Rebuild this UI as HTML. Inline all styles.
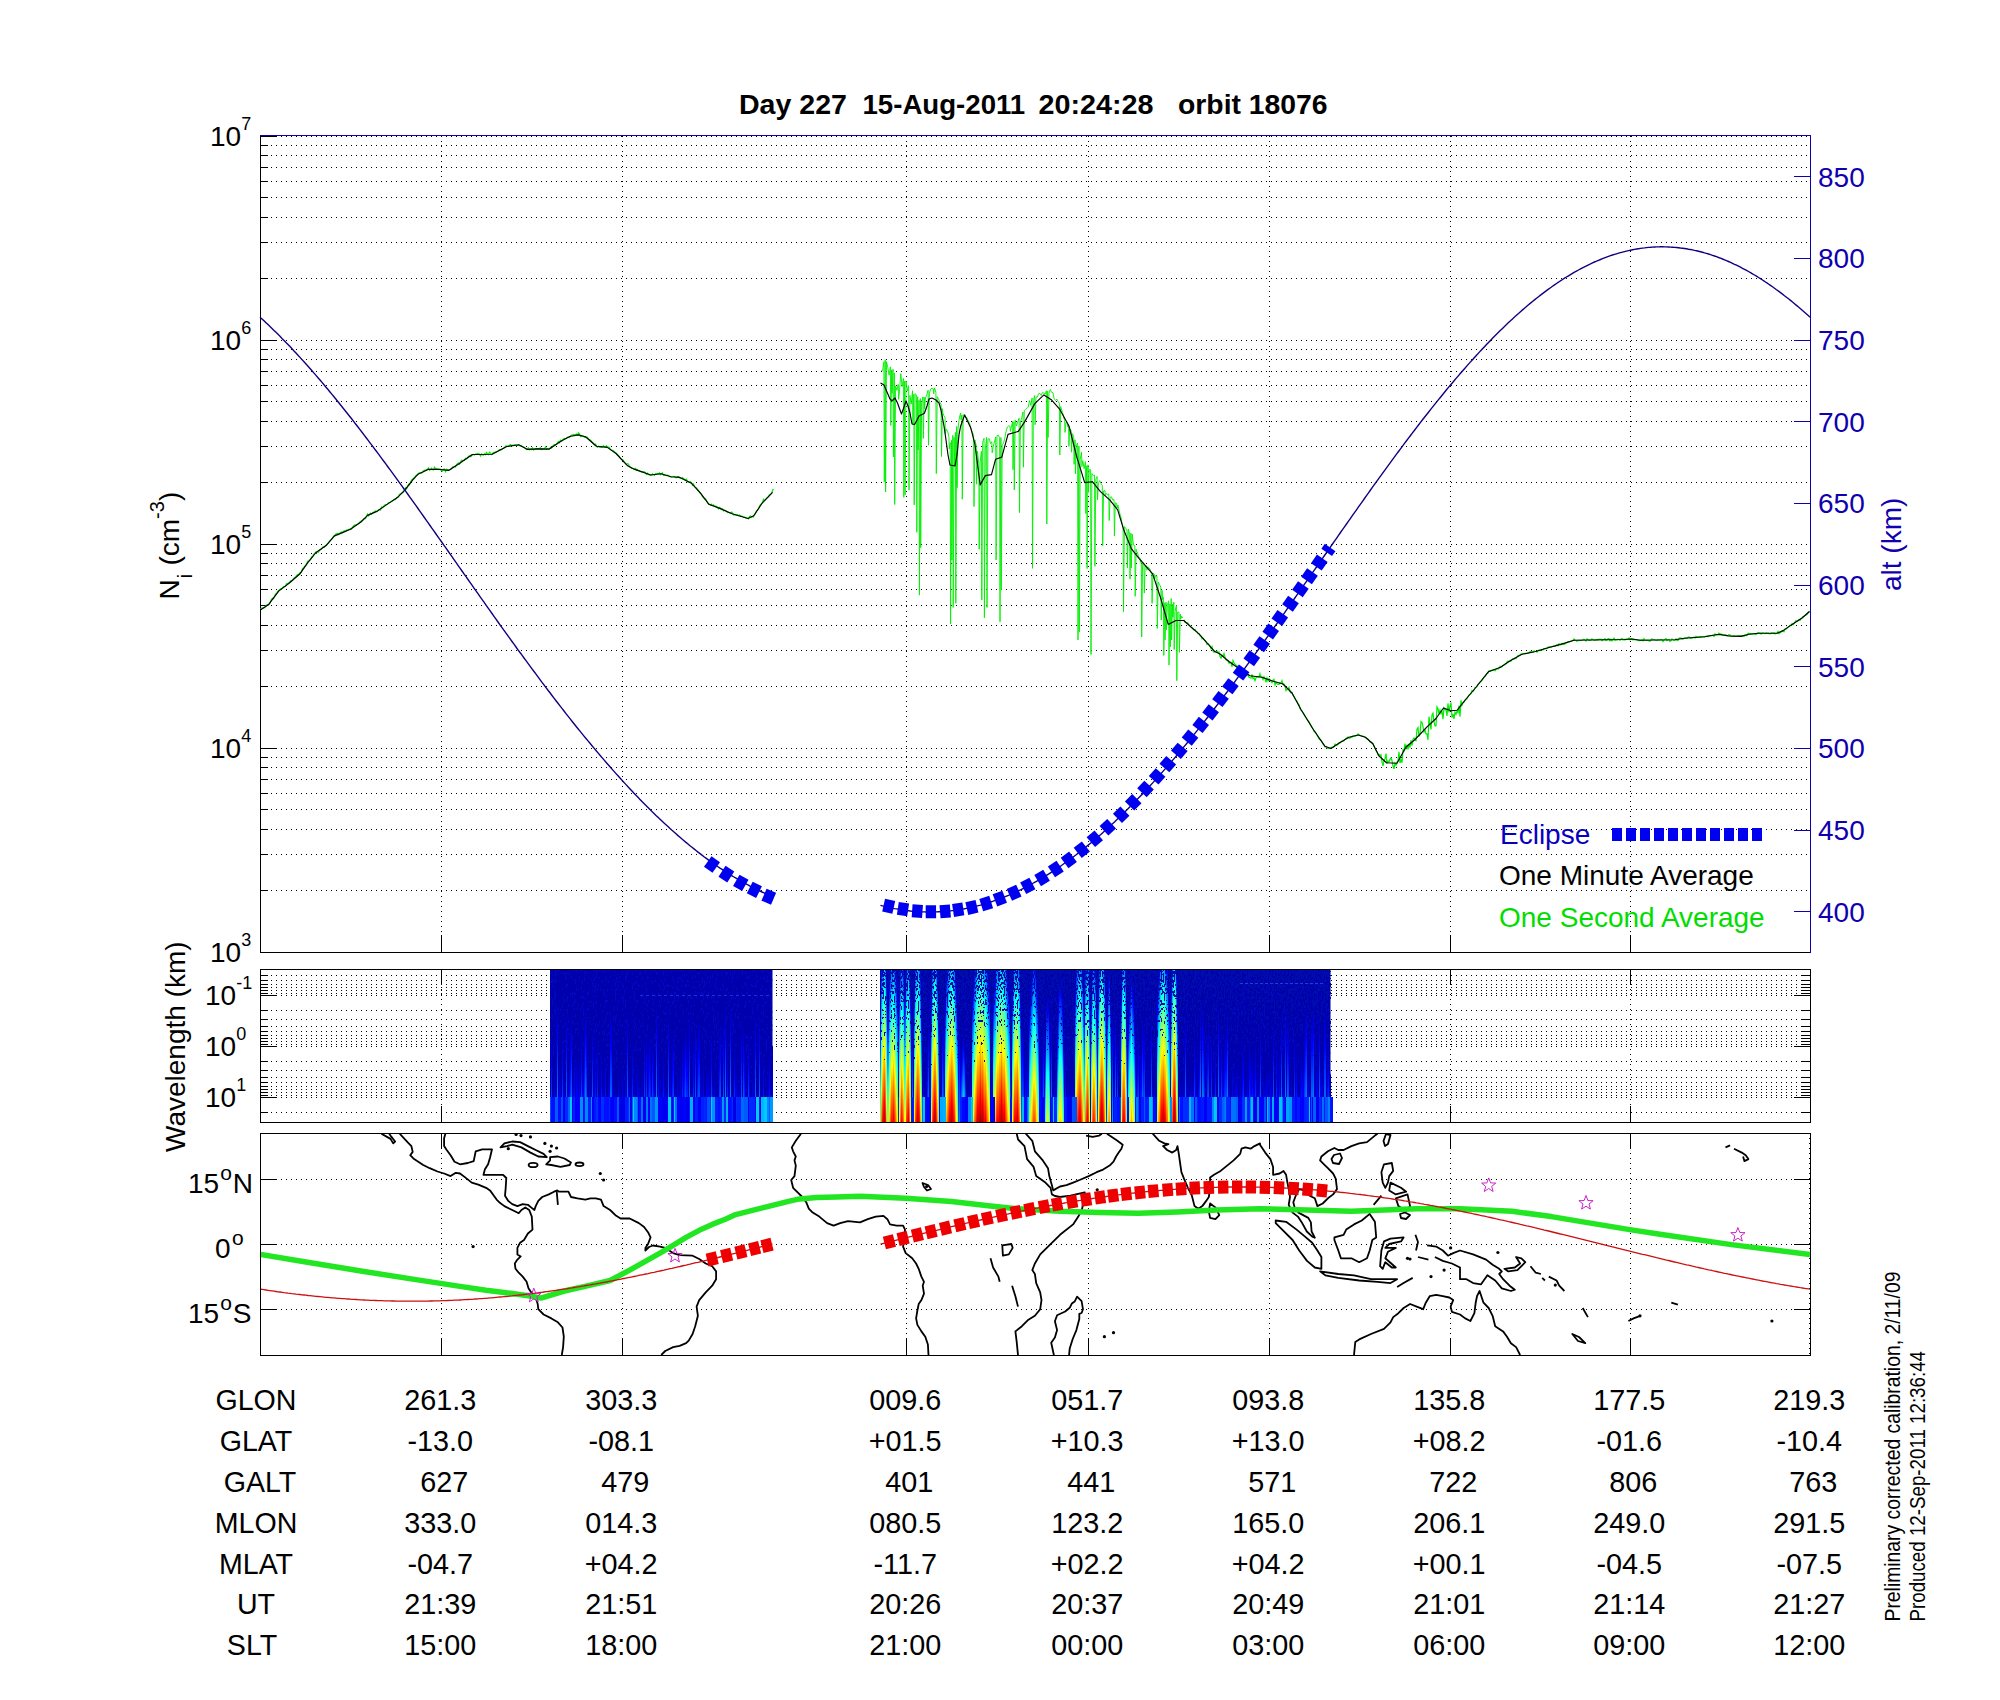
<!DOCTYPE html>
<html><head><meta charset="utf-8"><title>PLP plot</title>
<style>
html,body{margin:0;padding:0;background:#fff;}
body{width:2000px;height:1700px;overflow:hidden;}
svg{display:block;}
text{font-family:"Liberation Sans",sans-serif;white-space:pre;}
.dt{stroke:#000;stroke-width:1;stroke-dasharray:1 4;shape-rendering:crispEdges;}
.k{stroke:#000;stroke-width:1;shape-rendering:crispEdges;}
.b{stroke:#1000b0;stroke-width:1;shape-rendering:crispEdges;}
.c{fill:none;stroke:#000;stroke-width:1.8;stroke-linejoin:round;}
.gq{fill:none;stroke:#22e622;stroke-width:5.5;stroke-linejoin:round;}
.rt{fill:none;stroke:#cc1111;stroke-width:1.3;}
.rq{fill:none;stroke:#ee0000;stroke-width:13;stroke-dasharray:10 4;}
.st{fill:none;stroke:#cc22cc;stroke-width:1;}
</style></head>
<body>
<svg width="2000" height="1700" viewBox="0 0 2000 1700">
<rect width="2000" height="1700" fill="#fff"/>
<text x="739" y="114" font-size="28" fill="#000" text-anchor="start" font-weight="bold" textLength="107.9" lengthAdjust="spacingAndGlyphs">Day 227</text>
<text x="862.5" y="114" font-size="28" fill="#000" text-anchor="start" font-weight="bold" textLength="162.7" lengthAdjust="spacingAndGlyphs">15-Aug-2011</text>
<text x="1038.5" y="114" font-size="28" fill="#000" text-anchor="start" font-weight="bold" textLength="115" lengthAdjust="spacingAndGlyphs">20:24:28</text>
<text x="1178" y="114" font-size="28" fill="#000" text-anchor="start" font-weight="bold" textLength="149.6" lengthAdjust="spacingAndGlyphs">orbit 18076</text>
<g><line x1="261" y1="890.5" x2="1810" y2="890.5" class="dt"/><line x1="261" y1="854.5" x2="1810" y2="854.5" class="dt"/><line x1="261" y1="829.5" x2="1810" y2="829.5" class="dt"/><line x1="261" y1="809.5" x2="1810" y2="809.5" class="dt"/><line x1="261" y1="793.5" x2="1810" y2="793.5" class="dt"/><line x1="261" y1="779.5" x2="1810" y2="779.5" class="dt"/><line x1="261" y1="767.5" x2="1810" y2="767.5" class="dt"/><line x1="261" y1="757.5" x2="1810" y2="757.5" class="dt"/><line x1="261" y1="748.5" x2="1810" y2="748.5" class="dt"/><line x1="261" y1="686.5" x2="1810" y2="686.5" class="dt"/><line x1="261" y1="650.5" x2="1810" y2="650.5" class="dt"/><line x1="261" y1="625.5" x2="1810" y2="625.5" class="dt"/><line x1="261" y1="605.5" x2="1810" y2="605.5" class="dt"/><line x1="261" y1="589.5" x2="1810" y2="589.5" class="dt"/><line x1="261" y1="575.5" x2="1810" y2="575.5" class="dt"/><line x1="261" y1="563.5" x2="1810" y2="563.5" class="dt"/><line x1="261" y1="553.5" x2="1810" y2="553.5" class="dt"/><line x1="261" y1="544.5" x2="1810" y2="544.5" class="dt"/><line x1="261" y1="482.5" x2="1810" y2="482.5" class="dt"/><line x1="261" y1="446.5" x2="1810" y2="446.5" class="dt"/><line x1="261" y1="421.5" x2="1810" y2="421.5" class="dt"/><line x1="261" y1="401.5" x2="1810" y2="401.5" class="dt"/><line x1="261" y1="385.5" x2="1810" y2="385.5" class="dt"/><line x1="261" y1="371.5" x2="1810" y2="371.5" class="dt"/><line x1="261" y1="359.5" x2="1810" y2="359.5" class="dt"/><line x1="261" y1="349.5" x2="1810" y2="349.5" class="dt"/><line x1="261" y1="340.5" x2="1810" y2="340.5" class="dt"/><line x1="261" y1="278.5" x2="1810" y2="278.5" class="dt"/><line x1="261" y1="242.5" x2="1810" y2="242.5" class="dt"/><line x1="261" y1="217.5" x2="1810" y2="217.5" class="dt"/><line x1="261" y1="197.5" x2="1810" y2="197.5" class="dt"/><line x1="261" y1="181.5" x2="1810" y2="181.5" class="dt"/><line x1="261" y1="167.5" x2="1810" y2="167.5" class="dt"/><line x1="261" y1="155.5" x2="1810" y2="155.5" class="dt"/><line x1="261" y1="145.5" x2="1810" y2="145.5" class="dt"/><line x1="261" y1="136.5" x2="1810" y2="136.5" class="dt"/><line x1="441.5" y1="136" x2="441.5" y2="952" class="dt"/><line x1="622.5" y1="136" x2="622.5" y2="952" class="dt"/><line x1="906.5" y1="136" x2="906.5" y2="952" class="dt"/><line x1="1088.5" y1="136" x2="1088.5" y2="952" class="dt"/><line x1="1269.5" y1="136" x2="1269.5" y2="952" class="dt"/><line x1="1450.5" y1="136" x2="1450.5" y2="952" class="dt"/><line x1="1630.5" y1="136" x2="1630.5" y2="952" class="dt"/></g>
<g><line x1="260" y1="952.5" x2="276" y2="952.5" class="k"/><line x1="260" y1="890.5" x2="268" y2="890.5" class="k"/><line x1="260" y1="854.5" x2="268" y2="854.5" class="k"/><line x1="260" y1="829.5" x2="268" y2="829.5" class="k"/><line x1="260" y1="809.5" x2="268" y2="809.5" class="k"/><line x1="260" y1="793.5" x2="268" y2="793.5" class="k"/><line x1="260" y1="779.5" x2="268" y2="779.5" class="k"/><line x1="260" y1="767.5" x2="268" y2="767.5" class="k"/><line x1="260" y1="757.5" x2="268" y2="757.5" class="k"/><line x1="260" y1="748.5" x2="276" y2="748.5" class="k"/><line x1="260" y1="686.5" x2="268" y2="686.5" class="k"/><line x1="260" y1="650.5" x2="268" y2="650.5" class="k"/><line x1="260" y1="625.5" x2="268" y2="625.5" class="k"/><line x1="260" y1="605.5" x2="268" y2="605.5" class="k"/><line x1="260" y1="589.5" x2="268" y2="589.5" class="k"/><line x1="260" y1="575.5" x2="268" y2="575.5" class="k"/><line x1="260" y1="563.5" x2="268" y2="563.5" class="k"/><line x1="260" y1="553.5" x2="268" y2="553.5" class="k"/><line x1="260" y1="544.5" x2="276" y2="544.5" class="k"/><line x1="260" y1="482.5" x2="268" y2="482.5" class="k"/><line x1="260" y1="446.5" x2="268" y2="446.5" class="k"/><line x1="260" y1="421.5" x2="268" y2="421.5" class="k"/><line x1="260" y1="401.5" x2="268" y2="401.5" class="k"/><line x1="260" y1="385.5" x2="268" y2="385.5" class="k"/><line x1="260" y1="371.5" x2="268" y2="371.5" class="k"/><line x1="260" y1="359.5" x2="268" y2="359.5" class="k"/><line x1="260" y1="349.5" x2="268" y2="349.5" class="k"/><line x1="260" y1="340.5" x2="276" y2="340.5" class="k"/><line x1="260" y1="278.5" x2="268" y2="278.5" class="k"/><line x1="260" y1="242.5" x2="268" y2="242.5" class="k"/><line x1="260" y1="217.5" x2="268" y2="217.5" class="k"/><line x1="260" y1="197.5" x2="268" y2="197.5" class="k"/><line x1="260" y1="181.5" x2="268" y2="181.5" class="k"/><line x1="260" y1="167.5" x2="268" y2="167.5" class="k"/><line x1="260" y1="155.5" x2="268" y2="155.5" class="k"/><line x1="260" y1="145.5" x2="268" y2="145.5" class="k"/><line x1="260" y1="136.5" x2="276" y2="136.5" class="k"/><line x1="441.5" y1="935" x2="441.5" y2="952" class="k"/><line x1="622.5" y1="935" x2="622.5" y2="952" class="k"/><line x1="906.5" y1="935" x2="906.5" y2="952" class="k"/><line x1="1088.5" y1="935" x2="1088.5" y2="952" class="k"/><line x1="1269.5" y1="935" x2="1269.5" y2="952" class="k"/><line x1="1450.5" y1="935" x2="1450.5" y2="952" class="k"/><line x1="1630.5" y1="935" x2="1630.5" y2="952" class="k"/></g>
<line x1="260.5" y1="135" x2="260.5" y2="953" class="k"/><line x1="260" y1="952.5" x2="1811" y2="952.5" class="k"/>
<line x1="260" y1="135.5" x2="1811" y2="135.5" class="b"/><line x1="1810.5" y1="135" x2="1810.5" y2="953" class="b"/>
<text x="1818" y="922" font-size="28" fill="#1000b0" text-anchor="start" font-weight="normal" >400</text>
<text x="1818" y="840" font-size="28" fill="#1000b0" text-anchor="start" font-weight="normal" >450</text>
<text x="1818" y="758" font-size="28" fill="#1000b0" text-anchor="start" font-weight="normal" >500</text>
<text x="1818" y="677" font-size="28" fill="#1000b0" text-anchor="start" font-weight="normal" >550</text>
<text x="1818" y="595" font-size="28" fill="#1000b0" text-anchor="start" font-weight="normal" >600</text>
<text x="1818" y="513" font-size="28" fill="#1000b0" text-anchor="start" font-weight="normal" >650</text>
<text x="1818" y="432" font-size="28" fill="#1000b0" text-anchor="start" font-weight="normal" >700</text>
<text x="1818" y="350" font-size="28" fill="#1000b0" text-anchor="start" font-weight="normal" >750</text>
<text x="1818" y="268" font-size="28" fill="#1000b0" text-anchor="start" font-weight="normal" >800</text>
<text x="1818" y="187" font-size="28" fill="#1000b0" text-anchor="start" font-weight="normal" >850</text>
<g><line x1="1794" y1="911.5" x2="1810" y2="911.5" class="b"/><line x1="1794" y1="830.5" x2="1810" y2="830.5" class="b"/><line x1="1794" y1="748.5" x2="1810" y2="748.5" class="b"/><line x1="1794" y1="666.5" x2="1810" y2="666.5" class="b"/><line x1="1794" y1="585.5" x2="1810" y2="585.5" class="b"/><line x1="1794" y1="503.5" x2="1810" y2="503.5" class="b"/><line x1="1794" y1="421.5" x2="1810" y2="421.5" class="b"/><line x1="1794" y1="340.5" x2="1810" y2="340.5" class="b"/><line x1="1794" y1="258.5" x2="1810" y2="258.5" class="b"/><line x1="1794" y1="176.5" x2="1810" y2="176.5" class="b"/></g>
<text x="210" y="962.0" font-size="28">10<tspan dy="-16" font-size="18">3</tspan></text>
<text x="210" y="758.0" font-size="28">10<tspan dy="-16" font-size="18">4</tspan></text>
<text x="210" y="554.0" font-size="28">10<tspan dy="-16" font-size="18">5</tspan></text>
<text x="210" y="350.0" font-size="28">10<tspan dy="-16" font-size="18">6</tspan></text>
<text x="210" y="146.0" font-size="28">10<tspan dy="-16" font-size="18">7</tspan></text>
<text transform="translate(178.7,599.5) rotate(-90)" font-size="28">N<tspan font-size="20" dy="13" dx="1">i</tspan><tspan dy="-13" dx="0.5"> (cm</tspan><tspan font-size="20" dy="-15">-3</tspan><tspan dy="15">)</tspan></text>
<text transform="translate(1901,591) rotate(-90)" font-size="28" fill="#1000b0">alt (km)</text>
<g id="p2grid"><line x1="261" y1="975.5" x2="1810" y2="975.5" class="dt"/><line x1="260" y1="975.5" x2="268" y2="975.5" class="k"/><line x1="1802" y1="975.5" x2="1810" y2="975.5" class="k"/><line x1="261" y1="980.5" x2="1810" y2="980.5" class="dt"/><line x1="260" y1="980.5" x2="268" y2="980.5" class="k"/><line x1="1802" y1="980.5" x2="1810" y2="980.5" class="k"/><line x1="261" y1="984.5" x2="1810" y2="984.5" class="dt"/><line x1="260" y1="984.5" x2="268" y2="984.5" class="k"/><line x1="1802" y1="984.5" x2="1810" y2="984.5" class="k"/><line x1="261" y1="987.5" x2="1810" y2="987.5" class="dt"/><line x1="260" y1="987.5" x2="268" y2="987.5" class="k"/><line x1="1802" y1="987.5" x2="1810" y2="987.5" class="k"/><line x1="261" y1="990.5" x2="1810" y2="990.5" class="dt"/><line x1="260" y1="990.5" x2="268" y2="990.5" class="k"/><line x1="1802" y1="990.5" x2="1810" y2="990.5" class="k"/><line x1="261" y1="993.5" x2="1810" y2="993.5" class="dt"/><line x1="260" y1="993.5" x2="268" y2="993.5" class="k"/><line x1="1802" y1="993.5" x2="1810" y2="993.5" class="k"/><line x1="261" y1="995.5" x2="1810" y2="995.5" class="dt"/><line x1="260" y1="995.5" x2="276" y2="995.5" class="k"/><line x1="1794" y1="995.5" x2="1810" y2="995.5" class="k"/><line x1="261" y1="1010.5" x2="1810" y2="1010.5" class="dt"/><line x1="260" y1="1010.5" x2="268" y2="1010.5" class="k"/><line x1="1802" y1="1010.5" x2="1810" y2="1010.5" class="k"/><line x1="261" y1="1019.5" x2="1810" y2="1019.5" class="dt"/><line x1="260" y1="1019.5" x2="268" y2="1019.5" class="k"/><line x1="1802" y1="1019.5" x2="1810" y2="1019.5" class="k"/><line x1="261" y1="1026.5" x2="1810" y2="1026.5" class="dt"/><line x1="260" y1="1026.5" x2="268" y2="1026.5" class="k"/><line x1="1802" y1="1026.5" x2="1810" y2="1026.5" class="k"/><line x1="261" y1="1031.5" x2="1810" y2="1031.5" class="dt"/><line x1="260" y1="1031.5" x2="268" y2="1031.5" class="k"/><line x1="1802" y1="1031.5" x2="1810" y2="1031.5" class="k"/><line x1="261" y1="1035.5" x2="1810" y2="1035.5" class="dt"/><line x1="260" y1="1035.5" x2="268" y2="1035.5" class="k"/><line x1="1802" y1="1035.5" x2="1810" y2="1035.5" class="k"/><line x1="261" y1="1038.5" x2="1810" y2="1038.5" class="dt"/><line x1="260" y1="1038.5" x2="268" y2="1038.5" class="k"/><line x1="1802" y1="1038.5" x2="1810" y2="1038.5" class="k"/><line x1="261" y1="1041.5" x2="1810" y2="1041.5" class="dt"/><line x1="260" y1="1041.5" x2="268" y2="1041.5" class="k"/><line x1="1802" y1="1041.5" x2="1810" y2="1041.5" class="k"/><line x1="261" y1="1044.5" x2="1810" y2="1044.5" class="dt"/><line x1="260" y1="1044.5" x2="268" y2="1044.5" class="k"/><line x1="1802" y1="1044.5" x2="1810" y2="1044.5" class="k"/><line x1="261" y1="1046.5" x2="1810" y2="1046.5" class="dt"/><line x1="260" y1="1046.5" x2="276" y2="1046.5" class="k"/><line x1="1794" y1="1046.5" x2="1810" y2="1046.5" class="k"/><line x1="261" y1="1061.5" x2="1810" y2="1061.5" class="dt"/><line x1="260" y1="1061.5" x2="268" y2="1061.5" class="k"/><line x1="1802" y1="1061.5" x2="1810" y2="1061.5" class="k"/><line x1="261" y1="1070.5" x2="1810" y2="1070.5" class="dt"/><line x1="260" y1="1070.5" x2="268" y2="1070.5" class="k"/><line x1="1802" y1="1070.5" x2="1810" y2="1070.5" class="k"/><line x1="261" y1="1077.5" x2="1810" y2="1077.5" class="dt"/><line x1="260" y1="1077.5" x2="268" y2="1077.5" class="k"/><line x1="1802" y1="1077.5" x2="1810" y2="1077.5" class="k"/><line x1="261" y1="1082.5" x2="1810" y2="1082.5" class="dt"/><line x1="260" y1="1082.5" x2="268" y2="1082.5" class="k"/><line x1="1802" y1="1082.5" x2="1810" y2="1082.5" class="k"/><line x1="261" y1="1086.5" x2="1810" y2="1086.5" class="dt"/><line x1="260" y1="1086.5" x2="268" y2="1086.5" class="k"/><line x1="1802" y1="1086.5" x2="1810" y2="1086.5" class="k"/><line x1="261" y1="1089.5" x2="1810" y2="1089.5" class="dt"/><line x1="260" y1="1089.5" x2="268" y2="1089.5" class="k"/><line x1="1802" y1="1089.5" x2="1810" y2="1089.5" class="k"/><line x1="261" y1="1092.5" x2="1810" y2="1092.5" class="dt"/><line x1="260" y1="1092.5" x2="268" y2="1092.5" class="k"/><line x1="1802" y1="1092.5" x2="1810" y2="1092.5" class="k"/><line x1="261" y1="1095.5" x2="1810" y2="1095.5" class="dt"/><line x1="260" y1="1095.5" x2="268" y2="1095.5" class="k"/><line x1="1802" y1="1095.5" x2="1810" y2="1095.5" class="k"/><line x1="261" y1="1097.5" x2="1810" y2="1097.5" class="dt"/><line x1="260" y1="1097.5" x2="276" y2="1097.5" class="k"/><line x1="1794" y1="1097.5" x2="1810" y2="1097.5" class="k"/><line x1="261" y1="1112.5" x2="1810" y2="1112.5" class="dt"/><line x1="260" y1="1112.5" x2="268" y2="1112.5" class="k"/><line x1="1802" y1="1112.5" x2="1810" y2="1112.5" class="k"/><line x1="441.5" y1="969" x2="441.5" y2="1122" class="dt"/><line x1="441.5" y1="969" x2="441.5" y2="985" class="k"/><line x1="441.5" y1="1106" x2="441.5" y2="1122" class="k"/><line x1="622.5" y1="969" x2="622.5" y2="1122" class="dt"/><line x1="622.5" y1="969" x2="622.5" y2="985" class="k"/><line x1="622.5" y1="1106" x2="622.5" y2="1122" class="k"/><line x1="906.5" y1="969" x2="906.5" y2="1122" class="dt"/><line x1="906.5" y1="969" x2="906.5" y2="985" class="k"/><line x1="906.5" y1="1106" x2="906.5" y2="1122" class="k"/><line x1="1088.5" y1="969" x2="1088.5" y2="1122" class="dt"/><line x1="1088.5" y1="969" x2="1088.5" y2="985" class="k"/><line x1="1088.5" y1="1106" x2="1088.5" y2="1122" class="k"/><line x1="1269.5" y1="969" x2="1269.5" y2="1122" class="dt"/><line x1="1269.5" y1="969" x2="1269.5" y2="985" class="k"/><line x1="1269.5" y1="1106" x2="1269.5" y2="1122" class="k"/><line x1="1450.5" y1="969" x2="1450.5" y2="1122" class="dt"/><line x1="1450.5" y1="969" x2="1450.5" y2="985" class="k"/><line x1="1450.5" y1="1106" x2="1450.5" y2="1122" class="k"/><line x1="1630.5" y1="969" x2="1630.5" y2="1122" class="dt"/><line x1="1630.5" y1="969" x2="1630.5" y2="985" class="k"/><line x1="1630.5" y1="1106" x2="1630.5" y2="1122" class="k"/></g>
<defs><linearGradient id="jet" x1="0" y1="0" x2="0" y2="1"><stop offset="0" stop-color="#0000ad"/><stop offset="0.045" stop-color="#0000ad"/><stop offset="0.125" stop-color="#0000ff"/><stop offset="0.25" stop-color="#007fff"/><stop offset="0.375" stop-color="#00ffff"/><stop offset="0.5" stop-color="#7fff7f"/><stop offset="0.625" stop-color="#ffff00"/><stop offset="0.75" stop-color="#ff7f00"/><stop offset="0.875" stop-color="#ff0000"/><stop offset="1.0" stop-color="#7f0000"/></linearGradient><clipPath id="spc"><rect x="261" y="970" width="1549" height="152"/></clipPath><clipPath id="blk"><rect x="550" y="970" width="222.5" height="152"/><rect x="880" y="970" width="450.5" height="152"/></clipPath><linearGradient id="spkg" x1="0" y1="0" x2="0" y2="1"><stop offset="0" stop-color="#a0a0a0"/><stop offset="0.5" stop-color="#6a6a6a"/><stop offset="1" stop-color="#202020"/></linearGradient><filter id="spk" x="880" y="970" width="451" height="152" filterUnits="userSpaceOnUse" color-interpolation-filters="sRGB"><feTurbulence type="fractalNoise" baseFrequency="0.7 0.35" numOctaves="1" seed="4" result="n0"/><feColorMatrix in="n0" type="matrix" values="1 0 0 0 0  1 0 0 0 0  1 0 0 0 0  0 0 0 0 1" result="n"/><feComposite in="n" in2="SourceGraphic" operator="arithmetic" k1="0" k2="1" k3="1" k4="-0.6" result="s"/><feColorMatrix in="s" type="matrix" values="0 0 0 0 0  0 0 0 0 0.05  0 0 0 0 0.66  1 0 0 0 0"/><feComponentTransfer><feFuncA type="discrete" tableValues="0 1"/></feComponentTransfer></filter><filter id="tex" x="550" y="970" width="781" height="152" filterUnits="userSpaceOnUse" color-interpolation-filters="sRGB"><feTurbulence type="fractalNoise" baseFrequency="0.9 0.25" numOctaves="1" seed="9" result="n0"/><feColorMatrix in="n0" type="matrix" values="0 0 0 0 0.02  0 0 0 0 0.06  0 0 0 0 0.85  2.2 0 0 0 -0.85"/><feComponentTransfer><feFuncA type="discrete" tableValues="0 0.55"/></feComponentTransfer></filter></defs>
<g clip-path="url(#spc)">
<rect x="880" y="970" width="450.5" height="152" fill="#0000ad"/>
<rect x="550" y="970" width="222.5" height="152" fill="#0000ad"/>
<g clip-path="url(#blk)"><rect x="550" y="970" width="781" height="152" fill="#000" filter="url(#tex)"/></g>
<rect x="550" y="1083.9" width="1" height="476" fill="url(#jet)"/>
<rect x="551" y="1007.7" width="1" height="476" fill="url(#jet)"/>
<rect x="552" y="1074.4" width="1" height="476" fill="url(#jet)"/>
<rect x="553" y="1083.9" width="1" height="476" fill="url(#jet)"/>
<rect x="554" y="1045.8" width="1" height="476" fill="url(#jet)"/>
<rect x="555" y="1064.9" width="2" height="476" fill="url(#jet)"/>
<rect x="557" y="979.1" width="1" height="476" fill="url(#jet)"/>
<rect x="558" y="1064.9" width="1" height="476" fill="url(#jet)"/>
<rect x="559" y="1036.3" width="1" height="476" fill="url(#jet)"/>
<rect x="560" y="1045.8" width="1" height="476" fill="url(#jet)"/>
<rect x="561" y="1074.4" width="1" height="476" fill="url(#jet)"/>
<rect x="562" y="1007.7" width="1" height="476" fill="url(#jet)"/>
<rect x="563" y="1055.3" width="2" height="476" fill="url(#jet)"/>
<rect x="565" y="1093.4" width="1" height="476" fill="url(#jet)"/>
<rect x="566" y="988.7" width="1" height="476" fill="url(#jet)"/>
<rect x="567" y="1064.9" width="1" height="476" fill="url(#jet)"/>
<rect x="568" y="1055.3" width="1" height="476" fill="url(#jet)"/>
<rect x="569" y="1036.3" width="1" height="476" fill="url(#jet)"/>
<rect x="570" y="1007.7" width="1" height="476" fill="url(#jet)"/>
<rect x="571" y="988.7" width="1" height="476" fill="url(#jet)"/>
<rect x="572" y="1055.3" width="1" height="476" fill="url(#jet)"/>
<rect x="573" y="1045.8" width="1" height="476" fill="url(#jet)"/>
<rect x="574" y="1026.8" width="1" height="476" fill="url(#jet)"/>
<rect x="575" y="1083.9" width="1" height="476" fill="url(#jet)"/>
<rect x="576" y="1036.3" width="2" height="476" fill="url(#jet)"/>
<rect x="578" y="1074.4" width="1" height="476" fill="url(#jet)"/>
<rect x="579" y="1036.3" width="1" height="476" fill="url(#jet)"/>
<rect x="580" y="1055.3" width="1" height="476" fill="url(#jet)"/>
<rect x="581" y="1007.7" width="1" height="476" fill="url(#jet)"/>
<rect x="582" y="1036.3" width="1" height="476" fill="url(#jet)"/>
<rect x="583" y="1045.8" width="1" height="476" fill="url(#jet)"/>
<rect x="584" y="1007.7" width="1" height="476" fill="url(#jet)"/>
<rect x="585" y="979.1" width="1" height="476" fill="url(#jet)"/>
<rect x="586" y="998.2" width="1" height="476" fill="url(#jet)"/>
<rect x="587" y="1074.4" width="1" height="476" fill="url(#jet)"/>
<rect x="588" y="1083.9" width="1" height="476" fill="url(#jet)"/>
<rect x="589" y="1055.3" width="1" height="476" fill="url(#jet)"/>
<rect x="590" y="1083.9" width="1" height="476" fill="url(#jet)"/>
<rect x="591" y="1055.3" width="1" height="476" fill="url(#jet)"/>
<rect x="592" y="998.2" width="1" height="476" fill="url(#jet)"/>
<rect x="593" y="1064.9" width="1" height="476" fill="url(#jet)"/>
<rect x="594" y="1055.3" width="1" height="476" fill="url(#jet)"/>
<rect x="595" y="1026.8" width="1" height="476" fill="url(#jet)"/>
<rect x="596" y="1064.9" width="1" height="476" fill="url(#jet)"/>
<rect x="597" y="1017.2" width="1" height="476" fill="url(#jet)"/>
<rect x="598" y="1083.9" width="2" height="476" fill="url(#jet)"/>
<rect x="600" y="1064.9" width="1" height="476" fill="url(#jet)"/>
<rect x="601" y="1026.8" width="1" height="476" fill="url(#jet)"/>
<rect x="602" y="1064.9" width="1" height="476" fill="url(#jet)"/>
<rect x="603" y="1055.3" width="1" height="476" fill="url(#jet)"/>
<rect x="604" y="1074.4" width="1" height="476" fill="url(#jet)"/>
<rect x="605" y="1026.8" width="1" height="476" fill="url(#jet)"/>
<rect x="606" y="1074.4" width="1" height="476" fill="url(#jet)"/>
<rect x="607" y="1093.4" width="1" height="476" fill="url(#jet)"/>
<rect x="608" y="1045.8" width="1" height="476" fill="url(#jet)"/>
<rect x="609" y="1055.3" width="1" height="476" fill="url(#jet)"/>
<rect x="610" y="988.7" width="2" height="476" fill="url(#jet)"/>
<rect x="612" y="1036.3" width="1" height="476" fill="url(#jet)"/>
<rect x="613" y="1074.4" width="1" height="476" fill="url(#jet)"/>
<rect x="614" y="1064.9" width="2" height="476" fill="url(#jet)"/>
<rect x="616" y="1083.9" width="1" height="476" fill="url(#jet)"/>
<rect x="617" y="1074.4" width="1" height="476" fill="url(#jet)"/>
<rect x="618" y="1045.8" width="1" height="476" fill="url(#jet)"/>
<rect x="619" y="1064.9" width="2" height="476" fill="url(#jet)"/>
<rect x="621" y="1083.9" width="1" height="476" fill="url(#jet)"/>
<rect x="622" y="1036.3" width="1" height="476" fill="url(#jet)"/>
<rect x="623" y="1083.9" width="2" height="476" fill="url(#jet)"/>
<rect x="625" y="1045.8" width="1" height="476" fill="url(#jet)"/>
<rect x="626" y="1074.4" width="1" height="476" fill="url(#jet)"/>
<rect x="627" y="988.7" width="1" height="476" fill="url(#jet)"/>
<rect x="628" y="1045.8" width="1" height="476" fill="url(#jet)"/>
<rect x="629" y="1055.3" width="1" height="476" fill="url(#jet)"/>
<rect x="630" y="1064.9" width="1" height="476" fill="url(#jet)"/>
<rect x="631" y="1055.3" width="1" height="476" fill="url(#jet)"/>
<rect x="632" y="1017.2" width="1" height="476" fill="url(#jet)"/>
<rect x="633" y="1093.4" width="1" height="476" fill="url(#jet)"/>
<rect x="634" y="1055.3" width="1" height="476" fill="url(#jet)"/>
<rect x="635" y="1064.9" width="1" height="476" fill="url(#jet)"/>
<rect x="636" y="1083.9" width="1" height="476" fill="url(#jet)"/>
<rect x="637" y="1036.3" width="1" height="476" fill="url(#jet)"/>
<rect x="638" y="1055.3" width="2" height="476" fill="url(#jet)"/>
<rect x="640" y="1083.9" width="1" height="476" fill="url(#jet)"/>
<rect x="641" y="1055.3" width="1" height="476" fill="url(#jet)"/>
<rect x="642" y="1045.8" width="1" height="476" fill="url(#jet)"/>
<rect x="643" y="1074.4" width="1" height="476" fill="url(#jet)"/>
<rect x="644" y="1007.7" width="1" height="476" fill="url(#jet)"/>
<rect x="645" y="1064.9" width="1" height="476" fill="url(#jet)"/>
<rect x="646" y="1007.7" width="1" height="476" fill="url(#jet)"/>
<rect x="647" y="1064.9" width="1" height="476" fill="url(#jet)"/>
<rect x="648" y="1026.8" width="1" height="476" fill="url(#jet)"/>
<rect x="649" y="1007.7" width="1" height="476" fill="url(#jet)"/>
<rect x="650" y="1017.2" width="1" height="476" fill="url(#jet)"/>
<rect x="651" y="1064.9" width="1" height="476" fill="url(#jet)"/>
<rect x="652" y="1007.7" width="1" height="476" fill="url(#jet)"/>
<rect x="653" y="1026.8" width="1" height="476" fill="url(#jet)"/>
<rect x="654" y="1055.3" width="2" height="476" fill="url(#jet)"/>
<rect x="656" y="979.1" width="1" height="476" fill="url(#jet)"/>
<rect x="657" y="1083.9" width="1" height="476" fill="url(#jet)"/>
<rect x="658" y="1026.8" width="1" height="476" fill="url(#jet)"/>
<rect x="659" y="1074.4" width="1" height="476" fill="url(#jet)"/>
<rect x="660" y="1045.8" width="1" height="476" fill="url(#jet)"/>
<rect x="661" y="1064.9" width="1" height="476" fill="url(#jet)"/>
<rect x="662" y="1055.3" width="1" height="476" fill="url(#jet)"/>
<rect x="663" y="1026.8" width="1" height="476" fill="url(#jet)"/>
<rect x="664" y="1064.9" width="1" height="476" fill="url(#jet)"/>
<rect x="665" y="1055.3" width="1" height="476" fill="url(#jet)"/>
<rect x="666" y="1064.9" width="2" height="476" fill="url(#jet)"/>
<rect x="668" y="988.7" width="1" height="476" fill="url(#jet)"/>
<rect x="669" y="1064.9" width="1" height="476" fill="url(#jet)"/>
<rect x="670" y="1036.3" width="1" height="476" fill="url(#jet)"/>
<rect x="671" y="1055.3" width="1" height="476" fill="url(#jet)"/>
<rect x="672" y="1017.2" width="1" height="476" fill="url(#jet)"/>
<rect x="673" y="1007.7" width="1" height="476" fill="url(#jet)"/>
<rect x="674" y="1064.9" width="2" height="476" fill="url(#jet)"/>
<rect x="676" y="1074.4" width="1" height="476" fill="url(#jet)"/>
<rect x="677" y="1045.8" width="1" height="476" fill="url(#jet)"/>
<rect x="678" y="1083.9" width="1" height="476" fill="url(#jet)"/>
<rect x="679" y="1055.3" width="1" height="476" fill="url(#jet)"/>
<rect x="680" y="1036.3" width="1" height="476" fill="url(#jet)"/>
<rect x="681" y="1083.9" width="1" height="476" fill="url(#jet)"/>
<rect x="682" y="1017.2" width="1" height="476" fill="url(#jet)"/>
<rect x="683" y="1036.3" width="1" height="476" fill="url(#jet)"/>
<rect x="684" y="1017.2" width="1" height="476" fill="url(#jet)"/>
<rect x="685" y="998.2" width="1" height="476" fill="url(#jet)"/>
<rect x="686" y="1017.2" width="2" height="476" fill="url(#jet)"/>
<rect x="688" y="1064.9" width="1" height="476" fill="url(#jet)"/>
<rect x="689" y="988.7" width="1" height="476" fill="url(#jet)"/>
<rect x="690" y="1064.9" width="1" height="476" fill="url(#jet)"/>
<rect x="691" y="1083.9" width="1" height="476" fill="url(#jet)"/>
<rect x="692" y="1055.3" width="1" height="476" fill="url(#jet)"/>
<rect x="693" y="1017.2" width="1" height="476" fill="url(#jet)"/>
<rect x="694" y="1064.9" width="1" height="476" fill="url(#jet)"/>
<rect x="695" y="998.2" width="1" height="476" fill="url(#jet)"/>
<rect x="696" y="1083.9" width="1" height="476" fill="url(#jet)"/>
<rect x="697" y="1017.2" width="1" height="476" fill="url(#jet)"/>
<rect x="698" y="998.2" width="2" height="476" fill="url(#jet)"/>
<rect x="700" y="1083.9" width="1" height="476" fill="url(#jet)"/>
<rect x="701" y="1045.8" width="1" height="476" fill="url(#jet)"/>
<rect x="702" y="1064.9" width="1" height="476" fill="url(#jet)"/>
<rect x="703" y="1036.3" width="1" height="476" fill="url(#jet)"/>
<rect x="704" y="1074.4" width="2" height="476" fill="url(#jet)"/>
<rect x="706" y="1045.8" width="3" height="476" fill="url(#jet)"/>
<rect x="709" y="1055.3" width="1" height="476" fill="url(#jet)"/>
<rect x="710" y="1074.4" width="1" height="476" fill="url(#jet)"/>
<rect x="711" y="1007.7" width="1" height="476" fill="url(#jet)"/>
<rect x="712" y="1045.8" width="1" height="476" fill="url(#jet)"/>
<rect x="713" y="1064.9" width="1" height="476" fill="url(#jet)"/>
<rect x="714" y="1055.3" width="1" height="476" fill="url(#jet)"/>
<rect x="715" y="1083.9" width="1" height="476" fill="url(#jet)"/>
<rect x="716" y="1064.9" width="1" height="476" fill="url(#jet)"/>
<rect x="717" y="1083.9" width="2" height="476" fill="url(#jet)"/>
<rect x="719" y="1007.7" width="1" height="476" fill="url(#jet)"/>
<rect x="720" y="998.2" width="1" height="476" fill="url(#jet)"/>
<rect x="721" y="1074.4" width="1" height="476" fill="url(#jet)"/>
<rect x="722" y="1083.9" width="1" height="476" fill="url(#jet)"/>
<rect x="723" y="998.2" width="1" height="476" fill="url(#jet)"/>
<rect x="724" y="1074.4" width="1" height="476" fill="url(#jet)"/>
<rect x="725" y="979.1" width="1" height="476" fill="url(#jet)"/>
<rect x="726" y="1093.4" width="1" height="476" fill="url(#jet)"/>
<rect x="727" y="1017.2" width="1" height="476" fill="url(#jet)"/>
<rect x="728" y="1064.9" width="1" height="476" fill="url(#jet)"/>
<rect x="729" y="1045.8" width="1" height="476" fill="url(#jet)"/>
<rect x="730" y="979.1" width="1" height="476" fill="url(#jet)"/>
<rect x="731" y="1074.4" width="1" height="476" fill="url(#jet)"/>
<rect x="732" y="1064.9" width="2" height="476" fill="url(#jet)"/>
<rect x="734" y="1017.2" width="1" height="476" fill="url(#jet)"/>
<rect x="735" y="1045.8" width="2" height="476" fill="url(#jet)"/>
<rect x="737" y="1055.3" width="1" height="476" fill="url(#jet)"/>
<rect x="738" y="1083.9" width="1" height="476" fill="url(#jet)"/>
<rect x="739" y="1055.3" width="1" height="476" fill="url(#jet)"/>
<rect x="740" y="1093.4" width="1" height="476" fill="url(#jet)"/>
<rect x="741" y="998.2" width="1" height="476" fill="url(#jet)"/>
<rect x="742" y="1083.9" width="1" height="476" fill="url(#jet)"/>
<rect x="743" y="998.2" width="1" height="476" fill="url(#jet)"/>
<rect x="744" y="1017.2" width="1" height="476" fill="url(#jet)"/>
<rect x="745" y="1045.8" width="1" height="476" fill="url(#jet)"/>
<rect x="746" y="1093.4" width="1" height="476" fill="url(#jet)"/>
<rect x="747" y="1064.9" width="1" height="476" fill="url(#jet)"/>
<rect x="748" y="1007.7" width="1" height="476" fill="url(#jet)"/>
<rect x="749" y="1036.3" width="1" height="476" fill="url(#jet)"/>
<rect x="750" y="1083.9" width="2" height="476" fill="url(#jet)"/>
<rect x="752" y="1045.8" width="1" height="476" fill="url(#jet)"/>
<rect x="753" y="1055.3" width="1" height="476" fill="url(#jet)"/>
<rect x="754" y="1074.4" width="1" height="476" fill="url(#jet)"/>
<rect x="755" y="988.7" width="1" height="476" fill="url(#jet)"/>
<rect x="756" y="1083.9" width="1" height="476" fill="url(#jet)"/>
<rect x="757" y="1064.9" width="2" height="476" fill="url(#jet)"/>
<rect x="759" y="988.7" width="1" height="476" fill="url(#jet)"/>
<rect x="760" y="1064.9" width="1" height="476" fill="url(#jet)"/>
<rect x="761" y="1093.4" width="1" height="476" fill="url(#jet)"/>
<rect x="762" y="1083.9" width="1" height="476" fill="url(#jet)"/>
<rect x="763" y="1026.8" width="1" height="476" fill="url(#jet)"/>
<rect x="764" y="1074.4" width="1" height="476" fill="url(#jet)"/>
<rect x="765" y="1093.4" width="1" height="476" fill="url(#jet)"/>
<rect x="766" y="1055.3" width="1" height="476" fill="url(#jet)"/>
<rect x="767" y="1074.4" width="1" height="476" fill="url(#jet)"/>
<rect x="768" y="1055.3" width="1" height="476" fill="url(#jet)"/>
<rect x="769" y="1026.8" width="1" height="476" fill="url(#jet)"/>
<rect x="770" y="1074.4" width="1" height="476" fill="url(#jet)"/>
<rect x="771" y="1064.9" width="1" height="476" fill="url(#jet)"/>
<rect x="772" y="1045.8" width="1" height="476" fill="url(#jet)"/>
<rect x="880" y="1055.3" width="1" height="476" fill="url(#jet)"/>
<rect x="881" y="1093.4" width="1" height="476" fill="url(#jet)"/>
<rect x="882" y="1055.3" width="1" height="476" fill="url(#jet)"/>
<rect x="883" y="1007.7" width="1" height="476" fill="url(#jet)"/>
<rect x="884" y="1055.3" width="1" height="476" fill="url(#jet)"/>
<rect x="885" y="1036.3" width="1" height="476" fill="url(#jet)"/>
<rect x="886" y="1055.3" width="2" height="476" fill="url(#jet)"/>
<rect x="888" y="1083.9" width="1" height="476" fill="url(#jet)"/>
<rect x="889" y="1055.3" width="1" height="476" fill="url(#jet)"/>
<rect x="890" y="1093.4" width="1" height="476" fill="url(#jet)"/>
<rect x="891" y="1055.3" width="1" height="476" fill="url(#jet)"/>
<rect x="892" y="1083.9" width="2" height="476" fill="url(#jet)"/>
<rect x="894" y="1055.3" width="1" height="476" fill="url(#jet)"/>
<rect x="895" y="1045.8" width="1" height="476" fill="url(#jet)"/>
<rect x="896" y="1036.3" width="1" height="476" fill="url(#jet)"/>
<rect x="897" y="1045.8" width="1" height="476" fill="url(#jet)"/>
<rect x="898" y="1083.9" width="1" height="476" fill="url(#jet)"/>
<rect x="899" y="988.7" width="1" height="476" fill="url(#jet)"/>
<rect x="900" y="1026.8" width="1" height="476" fill="url(#jet)"/>
<rect x="901" y="979.1" width="1" height="476" fill="url(#jet)"/>
<rect x="902" y="1064.9" width="1" height="476" fill="url(#jet)"/>
<rect x="903" y="1083.9" width="1" height="476" fill="url(#jet)"/>
<rect x="904" y="1055.3" width="1" height="476" fill="url(#jet)"/>
<rect x="905" y="1045.8" width="1" height="476" fill="url(#jet)"/>
<rect x="906" y="998.2" width="1" height="476" fill="url(#jet)"/>
<rect x="907" y="1026.8" width="1" height="476" fill="url(#jet)"/>
<rect x="908" y="1074.4" width="1" height="476" fill="url(#jet)"/>
<rect x="909" y="998.2" width="1" height="476" fill="url(#jet)"/>
<rect x="910" y="1074.4" width="1" height="476" fill="url(#jet)"/>
<rect x="911" y="1083.9" width="1" height="476" fill="url(#jet)"/>
<rect x="912" y="988.7" width="1" height="476" fill="url(#jet)"/>
<rect x="913" y="1045.8" width="1" height="476" fill="url(#jet)"/>
<rect x="914" y="1055.3" width="1" height="476" fill="url(#jet)"/>
<rect x="915" y="1074.4" width="1" height="476" fill="url(#jet)"/>
<rect x="916" y="988.7" width="1" height="476" fill="url(#jet)"/>
<rect x="917" y="1064.9" width="1" height="476" fill="url(#jet)"/>
<rect x="918" y="1083.9" width="2" height="476" fill="url(#jet)"/>
<rect x="920" y="1026.8" width="1" height="476" fill="url(#jet)"/>
<rect x="921" y="1064.9" width="1" height="476" fill="url(#jet)"/>
<rect x="922" y="1093.4" width="1" height="476" fill="url(#jet)"/>
<rect x="923" y="1045.8" width="1" height="476" fill="url(#jet)"/>
<rect x="924" y="1074.4" width="1" height="476" fill="url(#jet)"/>
<rect x="925" y="1055.3" width="1" height="476" fill="url(#jet)"/>
<rect x="926" y="1093.4" width="1" height="476" fill="url(#jet)"/>
<rect x="927" y="1017.2" width="1" height="476" fill="url(#jet)"/>
<rect x="928" y="988.7" width="1" height="476" fill="url(#jet)"/>
<rect x="929" y="1055.3" width="1" height="476" fill="url(#jet)"/>
<rect x="930" y="1045.8" width="1" height="476" fill="url(#jet)"/>
<rect x="931" y="1055.3" width="3" height="476" fill="url(#jet)"/>
<rect x="934" y="979.1" width="1" height="476" fill="url(#jet)"/>
<rect x="935" y="1055.3" width="1" height="476" fill="url(#jet)"/>
<rect x="936" y="1007.7" width="1" height="476" fill="url(#jet)"/>
<rect x="937" y="1074.4" width="1" height="476" fill="url(#jet)"/>
<rect x="938" y="1036.3" width="1" height="476" fill="url(#jet)"/>
<rect x="939" y="1064.9" width="1" height="476" fill="url(#jet)"/>
<rect x="940" y="1083.9" width="1" height="476" fill="url(#jet)"/>
<rect x="941" y="1055.3" width="1" height="476" fill="url(#jet)"/>
<rect x="942" y="988.7" width="1" height="476" fill="url(#jet)"/>
<rect x="943" y="1007.7" width="1" height="476" fill="url(#jet)"/>
<rect x="944" y="1055.3" width="1" height="476" fill="url(#jet)"/>
<rect x="945" y="1064.9" width="1" height="476" fill="url(#jet)"/>
<rect x="946" y="1055.3" width="1" height="476" fill="url(#jet)"/>
<rect x="947" y="1045.8" width="1" height="476" fill="url(#jet)"/>
<rect x="948" y="1017.2" width="1" height="476" fill="url(#jet)"/>
<rect x="949" y="1036.3" width="1" height="476" fill="url(#jet)"/>
<rect x="950" y="1093.4" width="1" height="476" fill="url(#jet)"/>
<rect x="951" y="1083.9" width="1" height="476" fill="url(#jet)"/>
<rect x="952" y="1074.4" width="1" height="476" fill="url(#jet)"/>
<rect x="953" y="1093.4" width="1" height="476" fill="url(#jet)"/>
<rect x="954" y="1045.8" width="1" height="476" fill="url(#jet)"/>
<rect x="955" y="1026.8" width="1" height="476" fill="url(#jet)"/>
<rect x="956" y="1083.9" width="1" height="476" fill="url(#jet)"/>
<rect x="957" y="1064.9" width="1" height="476" fill="url(#jet)"/>
<rect x="958" y="1017.2" width="1" height="476" fill="url(#jet)"/>
<rect x="959" y="998.2" width="1" height="476" fill="url(#jet)"/>
<rect x="960" y="1026.8" width="1" height="476" fill="url(#jet)"/>
<rect x="961" y="1083.9" width="1" height="476" fill="url(#jet)"/>
<rect x="962" y="1093.4" width="1" height="476" fill="url(#jet)"/>
<rect x="963" y="1083.9" width="2" height="476" fill="url(#jet)"/>
<rect x="965" y="1074.4" width="1" height="476" fill="url(#jet)"/>
<rect x="966" y="1064.9" width="1" height="476" fill="url(#jet)"/>
<rect x="967" y="1074.4" width="1" height="476" fill="url(#jet)"/>
<rect x="968" y="1093.4" width="1" height="476" fill="url(#jet)"/>
<rect x="969" y="1064.9" width="1" height="476" fill="url(#jet)"/>
<rect x="970" y="1055.3" width="2" height="476" fill="url(#jet)"/>
<rect x="972" y="1083.9" width="1" height="476" fill="url(#jet)"/>
<rect x="973" y="1074.4" width="1" height="476" fill="url(#jet)"/>
<rect x="974" y="1093.4" width="1" height="476" fill="url(#jet)"/>
<rect x="975" y="1083.9" width="1" height="476" fill="url(#jet)"/>
<rect x="976" y="1007.7" width="1" height="476" fill="url(#jet)"/>
<rect x="977" y="1055.3" width="1" height="476" fill="url(#jet)"/>
<rect x="978" y="1093.4" width="1" height="476" fill="url(#jet)"/>
<rect x="979" y="1064.9" width="1" height="476" fill="url(#jet)"/>
<rect x="980" y="1017.2" width="1" height="476" fill="url(#jet)"/>
<rect x="981" y="1064.9" width="1" height="476" fill="url(#jet)"/>
<rect x="982" y="1055.3" width="1" height="476" fill="url(#jet)"/>
<rect x="983" y="1083.9" width="1" height="476" fill="url(#jet)"/>
<rect x="984" y="1055.3" width="1" height="476" fill="url(#jet)"/>
<rect x="985" y="1045.8" width="1" height="476" fill="url(#jet)"/>
<rect x="986" y="988.7" width="1" height="476" fill="url(#jet)"/>
<rect x="987" y="1093.4" width="1" height="476" fill="url(#jet)"/>
<rect x="988" y="1074.4" width="1" height="476" fill="url(#jet)"/>
<rect x="989" y="1083.9" width="1" height="476" fill="url(#jet)"/>
<rect x="990" y="1055.3" width="1" height="476" fill="url(#jet)"/>
<rect x="991" y="1045.8" width="1" height="476" fill="url(#jet)"/>
<rect x="992" y="1055.3" width="1" height="476" fill="url(#jet)"/>
<rect x="993" y="1045.8" width="1" height="476" fill="url(#jet)"/>
<rect x="994" y="1083.9" width="1" height="476" fill="url(#jet)"/>
<rect x="995" y="1064.9" width="1" height="476" fill="url(#jet)"/>
<rect x="996" y="1074.4" width="1" height="476" fill="url(#jet)"/>
<rect x="997" y="1064.9" width="1" height="476" fill="url(#jet)"/>
<rect x="998" y="988.7" width="1" height="476" fill="url(#jet)"/>
<rect x="999" y="1045.8" width="1" height="476" fill="url(#jet)"/>
<rect x="1000" y="1026.8" width="1" height="476" fill="url(#jet)"/>
<rect x="1001" y="1055.3" width="1" height="476" fill="url(#jet)"/>
<rect x="1002" y="1007.7" width="1" height="476" fill="url(#jet)"/>
<rect x="1003" y="1017.2" width="1" height="476" fill="url(#jet)"/>
<rect x="1004" y="1093.4" width="1" height="476" fill="url(#jet)"/>
<rect x="1005" y="1045.8" width="1" height="476" fill="url(#jet)"/>
<rect x="1006" y="1083.9" width="1" height="476" fill="url(#jet)"/>
<rect x="1007" y="1074.4" width="1" height="476" fill="url(#jet)"/>
<rect x="1008" y="1017.2" width="1" height="476" fill="url(#jet)"/>
<rect x="1009" y="1007.7" width="2" height="476" fill="url(#jet)"/>
<rect x="1011" y="1093.4" width="1" height="476" fill="url(#jet)"/>
<rect x="1012" y="1064.9" width="1" height="476" fill="url(#jet)"/>
<rect x="1013" y="1074.4" width="1" height="476" fill="url(#jet)"/>
<rect x="1014" y="1007.7" width="1" height="476" fill="url(#jet)"/>
<rect x="1015" y="1083.9" width="1" height="476" fill="url(#jet)"/>
<rect x="1016" y="1064.9" width="1" height="476" fill="url(#jet)"/>
<rect x="1017" y="1045.8" width="1" height="476" fill="url(#jet)"/>
<rect x="1018" y="1083.9" width="1" height="476" fill="url(#jet)"/>
<rect x="1019" y="1036.3" width="2" height="476" fill="url(#jet)"/>
<rect x="1021" y="1007.7" width="1" height="476" fill="url(#jet)"/>
<rect x="1022" y="998.2" width="1" height="476" fill="url(#jet)"/>
<rect x="1023" y="1007.7" width="1" height="476" fill="url(#jet)"/>
<rect x="1024" y="1074.4" width="1" height="476" fill="url(#jet)"/>
<rect x="1025" y="1026.8" width="1" height="476" fill="url(#jet)"/>
<rect x="1026" y="1045.8" width="1" height="476" fill="url(#jet)"/>
<rect x="1027" y="1026.8" width="1" height="476" fill="url(#jet)"/>
<rect x="1028" y="1045.8" width="1" height="476" fill="url(#jet)"/>
<rect x="1029" y="1055.3" width="1" height="476" fill="url(#jet)"/>
<rect x="1030" y="1074.4" width="1" height="476" fill="url(#jet)"/>
<rect x="1031" y="1093.4" width="1" height="476" fill="url(#jet)"/>
<rect x="1032" y="1055.3" width="1" height="476" fill="url(#jet)"/>
<rect x="1033" y="1036.3" width="1" height="476" fill="url(#jet)"/>
<rect x="1034" y="998.2" width="1" height="476" fill="url(#jet)"/>
<rect x="1035" y="1055.3" width="1" height="476" fill="url(#jet)"/>
<rect x="1036" y="1045.8" width="1" height="476" fill="url(#jet)"/>
<rect x="1037" y="1055.3" width="1" height="476" fill="url(#jet)"/>
<rect x="1038" y="988.7" width="1" height="476" fill="url(#jet)"/>
<rect x="1039" y="1045.8" width="1" height="476" fill="url(#jet)"/>
<rect x="1040" y="1036.3" width="1" height="476" fill="url(#jet)"/>
<rect x="1041" y="1055.3" width="1" height="476" fill="url(#jet)"/>
<rect x="1042" y="1026.8" width="1" height="476" fill="url(#jet)"/>
<rect x="1043" y="998.2" width="1" height="476" fill="url(#jet)"/>
<rect x="1044" y="1055.3" width="1" height="476" fill="url(#jet)"/>
<rect x="1045" y="1083.9" width="2" height="476" fill="url(#jet)"/>
<rect x="1047" y="1036.3" width="1" height="476" fill="url(#jet)"/>
<rect x="1048" y="998.2" width="1" height="476" fill="url(#jet)"/>
<rect x="1049" y="1026.8" width="1" height="476" fill="url(#jet)"/>
<rect x="1050" y="1064.9" width="1" height="476" fill="url(#jet)"/>
<rect x="1051" y="988.7" width="1" height="476" fill="url(#jet)"/>
<rect x="1052" y="1074.4" width="1" height="476" fill="url(#jet)"/>
<rect x="1053" y="1055.3" width="1" height="476" fill="url(#jet)"/>
<rect x="1054" y="1045.8" width="1" height="476" fill="url(#jet)"/>
<rect x="1055" y="1083.9" width="1" height="476" fill="url(#jet)"/>
<rect x="1056" y="1074.4" width="1" height="476" fill="url(#jet)"/>
<rect x="1057" y="1064.9" width="1" height="476" fill="url(#jet)"/>
<rect x="1058" y="1026.8" width="1" height="476" fill="url(#jet)"/>
<rect x="1059" y="1045.8" width="1" height="476" fill="url(#jet)"/>
<rect x="1060" y="1055.3" width="2" height="476" fill="url(#jet)"/>
<rect x="1062" y="1017.2" width="1" height="476" fill="url(#jet)"/>
<rect x="1063" y="1007.7" width="1" height="476" fill="url(#jet)"/>
<rect x="1064" y="1064.9" width="1" height="476" fill="url(#jet)"/>
<rect x="1065" y="1026.8" width="1" height="476" fill="url(#jet)"/>
<rect x="1066" y="1074.4" width="1" height="476" fill="url(#jet)"/>
<rect x="1067" y="1055.3" width="2" height="476" fill="url(#jet)"/>
<rect x="1069" y="1074.4" width="1" height="476" fill="url(#jet)"/>
<rect x="1070" y="1064.9" width="1" height="476" fill="url(#jet)"/>
<rect x="1071" y="1055.3" width="3" height="476" fill="url(#jet)"/>
<rect x="1074" y="1064.9" width="1" height="476" fill="url(#jet)"/>
<rect x="1075" y="979.1" width="1" height="476" fill="url(#jet)"/>
<rect x="1076" y="1083.9" width="2" height="476" fill="url(#jet)"/>
<rect x="1078" y="1045.8" width="1" height="476" fill="url(#jet)"/>
<rect x="1079" y="1074.4" width="1" height="476" fill="url(#jet)"/>
<rect x="1080" y="1017.2" width="1" height="476" fill="url(#jet)"/>
<rect x="1081" y="1083.9" width="1" height="476" fill="url(#jet)"/>
<rect x="1082" y="1074.4" width="2" height="476" fill="url(#jet)"/>
<rect x="1084" y="1055.3" width="1" height="476" fill="url(#jet)"/>
<rect x="1085" y="1007.7" width="1" height="476" fill="url(#jet)"/>
<rect x="1086" y="1045.8" width="1" height="476" fill="url(#jet)"/>
<rect x="1087" y="1074.4" width="1" height="476" fill="url(#jet)"/>
<rect x="1088" y="1045.8" width="1" height="476" fill="url(#jet)"/>
<rect x="1089" y="1036.3" width="1" height="476" fill="url(#jet)"/>
<rect x="1090" y="1074.4" width="1" height="476" fill="url(#jet)"/>
<rect x="1091" y="1064.9" width="1" height="476" fill="url(#jet)"/>
<rect x="1092" y="1055.3" width="1" height="476" fill="url(#jet)"/>
<rect x="1093" y="988.7" width="1" height="476" fill="url(#jet)"/>
<rect x="1094" y="1045.8" width="1" height="476" fill="url(#jet)"/>
<rect x="1095" y="998.2" width="1" height="476" fill="url(#jet)"/>
<rect x="1096" y="1074.4" width="1" height="476" fill="url(#jet)"/>
<rect x="1097" y="1017.2" width="1" height="476" fill="url(#jet)"/>
<rect x="1098" y="1055.3" width="1" height="476" fill="url(#jet)"/>
<rect x="1099" y="1083.9" width="2" height="476" fill="url(#jet)"/>
<rect x="1101" y="1093.4" width="1" height="476" fill="url(#jet)"/>
<rect x="1102" y="1045.8" width="1" height="476" fill="url(#jet)"/>
<rect x="1103" y="1074.4" width="2" height="476" fill="url(#jet)"/>
<rect x="1105" y="1045.8" width="1" height="476" fill="url(#jet)"/>
<rect x="1106" y="1026.8" width="2" height="476" fill="url(#jet)"/>
<rect x="1108" y="1055.3" width="2" height="476" fill="url(#jet)"/>
<rect x="1110" y="1036.3" width="1" height="476" fill="url(#jet)"/>
<rect x="1111" y="1064.9" width="1" height="476" fill="url(#jet)"/>
<rect x="1112" y="988.7" width="1" height="476" fill="url(#jet)"/>
<rect x="1113" y="1064.9" width="1" height="476" fill="url(#jet)"/>
<rect x="1114" y="1045.8" width="1" height="476" fill="url(#jet)"/>
<rect x="1115" y="988.7" width="1" height="476" fill="url(#jet)"/>
<rect x="1116" y="1064.9" width="1" height="476" fill="url(#jet)"/>
<rect x="1117" y="1007.7" width="1" height="476" fill="url(#jet)"/>
<rect x="1118" y="1093.4" width="1" height="476" fill="url(#jet)"/>
<rect x="1119" y="1083.9" width="1" height="476" fill="url(#jet)"/>
<rect x="1120" y="1055.3" width="1" height="476" fill="url(#jet)"/>
<rect x="1121" y="1045.8" width="1" height="476" fill="url(#jet)"/>
<rect x="1122" y="1074.4" width="1" height="476" fill="url(#jet)"/>
<rect x="1123" y="1045.8" width="1" height="476" fill="url(#jet)"/>
<rect x="1124" y="979.1" width="1" height="476" fill="url(#jet)"/>
<rect x="1125" y="1045.8" width="1" height="476" fill="url(#jet)"/>
<rect x="1126" y="1017.2" width="1" height="476" fill="url(#jet)"/>
<rect x="1127" y="1055.3" width="1" height="476" fill="url(#jet)"/>
<rect x="1128" y="1007.7" width="1" height="476" fill="url(#jet)"/>
<rect x="1129" y="1083.9" width="1" height="476" fill="url(#jet)"/>
<rect x="1130" y="1055.3" width="1" height="476" fill="url(#jet)"/>
<rect x="1131" y="1093.4" width="1" height="476" fill="url(#jet)"/>
<rect x="1132" y="1083.9" width="1" height="476" fill="url(#jet)"/>
<rect x="1133" y="1007.7" width="1" height="476" fill="url(#jet)"/>
<rect x="1134" y="1026.8" width="1" height="476" fill="url(#jet)"/>
<rect x="1135" y="1007.7" width="1" height="476" fill="url(#jet)"/>
<rect x="1136" y="1055.3" width="1" height="476" fill="url(#jet)"/>
<rect x="1137" y="1017.2" width="1" height="476" fill="url(#jet)"/>
<rect x="1138" y="1007.7" width="1" height="476" fill="url(#jet)"/>
<rect x="1139" y="1074.4" width="1" height="476" fill="url(#jet)"/>
<rect x="1140" y="1026.8" width="2" height="476" fill="url(#jet)"/>
<rect x="1142" y="988.7" width="1" height="476" fill="url(#jet)"/>
<rect x="1143" y="1007.7" width="1" height="476" fill="url(#jet)"/>
<rect x="1144" y="998.2" width="1" height="476" fill="url(#jet)"/>
<rect x="1145" y="1074.4" width="1" height="476" fill="url(#jet)"/>
<rect x="1146" y="1045.8" width="1" height="476" fill="url(#jet)"/>
<rect x="1147" y="1074.4" width="1" height="476" fill="url(#jet)"/>
<rect x="1148" y="1045.8" width="1" height="476" fill="url(#jet)"/>
<rect x="1149" y="1055.3" width="1" height="476" fill="url(#jet)"/>
<rect x="1150" y="1083.9" width="1" height="476" fill="url(#jet)"/>
<rect x="1151" y="988.7" width="1" height="476" fill="url(#jet)"/>
<rect x="1152" y="1055.3" width="1" height="476" fill="url(#jet)"/>
<rect x="1153" y="1083.9" width="1" height="476" fill="url(#jet)"/>
<rect x="1154" y="1055.3" width="1" height="476" fill="url(#jet)"/>
<rect x="1155" y="1064.9" width="2" height="476" fill="url(#jet)"/>
<rect x="1157" y="1055.3" width="1" height="476" fill="url(#jet)"/>
<rect x="1158" y="1064.9" width="1" height="476" fill="url(#jet)"/>
<rect x="1159" y="1026.8" width="2" height="476" fill="url(#jet)"/>
<rect x="1161" y="1017.2" width="1" height="476" fill="url(#jet)"/>
<rect x="1162" y="1074.4" width="1" height="476" fill="url(#jet)"/>
<rect x="1163" y="1045.8" width="1" height="476" fill="url(#jet)"/>
<rect x="1164" y="1055.3" width="1" height="476" fill="url(#jet)"/>
<rect x="1165" y="1083.9" width="1" height="476" fill="url(#jet)"/>
<rect x="1166" y="1055.3" width="1" height="476" fill="url(#jet)"/>
<rect x="1167" y="1026.8" width="1" height="476" fill="url(#jet)"/>
<rect x="1168" y="1055.3" width="2" height="476" fill="url(#jet)"/>
<rect x="1170" y="1064.9" width="1" height="476" fill="url(#jet)"/>
<rect x="1171" y="1026.8" width="1" height="476" fill="url(#jet)"/>
<rect x="1172" y="1083.9" width="1" height="476" fill="url(#jet)"/>
<rect x="1173" y="1093.4" width="1" height="476" fill="url(#jet)"/>
<rect x="1174" y="1064.9" width="1" height="476" fill="url(#jet)"/>
<rect x="1175" y="1045.8" width="1" height="476" fill="url(#jet)"/>
<rect x="1176" y="998.2" width="1" height="476" fill="url(#jet)"/>
<rect x="1177" y="1026.8" width="1" height="476" fill="url(#jet)"/>
<rect x="1178" y="1055.3" width="1" height="476" fill="url(#jet)"/>
<rect x="1179" y="1093.4" width="1" height="476" fill="url(#jet)"/>
<rect x="1180" y="1055.3" width="1" height="476" fill="url(#jet)"/>
<rect x="1181" y="1074.4" width="1" height="476" fill="url(#jet)"/>
<rect x="1182" y="1055.3" width="1" height="476" fill="url(#jet)"/>
<rect x="1183" y="1083.9" width="1" height="476" fill="url(#jet)"/>
<rect x="1184" y="1064.9" width="1" height="476" fill="url(#jet)"/>
<rect x="1185" y="988.7" width="1" height="476" fill="url(#jet)"/>
<rect x="1186" y="1045.8" width="1" height="476" fill="url(#jet)"/>
<rect x="1187" y="1093.4" width="1" height="476" fill="url(#jet)"/>
<rect x="1188" y="1064.9" width="2" height="476" fill="url(#jet)"/>
<rect x="1190" y="1055.3" width="2" height="476" fill="url(#jet)"/>
<rect x="1192" y="1064.9" width="1" height="476" fill="url(#jet)"/>
<rect x="1193" y="1055.3" width="1" height="476" fill="url(#jet)"/>
<rect x="1194" y="1007.7" width="1" height="476" fill="url(#jet)"/>
<rect x="1195" y="1036.3" width="1" height="476" fill="url(#jet)"/>
<rect x="1196" y="1064.9" width="2" height="476" fill="url(#jet)"/>
<rect x="1198" y="1045.8" width="1" height="476" fill="url(#jet)"/>
<rect x="1199" y="1017.2" width="1" height="476" fill="url(#jet)"/>
<rect x="1200" y="979.1" width="1" height="476" fill="url(#jet)"/>
<rect x="1201" y="1074.4" width="1" height="476" fill="url(#jet)"/>
<rect x="1202" y="979.1" width="1" height="476" fill="url(#jet)"/>
<rect x="1203" y="988.7" width="1" height="476" fill="url(#jet)"/>
<rect x="1204" y="1017.2" width="1" height="476" fill="url(#jet)"/>
<rect x="1205" y="1093.4" width="1" height="476" fill="url(#jet)"/>
<rect x="1206" y="1083.9" width="1" height="476" fill="url(#jet)"/>
<rect x="1207" y="1007.7" width="1" height="476" fill="url(#jet)"/>
<rect x="1208" y="998.2" width="1" height="476" fill="url(#jet)"/>
<rect x="1209" y="1074.4" width="1" height="476" fill="url(#jet)"/>
<rect x="1210" y="1064.9" width="1" height="476" fill="url(#jet)"/>
<rect x="1211" y="1007.7" width="1" height="476" fill="url(#jet)"/>
<rect x="1212" y="1083.9" width="1" height="476" fill="url(#jet)"/>
<rect x="1213" y="1093.4" width="1" height="476" fill="url(#jet)"/>
<rect x="1214" y="1055.3" width="1" height="476" fill="url(#jet)"/>
<rect x="1215" y="1017.2" width="1" height="476" fill="url(#jet)"/>
<rect x="1216" y="1074.4" width="2" height="476" fill="url(#jet)"/>
<rect x="1218" y="979.1" width="1" height="476" fill="url(#jet)"/>
<rect x="1219" y="1045.8" width="1" height="476" fill="url(#jet)"/>
<rect x="1220" y="1064.9" width="1" height="476" fill="url(#jet)"/>
<rect x="1221" y="1007.7" width="1" height="476" fill="url(#jet)"/>
<rect x="1222" y="1036.3" width="1" height="476" fill="url(#jet)"/>
<rect x="1223" y="1045.8" width="1" height="476" fill="url(#jet)"/>
<rect x="1224" y="1017.2" width="1" height="476" fill="url(#jet)"/>
<rect x="1225" y="1007.7" width="2" height="476" fill="url(#jet)"/>
<rect x="1227" y="979.1" width="1" height="476" fill="url(#jet)"/>
<rect x="1228" y="1055.3" width="2" height="476" fill="url(#jet)"/>
<rect x="1230" y="1074.4" width="2" height="476" fill="url(#jet)"/>
<rect x="1232" y="1036.3" width="1" height="476" fill="url(#jet)"/>
<rect x="1233" y="1093.4" width="1" height="476" fill="url(#jet)"/>
<rect x="1234" y="1064.9" width="1" height="476" fill="url(#jet)"/>
<rect x="1235" y="1045.8" width="3" height="476" fill="url(#jet)"/>
<rect x="1238" y="1083.9" width="1" height="476" fill="url(#jet)"/>
<rect x="1239" y="1064.9" width="1" height="476" fill="url(#jet)"/>
<rect x="1240" y="1045.8" width="1" height="476" fill="url(#jet)"/>
<rect x="1241" y="1074.4" width="1" height="476" fill="url(#jet)"/>
<rect x="1242" y="1026.8" width="1" height="476" fill="url(#jet)"/>
<rect x="1243" y="1017.2" width="1" height="476" fill="url(#jet)"/>
<rect x="1244" y="1055.3" width="1" height="476" fill="url(#jet)"/>
<rect x="1245" y="1064.9" width="2" height="476" fill="url(#jet)"/>
<rect x="1247" y="1045.8" width="1" height="476" fill="url(#jet)"/>
<rect x="1248" y="1064.9" width="1" height="476" fill="url(#jet)"/>
<rect x="1249" y="1017.2" width="1" height="476" fill="url(#jet)"/>
<rect x="1250" y="1026.8" width="1" height="476" fill="url(#jet)"/>
<rect x="1251" y="1036.3" width="1" height="476" fill="url(#jet)"/>
<rect x="1252" y="1026.8" width="1" height="476" fill="url(#jet)"/>
<rect x="1253" y="1055.3" width="1" height="476" fill="url(#jet)"/>
<rect x="1254" y="1045.8" width="1" height="476" fill="url(#jet)"/>
<rect x="1255" y="1017.2" width="1" height="476" fill="url(#jet)"/>
<rect x="1256" y="1045.8" width="1" height="476" fill="url(#jet)"/>
<rect x="1257" y="1083.9" width="1" height="476" fill="url(#jet)"/>
<rect x="1258" y="1064.9" width="1" height="476" fill="url(#jet)"/>
<rect x="1259" y="1045.8" width="1" height="476" fill="url(#jet)"/>
<rect x="1260" y="998.2" width="1" height="476" fill="url(#jet)"/>
<rect x="1261" y="1064.9" width="1" height="476" fill="url(#jet)"/>
<rect x="1262" y="1093.4" width="1" height="476" fill="url(#jet)"/>
<rect x="1263" y="1045.8" width="1" height="476" fill="url(#jet)"/>
<rect x="1264" y="1055.3" width="2" height="476" fill="url(#jet)"/>
<rect x="1266" y="1045.8" width="2" height="476" fill="url(#jet)"/>
<rect x="1268" y="1083.9" width="1" height="476" fill="url(#jet)"/>
<rect x="1269" y="1045.8" width="3" height="476" fill="url(#jet)"/>
<rect x="1272" y="1074.4" width="1" height="476" fill="url(#jet)"/>
<rect x="1273" y="998.2" width="1" height="476" fill="url(#jet)"/>
<rect x="1274" y="1074.4" width="2" height="476" fill="url(#jet)"/>
<rect x="1276" y="1017.2" width="1" height="476" fill="url(#jet)"/>
<rect x="1277" y="1055.3" width="1" height="476" fill="url(#jet)"/>
<rect x="1278" y="1064.9" width="1" height="476" fill="url(#jet)"/>
<rect x="1279" y="1026.8" width="1" height="476" fill="url(#jet)"/>
<rect x="1280" y="1093.4" width="1" height="476" fill="url(#jet)"/>
<rect x="1281" y="988.7" width="1" height="476" fill="url(#jet)"/>
<rect x="1282" y="1055.3" width="1" height="476" fill="url(#jet)"/>
<rect x="1283" y="1045.8" width="1" height="476" fill="url(#jet)"/>
<rect x="1284" y="1074.4" width="1" height="476" fill="url(#jet)"/>
<rect x="1285" y="979.1" width="1" height="476" fill="url(#jet)"/>
<rect x="1286" y="1055.3" width="1" height="476" fill="url(#jet)"/>
<rect x="1287" y="988.7" width="1" height="476" fill="url(#jet)"/>
<rect x="1288" y="998.2" width="1" height="476" fill="url(#jet)"/>
<rect x="1289" y="1074.4" width="1" height="476" fill="url(#jet)"/>
<rect x="1290" y="1064.9" width="1" height="476" fill="url(#jet)"/>
<rect x="1291" y="1045.8" width="1" height="476" fill="url(#jet)"/>
<rect x="1292" y="1083.9" width="2" height="476" fill="url(#jet)"/>
<rect x="1294" y="1007.7" width="1" height="476" fill="url(#jet)"/>
<rect x="1295" y="1064.9" width="1" height="476" fill="url(#jet)"/>
<rect x="1296" y="1026.8" width="1" height="476" fill="url(#jet)"/>
<rect x="1297" y="1055.3" width="1" height="476" fill="url(#jet)"/>
<rect x="1298" y="1093.4" width="1" height="476" fill="url(#jet)"/>
<rect x="1299" y="1083.9" width="1" height="476" fill="url(#jet)"/>
<rect x="1300" y="1055.3" width="1" height="476" fill="url(#jet)"/>
<rect x="1301" y="1026.8" width="1" height="476" fill="url(#jet)"/>
<rect x="1302" y="1036.3" width="2" height="476" fill="url(#jet)"/>
<rect x="1304" y="1007.7" width="1" height="476" fill="url(#jet)"/>
<rect x="1305" y="988.7" width="1" height="476" fill="url(#jet)"/>
<rect x="1306" y="979.1" width="1" height="476" fill="url(#jet)"/>
<rect x="1307" y="1045.8" width="2" height="476" fill="url(#jet)"/>
<rect x="1309" y="1083.9" width="1" height="476" fill="url(#jet)"/>
<rect x="1310" y="1064.9" width="1" height="476" fill="url(#jet)"/>
<rect x="1311" y="988.7" width="2" height="476" fill="url(#jet)"/>
<rect x="1313" y="979.1" width="1" height="476" fill="url(#jet)"/>
<rect x="1314" y="1045.8" width="1" height="476" fill="url(#jet)"/>
<rect x="1315" y="1074.4" width="1" height="476" fill="url(#jet)"/>
<rect x="1316" y="1036.3" width="2" height="476" fill="url(#jet)"/>
<rect x="1318" y="1083.9" width="1" height="476" fill="url(#jet)"/>
<rect x="1319" y="988.7" width="1" height="476" fill="url(#jet)"/>
<rect x="1320" y="1036.3" width="1" height="476" fill="url(#jet)"/>
<rect x="1321" y="1045.8" width="2" height="476" fill="url(#jet)"/>
<rect x="1323" y="1093.4" width="1" height="476" fill="url(#jet)"/>
<rect x="1324" y="988.7" width="2" height="476" fill="url(#jet)"/>
<rect x="1326" y="1074.4" width="1" height="476" fill="url(#jet)"/>
<rect x="1327" y="1026.8" width="1" height="476" fill="url(#jet)"/>
<rect x="1328" y="1017.2" width="1" height="476" fill="url(#jet)"/>
<rect x="1329" y="1045.8" width="1" height="476" fill="url(#jet)"/>
<rect x="1330" y="1074.4" width="1" height="476" fill="url(#jet)"/>
<rect x="880" y="1000.6" width="1" height="238" fill="url(#jet)"/>
<rect x="881" y="941.0" width="1" height="238" fill="url(#jet)"/>
<rect x="882" y="917.2" width="1" height="238" fill="url(#jet)"/>
<rect x="883" y="903.0" width="1" height="238" fill="url(#jet)"/>
<rect x="884" y="895.8" width="1" height="238" fill="url(#jet)"/>
<rect x="885" y="912.5" width="1" height="238" fill="url(#jet)"/>
<rect x="886" y="953.0" width="1" height="238" fill="url(#jet)"/>
<rect x="887" y="998.2" width="1" height="238" fill="url(#jet)"/>
<rect x="888" y="993.4" width="1" height="238" fill="url(#jet)"/>
<rect x="889" y="957.7" width="1" height="238" fill="url(#jet)"/>
<rect x="890" y="936.3" width="1" height="238" fill="url(#jet)"/>
<rect x="891" y="917.2" width="2" height="238" fill="url(#jet)"/>
<rect x="893" y="907.7" width="1" height="238" fill="url(#jet)"/>
<rect x="894" y="919.6" width="1" height="238" fill="url(#jet)"/>
<rect x="895" y="933.9" width="1" height="238" fill="url(#jet)"/>
<rect x="896" y="955.3" width="1" height="238" fill="url(#jet)"/>
<rect x="897" y="979.1" width="1" height="238" fill="url(#jet)"/>
<rect x="899" y="972.0" width="1" height="238" fill="url(#jet)"/>
<rect x="900" y="936.3" width="1" height="238" fill="url(#jet)"/>
<rect x="901" y="912.5" width="1" height="238" fill="url(#jet)"/>
<rect x="902" y="922.0" width="1" height="238" fill="url(#jet)"/>
<rect x="903" y="938.7" width="1" height="238" fill="url(#jet)"/>
<rect x="904" y="979.1" width="1" height="238" fill="url(#jet)"/>
<rect x="905" y="969.6" width="1" height="238" fill="url(#jet)"/>
<rect x="906" y="926.8" width="1" height="238" fill="url(#jet)"/>
<rect x="907" y="914.9" width="1" height="238" fill="url(#jet)"/>
<rect x="908" y="905.3" width="1" height="238" fill="url(#jet)"/>
<rect x="909" y="931.5" width="1" height="238" fill="url(#jet)"/>
<rect x="910" y="974.4" width="1" height="238" fill="url(#jet)"/>
<rect x="914" y="969.6" width="1" height="238" fill="url(#jet)"/>
<rect x="915" y="926.8" width="1" height="238" fill="url(#jet)"/>
<rect x="916" y="912.5" width="1" height="238" fill="url(#jet)"/>
<rect x="917" y="898.2" width="1" height="238" fill="url(#jet)"/>
<rect x="918" y="903.0" width="1" height="238" fill="url(#jet)"/>
<rect x="919" y="914.9" width="1" height="238" fill="url(#jet)"/>
<rect x="920" y="948.2" width="1" height="238" fill="url(#jet)"/>
<rect x="921" y="995.8" width="1" height="238" fill="url(#jet)"/>
<rect x="931" y="974.4" width="1" height="238" fill="url(#jet)"/>
<rect x="932" y="926.8" width="1" height="238" fill="url(#jet)"/>
<rect x="933" y="910.1" width="1" height="238" fill="url(#jet)"/>
<rect x="934" y="895.8" width="1" height="238" fill="url(#jet)"/>
<rect x="935" y="898.2" width="1" height="238" fill="url(#jet)"/>
<rect x="936" y="919.6" width="1" height="238" fill="url(#jet)"/>
<rect x="937" y="945.8" width="1" height="238" fill="url(#jet)"/>
<rect x="938" y="995.8" width="1" height="238" fill="url(#jet)"/>
<rect x="945" y="981.5" width="1" height="238" fill="url(#jet)"/>
<rect x="946" y="950.6" width="1" height="238" fill="url(#jet)"/>
<rect x="947" y="936.3" width="1" height="238" fill="url(#jet)"/>
<rect x="948" y="922.0" width="1" height="238" fill="url(#jet)"/>
<rect x="949" y="907.7" width="1" height="238" fill="url(#jet)"/>
<rect x="950" y="903.0" width="1" height="238" fill="url(#jet)"/>
<rect x="951" y="893.4" width="1" height="238" fill="url(#jet)"/>
<rect x="952" y="898.2" width="1" height="238" fill="url(#jet)"/>
<rect x="953" y="910.1" width="1" height="238" fill="url(#jet)"/>
<rect x="954" y="919.6" width="1" height="238" fill="url(#jet)"/>
<rect x="955" y="948.2" width="1" height="238" fill="url(#jet)"/>
<rect x="956" y="969.6" width="1" height="238" fill="url(#jet)"/>
<rect x="957" y="995.8" width="1" height="238" fill="url(#jet)"/>
<rect x="961" y="1043.4" width="1" height="238" fill="url(#jet)"/>
<rect x="962" y="1029.1" width="1" height="238" fill="url(#jet)"/>
<rect x="963" y="1019.6" width="1" height="238" fill="url(#jet)"/>
<rect x="964" y="1026.8" width="1" height="238" fill="url(#jet)"/>
<rect x="965" y="1050.6" width="1" height="238" fill="url(#jet)"/>
<rect x="972" y="981.5" width="1" height="238" fill="url(#jet)"/>
<rect x="973" y="964.9" width="1" height="238" fill="url(#jet)"/>
<rect x="974" y="943.4" width="1" height="238" fill="url(#jet)"/>
<rect x="975" y="929.1" width="1" height="238" fill="url(#jet)"/>
<rect x="976" y="914.9" width="1" height="238" fill="url(#jet)"/>
<rect x="977" y="900.6" width="2" height="238" fill="url(#jet)"/>
<rect x="979" y="895.8" width="1" height="238" fill="url(#jet)"/>
<rect x="980" y="886.3" width="1" height="238" fill="url(#jet)"/>
<rect x="981" y="898.2" width="1" height="238" fill="url(#jet)"/>
<rect x="982" y="893.4" width="1" height="238" fill="url(#jet)"/>
<rect x="983" y="903.0" width="1" height="238" fill="url(#jet)"/>
<rect x="984" y="912.5" width="1" height="238" fill="url(#jet)"/>
<rect x="985" y="910.1" width="1" height="238" fill="url(#jet)"/>
<rect x="986" y="924.4" width="1" height="238" fill="url(#jet)"/>
<rect x="987" y="941.0" width="1" height="238" fill="url(#jet)"/>
<rect x="988" y="953.0" width="1" height="238" fill="url(#jet)"/>
<rect x="989" y="972.0" width="1" height="238" fill="url(#jet)"/>
<rect x="993" y="979.1" width="1" height="238" fill="url(#jet)"/>
<rect x="994" y="960.1" width="1" height="238" fill="url(#jet)"/>
<rect x="995" y="950.6" width="1" height="238" fill="url(#jet)"/>
<rect x="996" y="922.0" width="1" height="238" fill="url(#jet)"/>
<rect x="997" y="912.5" width="2" height="238" fill="url(#jet)"/>
<rect x="999" y="903.0" width="1" height="238" fill="url(#jet)"/>
<rect x="1000" y="900.6" width="1" height="238" fill="url(#jet)"/>
<rect x="1001" y="888.7" width="1" height="238" fill="url(#jet)"/>
<rect x="1002" y="900.6" width="1" height="238" fill="url(#jet)"/>
<rect x="1003" y="905.3" width="1" height="238" fill="url(#jet)"/>
<rect x="1004" y="903.0" width="1" height="238" fill="url(#jet)"/>
<rect x="1005" y="919.6" width="1" height="238" fill="url(#jet)"/>
<rect x="1006" y="933.9" width="1" height="238" fill="url(#jet)"/>
<rect x="1007" y="950.6" width="1" height="238" fill="url(#jet)"/>
<rect x="1008" y="964.9" width="1" height="238" fill="url(#jet)"/>
<rect x="1009" y="981.5" width="1" height="238" fill="url(#jet)"/>
<rect x="1012" y="976.8" width="1" height="238" fill="url(#jet)"/>
<rect x="1013" y="938.7" width="1" height="238" fill="url(#jet)"/>
<rect x="1014" y="912.5" width="1" height="238" fill="url(#jet)"/>
<rect x="1015" y="910.1" width="1" height="238" fill="url(#jet)"/>
<rect x="1016" y="907.7" width="1" height="238" fill="url(#jet)"/>
<rect x="1017" y="900.6" width="1" height="238" fill="url(#jet)"/>
<rect x="1018" y="917.2" width="1" height="238" fill="url(#jet)"/>
<rect x="1019" y="936.3" width="1" height="238" fill="url(#jet)"/>
<rect x="1020" y="979.1" width="1" height="238" fill="url(#jet)"/>
<rect x="1029" y="995.8" width="1" height="238" fill="url(#jet)"/>
<rect x="1030" y="976.8" width="1" height="238" fill="url(#jet)"/>
<rect x="1031" y="960.1" width="1" height="238" fill="url(#jet)"/>
<rect x="1032" y="945.8" width="1" height="238" fill="url(#jet)"/>
<rect x="1033" y="931.5" width="2" height="238" fill="url(#jet)"/>
<rect x="1035" y="938.7" width="1" height="238" fill="url(#jet)"/>
<rect x="1036" y="960.1" width="1" height="238" fill="url(#jet)"/>
<rect x="1037" y="974.4" width="1" height="238" fill="url(#jet)"/>
<rect x="1038" y="1003.0" width="1" height="238" fill="url(#jet)"/>
<rect x="1045" y="1022.0" width="1" height="238" fill="url(#jet)"/>
<rect x="1046" y="983.9" width="3" height="238" fill="url(#jet)"/>
<rect x="1049" y="1010.1" width="1" height="238" fill="url(#jet)"/>
<rect x="1057" y="1014.9" width="1" height="238" fill="url(#jet)"/>
<rect x="1058" y="986.3" width="1" height="238" fill="url(#jet)"/>
<rect x="1059" y="964.9" width="2" height="238" fill="url(#jet)"/>
<rect x="1061" y="967.2" width="1" height="238" fill="url(#jet)"/>
<rect x="1062" y="983.9" width="1" height="238" fill="url(#jet)"/>
<rect x="1063" y="1022.0" width="1" height="238" fill="url(#jet)"/>
<rect x="1075" y="969.6" width="1" height="238" fill="url(#jet)"/>
<rect x="1076" y="938.7" width="1" height="238" fill="url(#jet)"/>
<rect x="1077" y="922.0" width="1" height="238" fill="url(#jet)"/>
<rect x="1078" y="912.5" width="1" height="238" fill="url(#jet)"/>
<rect x="1079" y="903.0" width="1" height="238" fill="url(#jet)"/>
<rect x="1080" y="905.3" width="1" height="238" fill="url(#jet)"/>
<rect x="1081" y="922.0" width="1" height="238" fill="url(#jet)"/>
<rect x="1082" y="941.0" width="1" height="238" fill="url(#jet)"/>
<rect x="1083" y="974.4" width="1" height="238" fill="url(#jet)"/>
<rect x="1084" y="995.8" width="1" height="238" fill="url(#jet)"/>
<rect x="1085" y="938.7" width="1" height="238" fill="url(#jet)"/>
<rect x="1086" y="922.0" width="1" height="238" fill="url(#jet)"/>
<rect x="1087" y="907.7" width="1" height="238" fill="url(#jet)"/>
<rect x="1088" y="922.0" width="1" height="238" fill="url(#jet)"/>
<rect x="1089" y="974.4" width="1" height="238" fill="url(#jet)"/>
<rect x="1091" y="979.1" width="1" height="238" fill="url(#jet)"/>
<rect x="1092" y="936.3" width="1" height="238" fill="url(#jet)"/>
<rect x="1093" y="919.6" width="1" height="238" fill="url(#jet)"/>
<rect x="1094" y="924.4" width="1" height="238" fill="url(#jet)"/>
<rect x="1095" y="943.4" width="1" height="238" fill="url(#jet)"/>
<rect x="1096" y="986.3" width="1" height="238" fill="url(#jet)"/>
<rect x="1098" y="969.6" width="1" height="238" fill="url(#jet)"/>
<rect x="1099" y="929.1" width="1" height="238" fill="url(#jet)"/>
<rect x="1100" y="905.3" width="1" height="238" fill="url(#jet)"/>
<rect x="1101" y="893.4" width="1" height="238" fill="url(#jet)"/>
<rect x="1102" y="898.2" width="1" height="238" fill="url(#jet)"/>
<rect x="1103" y="912.5" width="1" height="238" fill="url(#jet)"/>
<rect x="1104" y="936.3" width="1" height="238" fill="url(#jet)"/>
<rect x="1105" y="974.4" width="1" height="238" fill="url(#jet)"/>
<rect x="1107" y="988.7" width="1" height="238" fill="url(#jet)"/>
<rect x="1108" y="955.3" width="1" height="238" fill="url(#jet)"/>
<rect x="1109" y="948.2" width="1" height="238" fill="url(#jet)"/>
<rect x="1110" y="981.5" width="1" height="238" fill="url(#jet)"/>
<rect x="1121" y="969.6" width="1" height="238" fill="url(#jet)"/>
<rect x="1122" y="922.0" width="1" height="238" fill="url(#jet)"/>
<rect x="1123" y="907.7" width="1" height="238" fill="url(#jet)"/>
<rect x="1124" y="910.1" width="1" height="238" fill="url(#jet)"/>
<rect x="1125" y="936.3" width="1" height="238" fill="url(#jet)"/>
<rect x="1126" y="1003.0" width="1" height="238" fill="url(#jet)"/>
<rect x="1128" y="1007.7" width="1" height="238" fill="url(#jet)"/>
<rect x="1129" y="983.9" width="1" height="238" fill="url(#jet)"/>
<rect x="1130" y="967.2" width="1" height="238" fill="url(#jet)"/>
<rect x="1131" y="953.0" width="1" height="238" fill="url(#jet)"/>
<rect x="1132" y="967.2" width="1" height="238" fill="url(#jet)"/>
<rect x="1133" y="976.8" width="1" height="238" fill="url(#jet)"/>
<rect x="1134" y="1000.6" width="1" height="238" fill="url(#jet)"/>
<rect x="1157" y="981.5" width="1" height="238" fill="url(#jet)"/>
<rect x="1158" y="953.0" width="1" height="238" fill="url(#jet)"/>
<rect x="1159" y="941.0" width="1" height="238" fill="url(#jet)"/>
<rect x="1160" y="917.2" width="1" height="238" fill="url(#jet)"/>
<rect x="1161" y="905.3" width="1" height="238" fill="url(#jet)"/>
<rect x="1162" y="903.0" width="1" height="238" fill="url(#jet)"/>
<rect x="1163" y="898.2" width="1" height="238" fill="url(#jet)"/>
<rect x="1164" y="905.3" width="1" height="238" fill="url(#jet)"/>
<rect x="1165" y="912.5" width="1" height="238" fill="url(#jet)"/>
<rect x="1166" y="933.9" width="1" height="238" fill="url(#jet)"/>
<rect x="1167" y="941.0" width="1" height="238" fill="url(#jet)"/>
<rect x="1168" y="969.6" width="1" height="238" fill="url(#jet)"/>
<rect x="1169" y="991.0" width="1" height="238" fill="url(#jet)"/>
<rect x="1171" y="962.5" width="1" height="238" fill="url(#jet)"/>
<rect x="1172" y="926.8" width="1" height="238" fill="url(#jet)"/>
<rect x="1173" y="898.2" width="1" height="238" fill="url(#jet)"/>
<rect x="1174" y="888.7" width="1" height="238" fill="url(#jet)"/>
<rect x="1175" y="905.3" width="1" height="238" fill="url(#jet)"/>
<rect x="1176" y="945.8" width="1" height="238" fill="url(#jet)"/>
<rect x="1177" y="988.7" width="1" height="238" fill="url(#jet)"/>
<rect x="550" y="1097" width="1" height="25" fill="#004cff"/>
<rect x="551" y="1097" width="3" height="25" fill="#0010ff"/>
<rect x="554" y="1097" width="1" height="25" fill="#000eff"/>
<rect x="555" y="1097" width="3" height="25" fill="#005cff"/>
<rect x="558" y="1097" width="3" height="25" fill="#000dff"/>
<rect x="561" y="1097" width="2" height="25" fill="#004cff"/>
<rect x="563" y="1097" width="2" height="25" fill="#0000f3"/>
<rect x="565" y="1097" width="3" height="25" fill="#0028ff"/>
<rect x="568" y="1097" width="2" height="25" fill="#0064ff"/>
<rect x="570" y="1097" width="2" height="25" fill="#00caff"/>
<rect x="572" y="1097" width="1" height="25" fill="#0000e9"/>
<rect x="573" y="1097" width="2" height="25" fill="#0020ff"/>
<rect x="575" y="1097" width="2" height="25" fill="#0000f9"/>
<rect x="577" y="1097" width="3" height="25" fill="#0000fc"/>
<rect x="580" y="1097" width="3" height="25" fill="#008dff"/>
<rect x="583" y="1097" width="1" height="25" fill="#000bff"/>
<rect x="584" y="1097" width="1" height="25" fill="#0017ff"/>
<rect x="585" y="1097" width="3" height="25" fill="#0089ff"/>
<rect x="588" y="1097" width="3" height="25" fill="#001cff"/>
<rect x="591" y="1097" width="1" height="25" fill="#008fff"/>
<rect x="592" y="1097" width="2" height="25" fill="#0000f5"/>
<rect x="594" y="1097" width="2" height="25" fill="#0019ff"/>
<rect x="596" y="1097" width="2" height="25" fill="#002cff"/>
<rect x="598" y="1097" width="1" height="25" fill="#000cff"/>
<rect x="599" y="1097" width="1" height="25" fill="#0001ff"/>
<rect x="600" y="1097" width="1" height="25" fill="#0000f4"/>
<rect x="601" y="1097" width="3" height="25" fill="#002dff"/>
<rect x="604" y="1097" width="3" height="25" fill="#000fff"/>
<rect x="607" y="1097" width="2" height="25" fill="#000dff"/>
<rect x="609" y="1097" width="1" height="25" fill="#0026ff"/>
<rect x="610" y="1097" width="1" height="25" fill="#0007ff"/>
<rect x="611" y="1097" width="3" height="25" fill="#0000f7"/>
<rect x="614" y="1097" width="3" height="25" fill="#000dff"/>
<rect x="617" y="1097" width="2" height="25" fill="#0058ff"/>
<rect x="619" y="1097" width="1" height="25" fill="#0000f5"/>
<rect x="620" y="1097" width="2" height="25" fill="#0000e6"/>
<rect x="622" y="1097" width="3" height="25" fill="#0000e5"/>
<rect x="625" y="1097" width="3" height="25" fill="#0019ff"/>
<rect x="628" y="1097" width="1" height="25" fill="#0029ff"/>
<rect x="629" y="1097" width="1" height="25" fill="#0073ff"/>
<rect x="630" y="1097" width="2" height="25" fill="#0000ee"/>
<rect x="632" y="1097" width="1" height="25" fill="#0058ff"/>
<rect x="633" y="1097" width="1" height="25" fill="#00ccff"/>
<rect x="634" y="1097" width="3" height="25" fill="#0089ff"/>
<rect x="637" y="1097" width="1" height="25" fill="#0064ff"/>
<rect x="638" y="1097" width="1" height="25" fill="#0000f5"/>
<rect x="639" y="1097" width="2" height="25" fill="#0011ff"/>
<rect x="641" y="1097" width="2" height="25" fill="#006fff"/>
<rect x="643" y="1097" width="3" height="25" fill="#0000ec"/>
<rect x="646" y="1097" width="2" height="25" fill="#007bff"/>
<rect x="648" y="1097" width="2" height="25" fill="#0000f6"/>
<rect x="650" y="1097" width="2" height="25" fill="#0074ff"/>
<rect x="652" y="1097" width="3" height="25" fill="#0056ff"/>
<rect x="655" y="1097" width="3" height="25" fill="#0096ff"/>
<rect x="658" y="1097" width="3" height="25" fill="#0000fb"/>
<rect x="661" y="1097" width="1" height="25" fill="#0005ff"/>
<rect x="662" y="1097" width="3" height="25" fill="#0000f1"/>
<rect x="665" y="1097" width="3" height="25" fill="#0000f5"/>
<rect x="668" y="1097" width="3" height="25" fill="#00cbff"/>
<rect x="671" y="1097" width="1" height="25" fill="#0013ff"/>
<rect x="672" y="1097" width="1" height="25" fill="#0000e9"/>
<rect x="673" y="1097" width="1" height="25" fill="#0021ff"/>
<rect x="674" y="1097" width="1" height="25" fill="#00cdff"/>
<rect x="675" y="1097" width="2" height="25" fill="#0070ff"/>
<rect x="677" y="1097" width="1" height="25" fill="#0000f3"/>
<rect x="678" y="1097" width="2" height="25" fill="#0003ff"/>
<rect x="680" y="1097" width="3" height="25" fill="#0000ec"/>
<rect x="683" y="1097" width="3" height="25" fill="#0002ff"/>
<rect x="686" y="1097" width="3" height="25" fill="#0000e9"/>
<rect x="689" y="1097" width="1" height="25" fill="#0018ff"/>
<rect x="690" y="1097" width="3" height="25" fill="#00afff"/>
<rect x="693" y="1097" width="1" height="25" fill="#0000ee"/>
<rect x="694" y="1097" width="1" height="25" fill="#0000f6"/>
<rect x="695" y="1097" width="3" height="25" fill="#001dff"/>
<rect x="698" y="1097" width="1" height="25" fill="#0000f5"/>
<rect x="699" y="1097" width="2" height="25" fill="#0000f3"/>
<rect x="701" y="1097" width="3" height="25" fill="#001fff"/>
<rect x="704" y="1097" width="2" height="25" fill="#0027ff"/>
<rect x="706" y="1097" width="1" height="25" fill="#0016ff"/>
<rect x="707" y="1097" width="3" height="25" fill="#0052ff"/>
<rect x="710" y="1097" width="1" height="25" fill="#002cff"/>
<rect x="711" y="1097" width="1" height="25" fill="#00ceff"/>
<rect x="712" y="1097" width="3" height="25" fill="#0093ff"/>
<rect x="715" y="1097" width="3" height="25" fill="#001bff"/>
<rect x="718" y="1097" width="2" height="25" fill="#000fff"/>
<rect x="720" y="1097" width="2" height="25" fill="#001fff"/>
<rect x="722" y="1097" width="2" height="25" fill="#0097ff"/>
<rect x="724" y="1097" width="2" height="25" fill="#0028ff"/>
<rect x="726" y="1097" width="2" height="25" fill="#00b2ff"/>
<rect x="728" y="1097" width="3" height="25" fill="#000aff"/>
<rect x="731" y="1097" width="1" height="25" fill="#0014ff"/>
<rect x="732" y="1097" width="1" height="25" fill="#002bff"/>
<rect x="733" y="1097" width="3" height="25" fill="#0000e7"/>
<rect x="736" y="1097" width="1" height="25" fill="#002dff"/>
<rect x="737" y="1097" width="2" height="25" fill="#0024ff"/>
<rect x="739" y="1097" width="2" height="25" fill="#0021ff"/>
<rect x="741" y="1097" width="3" height="25" fill="#0067ff"/>
<rect x="744" y="1097" width="1" height="25" fill="#0059ff"/>
<rect x="745" y="1097" width="3" height="25" fill="#005bff"/>
<rect x="748" y="1097" width="1" height="25" fill="#0000fb"/>
<rect x="749" y="1097" width="3" height="25" fill="#0029ff"/>
<rect x="752" y="1097" width="3" height="25" fill="#0026ff"/>
<rect x="755" y="1097" width="1" height="25" fill="#0000f6"/>
<rect x="756" y="1097" width="3" height="25" fill="#00ccff"/>
<rect x="759" y="1097" width="1" height="25" fill="#001aff"/>
<rect x="760" y="1097" width="1" height="25" fill="#0000e8"/>
<rect x="761" y="1097" width="3" height="25" fill="#00b7ff"/>
<rect x="764" y="1097" width="3" height="25" fill="#00caff"/>
<rect x="767" y="1097" width="2" height="25" fill="#0088ff"/>
<rect x="769" y="1097" width="1" height="25" fill="#005bff"/>
<rect x="770" y="1097" width="3" height="25" fill="#0099ff"/>
<rect x="898" y="1097" width="1" height="25" fill="#0029ff"/>
<rect x="911" y="1097" width="2" height="25" fill="#001aff"/>
<rect x="913" y="1097" width="1" height="25" fill="#0021ff"/>
<rect x="922" y="1097" width="1" height="25" fill="#0069ff"/>
<rect x="923" y="1097" width="2" height="25" fill="#00c7ff"/>
<rect x="925" y="1097" width="3" height="25" fill="#0000f2"/>
<rect x="928" y="1097" width="3" height="25" fill="#0000f8"/>
<rect x="940" y="1097" width="3" height="25" fill="#00a8ff"/>
<rect x="943" y="1097" width="3" height="25" fill="#00b1ff"/>
<rect x="960" y="1097" width="2" height="25" fill="#0021ff"/>
<rect x="962" y="1097" width="3" height="25" fill="#0006ff"/>
<rect x="965" y="1097" width="3" height="25" fill="#0000f9"/>
<rect x="968" y="1097" width="3" height="25" fill="#0087ff"/>
<rect x="971" y="1097" width="2" height="25" fill="#00c1ff"/>
<rect x="991" y="1097" width="1" height="25" fill="#0000f5"/>
<rect x="992" y="1097" width="3" height="25" fill="#0000f8"/>
<rect x="1010" y="1097" width="2" height="25" fill="#0013ff"/>
<rect x="1022" y="1097" width="2" height="25" fill="#00b8ff"/>
<rect x="1024" y="1097" width="3" height="25" fill="#000bff"/>
<rect x="1027" y="1097" width="1" height="25" fill="#0067ff"/>
<rect x="1028" y="1097" width="1" height="25" fill="#00b5ff"/>
<rect x="1039" y="1097" width="3" height="25" fill="#0007ff"/>
<rect x="1042" y="1097" width="3" height="25" fill="#0000f1"/>
<rect x="1051" y="1097" width="2" height="25" fill="#0015ff"/>
<rect x="1053" y="1097" width="1" height="25" fill="#00ccff"/>
<rect x="1054" y="1097" width="3" height="25" fill="#002bff"/>
<rect x="1064" y="1097" width="1" height="25" fill="#0013ff"/>
<rect x="1065" y="1097" width="2" height="25" fill="#0018ff"/>
<rect x="1067" y="1097" width="2" height="25" fill="#0000eb"/>
<rect x="1069" y="1097" width="1" height="25" fill="#0000ed"/>
<rect x="1070" y="1097" width="2" height="25" fill="#0000e7"/>
<rect x="1072" y="1097" width="2" height="25" fill="#0054ff"/>
<rect x="1074" y="1097" width="3" height="25" fill="#004eff"/>
<rect x="1113" y="1097" width="1" height="25" fill="#0000ee"/>
<rect x="1114" y="1097" width="3" height="25" fill="#0021ff"/>
<rect x="1117" y="1097" width="3" height="25" fill="#0011ff"/>
<rect x="1120" y="1097" width="1" height="25" fill="#0052ff"/>
<rect x="1127" y="1097" width="2" height="25" fill="#0007ff"/>
<rect x="1135" y="1097" width="1" height="25" fill="#000eff"/>
<rect x="1136" y="1097" width="2" height="25" fill="#007bff"/>
<rect x="1138" y="1097" width="1" height="25" fill="#0051ff"/>
<rect x="1139" y="1097" width="2" height="25" fill="#0000e6"/>
<rect x="1141" y="1097" width="3" height="25" fill="#001eff"/>
<rect x="1144" y="1097" width="1" height="25" fill="#0056ff"/>
<rect x="1145" y="1097" width="1" height="25" fill="#001cff"/>
<rect x="1146" y="1097" width="3" height="25" fill="#0018ff"/>
<rect x="1149" y="1097" width="3" height="25" fill="#00c2ff"/>
<rect x="1152" y="1097" width="1" height="25" fill="#009eff"/>
<rect x="1153" y="1097" width="1" height="25" fill="#0000e9"/>
<rect x="1154" y="1097" width="3" height="25" fill="#0008ff"/>
<rect x="1170" y="1097" width="2" height="25" fill="#008fff"/>
<rect x="1179" y="1097" width="1" height="25" fill="#006cff"/>
<rect x="1180" y="1097" width="2" height="25" fill="#0012ff"/>
<rect x="1182" y="1097" width="1" height="25" fill="#000eff"/>
<rect x="1183" y="1097" width="3" height="25" fill="#002cff"/>
<rect x="1186" y="1097" width="3" height="25" fill="#0029ff"/>
<rect x="1189" y="1097" width="2" height="25" fill="#00b9ff"/>
<rect x="1191" y="1097" width="3" height="25" fill="#0072ff"/>
<rect x="1194" y="1097" width="1" height="25" fill="#0000ff"/>
<rect x="1195" y="1097" width="2" height="25" fill="#0055ff"/>
<rect x="1197" y="1097" width="1" height="25" fill="#001fff"/>
<rect x="1198" y="1097" width="3" height="25" fill="#000eff"/>
<rect x="1201" y="1097" width="3" height="25" fill="#0017ff"/>
<rect x="1204" y="1097" width="3" height="25" fill="#0000f6"/>
<rect x="1207" y="1097" width="2" height="25" fill="#001dff"/>
<rect x="1209" y="1097" width="3" height="25" fill="#001bff"/>
<rect x="1212" y="1097" width="2" height="25" fill="#0084ff"/>
<rect x="1214" y="1097" width="2" height="25" fill="#00c9ff"/>
<rect x="1216" y="1097" width="1" height="25" fill="#00c6ff"/>
<rect x="1217" y="1097" width="2" height="25" fill="#0000f1"/>
<rect x="1219" y="1097" width="3" height="25" fill="#002cff"/>
<rect x="1222" y="1097" width="2" height="25" fill="#0061ff"/>
<rect x="1224" y="1097" width="1" height="25" fill="#006eff"/>
<rect x="1225" y="1097" width="1" height="25" fill="#007dff"/>
<rect x="1226" y="1097" width="1" height="25" fill="#002dff"/>
<rect x="1227" y="1097" width="3" height="25" fill="#0026ff"/>
<rect x="1230" y="1097" width="1" height="25" fill="#000aff"/>
<rect x="1231" y="1097" width="3" height="25" fill="#0073ff"/>
<rect x="1234" y="1097" width="2" height="25" fill="#006fff"/>
<rect x="1236" y="1097" width="2" height="25" fill="#005eff"/>
<rect x="1238" y="1097" width="2" height="25" fill="#0000e7"/>
<rect x="1240" y="1097" width="2" height="25" fill="#0000f7"/>
<rect x="1242" y="1097" width="3" height="25" fill="#002cff"/>
<rect x="1245" y="1097" width="2" height="25" fill="#009dff"/>
<rect x="1247" y="1097" width="3" height="25" fill="#0022ff"/>
<rect x="1250" y="1097" width="1" height="25" fill="#0081ff"/>
<rect x="1251" y="1097" width="2" height="25" fill="#00beff"/>
<rect x="1253" y="1097" width="1" height="25" fill="#000eff"/>
<rect x="1254" y="1097" width="3" height="25" fill="#0000e7"/>
<rect x="1257" y="1097" width="2" height="25" fill="#008fff"/>
<rect x="1259" y="1097" width="3" height="25" fill="#0000fc"/>
<rect x="1262" y="1097" width="2" height="25" fill="#0000fb"/>
<rect x="1264" y="1097" width="2" height="25" fill="#004dff"/>
<rect x="1266" y="1097" width="1" height="25" fill="#0000e9"/>
<rect x="1267" y="1097" width="1" height="25" fill="#00c1ff"/>
<rect x="1268" y="1097" width="2" height="25" fill="#007bff"/>
<rect x="1270" y="1097" width="1" height="25" fill="#0016ff"/>
<rect x="1271" y="1097" width="1" height="25" fill="#0002ff"/>
<rect x="1272" y="1097" width="2" height="25" fill="#00acff"/>
<rect x="1274" y="1097" width="1" height="25" fill="#0000f9"/>
<rect x="1275" y="1097" width="3" height="25" fill="#0000f7"/>
<rect x="1278" y="1097" width="1" height="25" fill="#0000f2"/>
<rect x="1279" y="1097" width="3" height="25" fill="#00c6ff"/>
<rect x="1282" y="1097" width="1" height="25" fill="#007bff"/>
<rect x="1283" y="1097" width="2" height="25" fill="#0018ff"/>
<rect x="1285" y="1097" width="1" height="25" fill="#0000ee"/>
<rect x="1286" y="1097" width="3" height="25" fill="#00a2ff"/>
<rect x="1289" y="1097" width="3" height="25" fill="#0091ff"/>
<rect x="1292" y="1097" width="3" height="25" fill="#001cff"/>
<rect x="1295" y="1097" width="2" height="25" fill="#0006ff"/>
<rect x="1297" y="1097" width="3" height="25" fill="#0019ff"/>
<rect x="1300" y="1097" width="3" height="25" fill="#0000ff"/>
<rect x="1303" y="1097" width="1" height="25" fill="#0000f7"/>
<rect x="1304" y="1097" width="2" height="25" fill="#001eff"/>
<rect x="1306" y="1097" width="3" height="25" fill="#0025ff"/>
<rect x="1309" y="1097" width="1" height="25" fill="#00cdff"/>
<rect x="1310" y="1097" width="1" height="25" fill="#0000fe"/>
<rect x="1311" y="1097" width="1" height="25" fill="#004eff"/>
<rect x="1312" y="1097" width="1" height="25" fill="#0000e7"/>
<rect x="1313" y="1097" width="3" height="25" fill="#005fff"/>
<rect x="1316" y="1097" width="3" height="25" fill="#0000eb"/>
<rect x="1319" y="1097" width="2" height="25" fill="#0029ff"/>
<rect x="1321" y="1097" width="1" height="25" fill="#0019ff"/>
<rect x="1322" y="1097" width="2" height="25" fill="#006dff"/>
<rect x="1324" y="1097" width="1" height="25" fill="#001cff"/>
<rect x="1325" y="1097" width="3" height="25" fill="#0056ff"/>
<rect x="1328" y="1097" width="2" height="25" fill="#0084ff"/>
<rect x="1330" y="1097" width="3" height="25" fill="#0012ff"/>
<rect x="880" y="970" width="451" height="152" fill="url(#spkg)" filter="url(#spk)"/>
<line x1="1240" y1="983.5" x2="1325" y2="983.5" stroke="#3050ff" stroke-width="1" stroke-dasharray="3 2" opacity="0.7"/>
<line x1="640" y1="995.5" x2="772" y2="995.5" stroke="#3050ff" stroke-width="1" stroke-dasharray="3 3" opacity="0.6"/>
</g>
<rect x="260.5" y="969.5" width="1550" height="153" fill="none" stroke="#000" stroke-width="1"/>
<text x="205" y="1005.4" font-size="28">10<tspan dy="-16" font-size="18">-1</tspan></text>
<text x="205" y="1056.4" font-size="28">10<tspan dy="-16" font-size="18">0</tspan></text>
<text x="205" y="1107.4" font-size="28">10<tspan dy="-16" font-size="18">1</tspan></text>
<text transform="translate(185,1152) rotate(-90)" font-size="28">Wavelength (km)</text>
<g><line x1="261" y1="1179.5" x2="1810" y2="1179.5" class="dt"/><line x1="260" y1="1179.5" x2="276" y2="1179.5" class="k"/><line x1="1794" y1="1179.5" x2="1810" y2="1179.5" class="k"/><line x1="261" y1="1244.5" x2="1810" y2="1244.5" class="dt"/><line x1="260" y1="1244.5" x2="276" y2="1244.5" class="k"/><line x1="1794" y1="1244.5" x2="1810" y2="1244.5" class="k"/><line x1="261" y1="1309.5" x2="1810" y2="1309.5" class="dt"/><line x1="260" y1="1309.5" x2="276" y2="1309.5" class="k"/><line x1="1794" y1="1309.5" x2="1810" y2="1309.5" class="k"/><line x1="441.5" y1="1133" x2="441.5" y2="1355" class="dt"/><line x1="622.5" y1="1133" x2="622.5" y2="1355" class="dt"/><line x1="906.5" y1="1133" x2="906.5" y2="1355" class="dt"/><line x1="1088.5" y1="1133" x2="1088.5" y2="1355" class="dt"/><line x1="1269.5" y1="1133" x2="1269.5" y2="1355" class="dt"/><line x1="1450.5" y1="1133" x2="1450.5" y2="1355" class="dt"/><line x1="1630.5" y1="1133" x2="1630.5" y2="1355" class="dt"/><line x1="1809.5" y1="1133" x2="1809.5" y2="1355" class="dt"/><line x1="441.5" y1="1133" x2="441.5" y2="1149" class="k"/><line x1="441.5" y1="1339" x2="441.5" y2="1355" class="k"/><line x1="622.5" y1="1133" x2="622.5" y2="1149" class="k"/><line x1="622.5" y1="1339" x2="622.5" y2="1355" class="k"/><line x1="906.5" y1="1133" x2="906.5" y2="1149" class="k"/><line x1="906.5" y1="1339" x2="906.5" y2="1355" class="k"/><line x1="1088.5" y1="1133" x2="1088.5" y2="1149" class="k"/><line x1="1088.5" y1="1339" x2="1088.5" y2="1355" class="k"/><line x1="1269.5" y1="1133" x2="1269.5" y2="1149" class="k"/><line x1="1269.5" y1="1339" x2="1269.5" y2="1355" class="k"/><line x1="1450.5" y1="1133" x2="1450.5" y2="1149" class="k"/><line x1="1450.5" y1="1339" x2="1450.5" y2="1355" class="k"/><line x1="1630.5" y1="1133" x2="1630.5" y2="1149" class="k"/><line x1="1630.5" y1="1339" x2="1630.5" y2="1355" class="k"/></g>
<defs><clipPath id="mpc"><rect x="261" y="1134" width="1549" height="221"/></clipPath></defs><g clip-path="url(#mpc)"><polyline points="381.4,1133.7 390.5,1138.9 393.2,1143.4 395.1,1141.5 390.5,1135.6 389.2,1133.7" class="c"/>
<polyline points="399.7,1133.7 407.5,1142.1 411.4,1146.1 412.7,1151.9 410.2,1155.2 414.1,1159.1 423.2,1165.0 429.7,1168.2 437.5,1171.5 444.1,1173.5 450.6,1176.1 455.8,1172.8 460.0,1173.5 465.2,1177.4 471.7,1182.6 478.3,1184.6 486.1,1187.8 490.0,1190.4 493.9,1195.7 496.6,1199.6 499.2,1202.2 504.4,1206.1 509.6,1208.7 514.8,1211.3 518.7,1213.3 521.4,1210.0 525.3,1207.4 529.2,1210.0 531.8,1216.6 532.5,1229.6 527.9,1233.5 524.0,1240.0 520.1,1242.7 517.4,1247.9 517.4,1254.4 520.7,1256.4 517.4,1259.6 514.8,1263.5 515.5,1268.8 518.7,1272.7 522.7,1276.6 526.6,1281.8 528.5,1288.3 531.1,1292.2 535.7,1297.5 537.7,1304.0 538.3,1309.2 543.6,1314.5 551.4,1318.4 557.9,1322.3 562.5,1327.5 563.8,1336.7 563.1,1347.1 561.8,1355.0" class="c"/>
<polyline points="445.4,1133.7 444.1,1138.2 444.1,1146.1 446.7,1150.0 450.6,1155.2 454.5,1161.7 460.0,1164.3 467.8,1163.0 473.7,1161.1 475.7,1151.3 482.2,1149.3 492.0,1149.3 490.0,1157.8 488.1,1164.3 484.8,1169.6 483.5,1174.8 493.9,1174.8 503.1,1174.8 506.3,1178.0 505.7,1187.8 505.0,1195.7 508.3,1200.9 512.2,1204.1 517.4,1206.1 522.7,1204.1 527.9,1204.8 531.1,1207.4 534.4,1210.0 535.7,1206.1 538.3,1200.9 542.2,1197.0 548.8,1194.4 554.0,1191.7 557.3,1190.4 559.2,1191.7 563.1,1191.7 568.4,1191.7 571.0,1197.0 577.5,1198.3 585.3,1199.6 590.5,1198.3 595.8,1198.3 601.0,1199.6 603.6,1206.1 610.1,1210.0 615.4,1215.2 620.6,1218.5 629.7,1218.5 638.9,1223.1 644.1,1227.0 648.0,1232.2 650.6,1237.4 648.0,1244.0 645.4,1247.9 645.4,1250.5 649.0,1247.0 653.0,1245.5 660.0,1246.6 665.2,1247.9 673.1,1253.1 679.6,1255.1 692.6,1255.7 699.2,1259.0 705.7,1263.5 712.2,1266.2 716.1,1271.4 716.1,1279.2 712.2,1285.7 705.7,1292.3 699.2,1300.1 696.6,1306.6 697.9,1315.8 695.2,1326.2 692.6,1334.0 688.7,1340.6 686.1,1343.2 679.6,1345.8 673.1,1347.1 665.2,1351.0 661.3,1355.0" class="c"/>
<polyline points="556.7,1191.1 557.3,1198.3 557.9,1204.8" class="c"/>
<polygon points="500.5,1147.4 504.4,1143.4 512.2,1141.5 520.1,1142.1 527.9,1146.1 535.7,1150.0 543.6,1153.9 546.8,1157.2 538.3,1156.5 530.5,1152.6 521.4,1147.4 512.2,1144.7 507.0,1146.1" class="c"/>
<polygon points="550.1,1157.2 557.9,1156.5 564.4,1158.5 571.0,1162.4 569.7,1165.0 560.5,1166.9 551.4,1165.0 546.2,1164.3 550.1,1160.4" class="c"/>
<polyline points="801.0,1133.7 795.8,1140.8 791.8,1147.4 793.1,1151.3 795.8,1156.5 794.5,1160.4 795.8,1165.6 794.5,1176.1 791.2,1180.0 793.1,1187.8 798.4,1193.1 802.3,1197.0 806.2,1202.2 808.8,1208.7 812.7,1212.6 819.3,1216.6 827.1,1223.1 833.6,1225.7 840.2,1223.1 848.0,1221.1 860.0,1222.4 867.8,1219.2 875.7,1216.6 883.5,1215.9 887.4,1219.2 890.0,1224.4 896.6,1225.7 903.1,1225.7 905.0,1229.6 904.4,1237.4 903.1,1246.6 905.7,1253.1 912.2,1258.3 916.1,1263.5 918.7,1268.8 921.4,1276.6 924.0,1281.8 922.7,1285.7 924.0,1293.6 921.4,1300.1 918.7,1304.0 917.4,1310.5 916.1,1318.4 917.4,1324.9 921.4,1331.4 925.3,1336.7 927.9,1344.5 928.5,1355.0" class="c"/>
<polygon points="922.5,1183.0 928.0,1185.0 931.0,1189.0 927.0,1190.5 924.0,1187.0" class="c"/>
<polyline points="1016.7,1133.7 1018.1,1139.5 1024.5,1146.1 1027.1,1159.1 1033.6,1166.9 1036.2,1176.1 1045.4,1182.6 1050.6,1187.8 1051.9,1194.4 1055.0,1196.0 1060.0,1197.0 1070.4,1195.7 1084.8,1192.4 1082.2,1208.7 1078.3,1216.6 1073.1,1224.4 1060.0,1234.8 1049.3,1245.3 1040.2,1254.4 1034.9,1263.5 1032.3,1270.1 1034.9,1274.0 1036.2,1283.1 1040.2,1292.3 1041.5,1300.1 1040.2,1309.2 1034.9,1315.8 1028.4,1319.7 1021.9,1326.2 1015.4,1331.4 1016.7,1341.9 1018.0,1355.0" class="c"/>
<polyline points="1025.8,1133.7 1032.3,1140.8 1034.9,1151.3 1042.8,1160.4 1048.0,1168.2 1049.3,1176.1 1051.9,1185.2 1053.2,1190.4 1060.0,1186.5 1066.5,1185.2 1073.1,1182.6 1079.6,1180.0 1088.7,1176.1 1096.6,1172.2 1103.1,1169.6 1109.6,1165.6 1113.5,1161.7 1116.1,1156.5 1118.7,1152.6 1121.4,1148.7 1122.7,1144.7 1117.4,1140.8 1109.6,1135.6 1107.0,1133.7" class="c"/>
<polyline points="1086.1,1135.6 1092.6,1136.9 1099.2,1135.6 1101.8,1133.7" class="c"/>
<polygon points="1002.3,1245.3 1011.4,1244.0 1012.7,1247.9 1008.8,1254.4 1002.9,1255.7" class="c"/>
<polyline points="990.5,1258.3 993.1,1267.5 998.4,1276.6 999.7,1281.8" class="c"/>
<polyline points="1012.1,1285.7 1015.4,1296.2 1018.0,1306.6" class="c"/>
<polyline points="1069.0,1356.0 1069.7,1348.6 1072.7,1339.0 1076.4,1330.1 1079.3,1319.0 1079.3,1313.8 1081.6,1313.0 1083.0,1309.3 1081.6,1301.2 1077.1,1296.7 1074.9,1301.2 1071.9,1303.4 1069.7,1307.8 1065.2,1311.5 1057.1,1315.2 1054.9,1321.2 1057.1,1330.1 1054.9,1337.5 1051.2,1342.7 1054.1,1356.0" class="c"/>
<polyline points="1152.7,1133.7 1159.2,1140.8 1164.4,1143.4 1168.4,1144.1 1163.1,1146.1 1167.1,1150.0 1172.3,1152.6 1176.2,1150.0 1177.5,1146.1 1178.8,1153.9 1180.1,1163.0 1181.4,1172.2 1184.0,1178.7 1187.9,1187.8 1191.9,1195.7 1194.5,1206.1 1198.4,1208.7 1202.3,1206.1 1206.2,1200.9 1208.8,1197.0 1210.1,1189.1 1210.1,1177.4 1214.0,1174.8 1220.6,1170.9 1227.1,1165.6 1233.6,1160.4 1240.2,1153.9 1241.5,1148.7 1245.4,1147.4 1250.6,1148.7 1254.5,1146.1 1260.0,1143.4 1260.0,1144.7 1265.2,1152.6 1270.4,1159.1 1273.1,1167.0 1273.1,1174.8 1279.6,1173.5 1283.5,1170.9 1286.1,1174.8 1287.4,1182.6 1288.7,1189.1 1290.0,1197.0 1288.7,1204.8 1292.6,1212.6 1297.9,1216.6 1301.8,1222.4 1306.8,1231.5 1312.3,1236.7 1314.8,1237.7 1311.6,1231.5 1310.9,1222.4 1308.3,1217.9 1298.5,1212.6 1294.6,1207.4 1293.3,1202.2 1296.0,1195.0 1299.2,1189.1 1304.4,1190.4 1309.6,1195.7 1314.8,1198.3 1317.4,1206.1 1322.7,1203.5 1327.9,1198.3 1333.1,1194.4 1337.0,1189.1 1335.7,1178.7 1333.1,1173.5 1327.9,1168.2 1324.0,1164.3 1320.1,1160.4 1321.4,1156.5 1327.9,1151.3 1334.4,1148.0 1338.3,1150.0 1343.6,1150.0 1351.4,1146.1 1359.2,1143.4 1367.0,1142.1 1374.9,1135.6 1377.5,1133.7" class="c"/>
<polygon points="1210.1,1203.5 1215.4,1207.4 1219.3,1215.2 1215.4,1219.2 1210.1,1217.9 1208.8,1211.3" class="c"/>
<polygon points="1334.0,1155.0 1340.0,1153.5 1342.0,1158.0 1339.0,1164.0 1333.0,1163.0 1331.5,1159.0" class="c"/>
<polygon points="1386.0,1134.0 1390.5,1135.0 1388.0,1144.0 1385.0,1146.0 1383.5,1141.0" class="c"/>
<polygon points="1384.0,1164.3 1391.8,1163.0 1393.2,1170.9 1389.2,1176.1 1387.9,1182.6 1385.3,1187.8 1382.7,1182.6 1381.4,1172.2" class="c"/>
<polygon points="1390.5,1182.6 1401.0,1187.8 1406.2,1191.7 1395.8,1194.4 1389.2,1190.4" class="c"/>
<polygon points="1395.8,1198.3 1407.5,1194.4 1410.1,1206.1 1406.2,1211.3 1398.4,1206.1" class="c"/>
<polyline points="1373.6,1204.8 1381.4,1195.7" class="c"/>
<polygon points="1400.0,1214.0 1405.0,1212.5 1410.0,1215.0 1406.0,1219.0 1401.0,1218.0" class="c"/>
<polygon points="1334.4,1237.4 1343.6,1234.8 1346.2,1229.6 1354.0,1224.4 1361.8,1220.5 1369.7,1213.9 1374.9,1221.8 1376.2,1237.4 1372.3,1240.0 1369.7,1250.5 1367.0,1258.3 1359.2,1262.2 1351.4,1258.3 1340.9,1258.3 1338.3,1250.5 1334.4,1240.0" class="c"/>
<polygon points="1275.7,1220.5 1286.1,1221.8 1296.6,1229.6 1304.4,1236.1 1312.2,1242.7 1317.4,1250.5 1321.4,1257.0 1321.4,1268.8 1314.8,1267.5 1307.0,1260.9 1299.2,1250.5 1292.6,1240.0 1282.2,1229.6 1275.7,1223.1" class="c"/>
<polygon points="1320.1,1271.4 1338.3,1274.0 1354.0,1275.3 1371.0,1279.2 1387.9,1279.2 1397.1,1279.2 1390.5,1283.1 1377.5,1281.8 1359.2,1280.5 1338.3,1277.9 1325.3,1275.3" class="c"/>
<polyline points="1397.1,1287.0 1403.6,1283.1 1412.7,1277.9" class="c"/>
<polygon points="1380.1,1266.2 1381.4,1250.5 1384.0,1241.4 1390.5,1238.7 1403.6,1237.4 1401.0,1241.4 1389.2,1244.0 1385.3,1247.9 1395.8,1247.9 1387.9,1251.8 1385.3,1258.3 1395.8,1267.5 1391.8,1267.5 1385.3,1262.2 1382.7,1268.8" class="c"/>
<polyline points="1415.4,1234.8 1418.0,1242.0 1416.0,1250.5" class="c"/>
<polyline points="1418.0,1257.0 1428.4,1259.6" class="c"/>
<polyline points="1427.1,1245.3 1436.2,1246.6 1442.8,1250.5 1448.0,1255.7 1453.2,1253.1 1460.0,1250.5 1473.1,1254.4 1486.1,1259.6 1492.6,1264.8 1499.2,1268.8 1501.8,1271.4 1499.2,1274.0 1503.1,1279.2 1509.6,1285.7 1514.8,1289.7 1510.9,1291.0 1501.8,1288.3 1495.2,1280.5 1487.4,1275.3 1480.9,1284.4 1473.1,1283.1 1466.5,1279.2 1460.0,1279.2 1460.0,1267.5 1451.9,1263.5 1442.8,1260.9 1434.9,1257.0" class="c"/>
<polygon points="1504.4,1268.8 1514.8,1267.5 1520.1,1263.5 1516.1,1257.0 1521.4,1258.3 1525.3,1262.2 1522.7,1264.8 1517.4,1270.1 1508.3,1271.4" class="c"/>
<polyline points="1530.5,1266.2 1535.7,1272.7 1540.9,1274.0" class="c"/>
<polyline points="1542.2,1277.9 1544.9,1280.5" class="c"/>
<polyline points="1548.8,1276.6 1556.6,1280.5 1559.2,1285.7 1564.4,1291.0" class="c"/>
<polyline points="1582.7,1308.0 1587.9,1317.1" class="c"/>
<polygon points="1572.3,1334.0 1579.0,1337.0 1585.3,1343.2 1578.0,1341.0" class="c"/>
<polyline points="1628.4,1321.0 1633.6,1318.4 1640.2,1315.8" class="c"/>
<polyline points="1354.0,1355.0 1355.3,1341.9 1359.2,1339.4 1371.0,1334.0 1384.0,1328.8 1390.5,1322.3 1393.2,1317.1 1398.4,1313.2 1403.6,1308.0 1410.1,1304.0 1416.7,1306.6 1423.2,1309.2 1425.8,1302.7 1429.7,1296.2 1436.2,1294.9 1442.8,1296.2 1449.3,1297.5 1453.2,1300.1 1450.6,1306.6 1451.9,1311.8 1460.0,1314.5 1465.2,1318.4 1470.4,1321.0 1474.4,1313.2 1475.7,1302.7 1477.0,1296.2 1479.6,1291.0 1483.5,1302.7 1488.7,1308.0 1492.6,1315.8 1495.2,1326.2 1503.1,1331.4 1507.0,1336.7 1510.9,1343.2 1516.1,1347.1 1520.1,1355.0" class="c"/>
<polyline points="1725.5,1147.4 1730.1,1145.4" class="c"/>
<polyline points="1734.0,1148.7 1741.8,1152.6 1745.7,1155.2 1748.4,1159.1 1744.4,1161.1 1743.1,1156.5" class="c"/>
<polyline points="1671.3,1302.7 1677.9,1304.7" class="c"/>
<circle cx="508.3" cy="1148.7" r="1.6" fill="#000"/>
<circle cx="530.5" cy="1136.9" r="1.6" fill="#000"/>
<circle cx="544.9" cy="1143.4" r="1.6" fill="#000"/>
<circle cx="551.4" cy="1146.1" r="1.6" fill="#000"/>
<circle cx="556.6" cy="1148" r="1.6" fill="#000"/>
<circle cx="550.1" cy="1151.3" r="1.6" fill="#000"/>
<circle cx="600.3" cy="1173.5" r="1.6" fill="#000"/>
<circle cx="603.6" cy="1180" r="1.6" fill="#000"/>
<circle cx="473.1" cy="1246.6" r="1.6" fill="#000"/>
<circle cx="926.6" cy="1186.5" r="1.6" fill="#000"/>
<circle cx="1097.2" cy="1189.8" r="1.6" fill="#000"/>
<circle cx="1104.4" cy="1336.7" r="1.6" fill="#000"/>
<circle cx="1113.5" cy="1332.7" r="1.6" fill="#000"/>
<circle cx="1407.5" cy="1258.3" r="1.6" fill="#000"/>
<circle cx="1410" cy="1259" r="1.6" fill="#000"/>
<circle cx="1444.1" cy="1270.1" r="1.6" fill="#000"/>
<circle cx="1431" cy="1276.6" r="1.6" fill="#000"/>
<circle cx="1450.6" cy="1247.9" r="1.6" fill="#000"/>
<circle cx="1497.9" cy="1252.5" r="1.6" fill="#000"/>
<circle cx="1555.3" cy="1285.1" r="1.6" fill="#000"/>
<circle cx="1771.9" cy="1321" r="1.6" fill="#000"/>
<circle cx="1640" cy="1315.8" r="1.6" fill="#000"/>
<circle cx="516.1" cy="1134.5" r="1.6" fill="#000"/>
<circle cx="521" cy="1135.6" r="1.6" fill="#000"/>
<ellipse cx="533.1" cy="1165" rx="4.5" ry="2.2" class="c"/>
<ellipse cx="579.5" cy="1164.3" rx="4" ry="1.8" class="c"/>
<polyline points="260.0,1254.4 312.0,1263.0 364.0,1271.5 416.0,1279.6 460.0,1286.4 486.1,1290.3 512.2,1293.6 531.8,1296.2 540.9,1298.1 564.4,1291.0 590.5,1285.1 610.1,1280.5 629.7,1270.1 660.0,1253.1 673.1,1245.3 686.1,1237.4 699.2,1230.3 712.2,1224.4 725.3,1219.2 735.7,1214.6 751.4,1210.7 764.4,1207.4 777.5,1204.1 790.5,1200.9 799.7,1198.9 816.7,1197.6 836.2,1197.0 860.0,1196.3 905.7,1198.3 951.4,1201.5 990.5,1206.1 1016.7,1208.7 1060.0,1211.3 1099.2,1212.6 1138.3,1213.3 1177.5,1212.0 1216.7,1210.0 1260.0,1208.7 1351.4,1211.3 1416.7,1208.7 1460.0,1208.7 1486.1,1210.0 1512.2,1211.3 1551.4,1216.6 1590.5,1223.1 1629.7,1229.6 1660.0,1234.2 1731.4,1244.6 1810.0,1254.4" class="gq"/>
<polyline points="260.0,1289.1 262.0,1289.4 264.0,1289.7 266.0,1290.0 268.0,1290.3 270.0,1290.6 272.0,1290.9 274.0,1291.2 276.0,1291.5 278.0,1291.8 280.0,1292.0 282.0,1292.3 284.0,1292.6 286.0,1292.8 288.0,1293.1 290.0,1293.3 292.0,1293.6 294.0,1293.8 296.0,1294.1 298.0,1294.3 300.0,1294.5 302.0,1294.8 304.0,1295.0 306.0,1295.2 308.0,1295.5 310.0,1295.7 312.0,1295.9 314.0,1296.1 316.0,1296.3 318.0,1296.5 320.0,1296.7 322.0,1296.9 324.0,1297.1 326.0,1297.3 328.0,1297.4 330.0,1297.6 332.0,1297.8 334.0,1297.9 336.0,1298.1 338.0,1298.3 340.0,1298.4 342.0,1298.6 344.0,1298.7 346.0,1298.9 348.0,1299.0 350.0,1299.1 352.0,1299.3 354.0,1299.4 356.0,1299.5 358.0,1299.6 360.0,1299.8 362.0,1299.9 364.0,1300.0 366.0,1300.1 368.0,1300.2 370.0,1300.3 372.0,1300.3 374.0,1300.4 376.0,1300.5 378.0,1300.6 380.0,1300.7 382.0,1300.7 384.0,1300.8 386.0,1300.8 388.0,1300.9 390.0,1300.9 392.0,1301.0 394.0,1301.0 396.0,1301.1 398.0,1301.1 400.0,1301.1 402.0,1301.2 404.0,1301.2 406.0,1301.2 408.0,1301.2 410.0,1301.2 412.0,1301.2 414.0,1301.2 416.0,1301.2 418.0,1301.2 420.0,1301.2 422.0,1301.2 424.0,1301.1 426.0,1301.1 428.0,1301.1 430.0,1301.0 432.0,1301.0 434.0,1300.9 436.0,1300.9 438.0,1300.8 440.0,1300.8 442.0,1300.7 444.0,1300.6 446.0,1300.6 448.0,1300.5 450.0,1300.4 452.0,1300.3 454.0,1300.2 456.0,1300.2 458.0,1300.1 460.0,1300.0 462.0,1299.9 464.0,1299.7 466.0,1299.6 468.0,1299.5 470.0,1299.4 472.0,1299.3 474.0,1299.1 476.0,1299.0 478.0,1298.9 480.0,1298.7 482.0,1298.6 484.0,1298.4 486.0,1298.3 488.0,1298.1 490.0,1297.9 492.0,1297.8 494.0,1297.6 496.0,1297.4 498.0,1297.2 500.0,1297.0 502.0,1296.9 504.0,1296.7 506.0,1296.5 508.0,1296.3 510.0,1296.1 512.0,1295.9 514.0,1295.6 516.0,1295.4 518.0,1295.2 520.0,1295.0 522.0,1294.8 524.0,1294.5 526.0,1294.3 528.0,1294.1 530.0,1293.8 532.0,1293.6 534.0,1293.3 536.0,1293.1 538.0,1292.8 540.0,1292.5 542.0,1292.3 544.0,1292.0 546.0,1291.7 548.0,1291.5 550.0,1291.2 552.0,1290.9 554.0,1290.6 556.0,1290.3 558.0,1290.0 560.0,1289.7 562.0,1289.4 564.0,1289.1 566.0,1288.8 568.0,1288.5 570.0,1288.2 572.0,1287.9 574.0,1287.5 576.0,1287.2 578.0,1286.9 580.0,1286.6 582.0,1286.2 584.0,1285.9 586.0,1285.5 588.0,1285.2 590.0,1284.9 592.0,1284.5 594.0,1284.1 596.0,1283.8 598.0,1283.4 600.0,1283.1 602.0,1282.7 604.0,1282.3 606.0,1282.0 608.0,1281.6 610.0,1281.2 612.0,1280.8 614.0,1280.5 616.0,1280.1 618.0,1279.7 620.0,1279.3 622.0,1278.9 624.0,1278.5 626.0,1278.1 628.0,1277.7 630.0,1277.3 632.0,1276.9 634.0,1276.5 636.0,1276.1 638.0,1275.7 640.0,1275.2 642.0,1274.8 644.0,1274.4 646.0,1274.0 648.0,1273.6 650.0,1273.1 652.0,1272.7 654.0,1272.3 656.0,1271.8 658.0,1271.4 660.0,1271.0 662.0,1270.5 664.0,1270.1 666.0,1269.6 668.0,1269.2 670.0,1268.7 672.0,1268.3 674.0,1267.8 676.0,1267.4 678.0,1266.9 680.0,1266.5 682.0,1266.0 684.0,1265.5 686.0,1265.1 688.0,1264.6 690.0,1264.2 692.0,1263.7 694.0,1263.2 696.0,1262.7 698.0,1262.3 700.0,1261.8 702.0,1261.3 704.0,1260.9 706.0,1260.4 708.0,1259.9 710.0,1259.4 712.0,1258.9 714.0,1258.5 716.0,1258.0 718.0,1257.5 720.0,1257.0 722.0,1256.5 724.0,1256.0 726.0,1255.6 728.0,1255.1 730.0,1254.6 732.0,1254.1 734.0,1253.6 736.0,1253.1 738.0,1252.6 740.0,1252.1 742.0,1251.6 744.0,1251.1 746.0,1250.6 748.0,1250.1 750.0,1249.6 752.0,1249.2 754.0,1248.7 756.0,1248.2 758.0,1247.7 760.0,1247.2 762.0,1246.7 764.0,1246.2 766.0,1245.7 768.0,1245.2 770.0,1244.7 772.0,1244.2 772.5,1244.1" class="rt"/>
<polyline points="880.5,1244.1 882.5,1243.6 884.5,1243.1 886.5,1242.6 888.5,1242.1 890.5,1241.6 892.5,1241.1 894.5,1240.6 896.5,1240.1 898.5,1239.6 900.5,1239.1 902.5,1238.6 904.5,1238.1 906.5,1237.6 908.5,1237.1 910.5,1236.6 912.5,1236.1 914.5,1235.6 916.5,1235.1 918.5,1234.6 920.5,1234.2 922.5,1233.7 924.5,1233.2 926.5,1232.7 928.5,1232.2 930.5,1231.7 932.5,1231.2 934.5,1230.7 936.5,1230.3 938.5,1229.8 940.5,1229.3 942.5,1228.8 944.5,1228.3 946.5,1227.9 948.5,1227.4 950.5,1226.9 952.5,1226.4 954.5,1226.0 956.5,1225.5 958.5,1225.0 960.5,1224.5 962.5,1224.1 964.5,1223.6 966.5,1223.2 968.5,1222.7 970.5,1222.2 972.5,1221.8 974.5,1221.3 976.5,1220.9 978.5,1220.4 980.5,1220.0 982.5,1219.5 984.5,1219.1 986.5,1218.6 988.5,1218.2 990.5,1217.7 992.5,1217.3 994.5,1216.8 996.5,1216.4 998.5,1216.0 1000.5,1215.5 1002.5,1215.1 1004.5,1214.7 1006.5,1214.3 1008.5,1213.8 1010.5,1213.4 1012.5,1213.0 1014.5,1212.6 1016.5,1212.2 1018.5,1211.7 1020.5,1211.3 1022.5,1210.9 1024.5,1210.5 1026.5,1210.1 1028.5,1209.7 1030.5,1209.3 1032.5,1208.9 1034.5,1208.5 1036.5,1208.2 1038.5,1207.8 1040.5,1207.4 1042.5,1207.0 1044.5,1206.6 1046.5,1206.3 1048.5,1205.9 1050.5,1205.5 1052.5,1205.2 1054.5,1204.8 1056.5,1204.4 1058.5,1204.1 1060.5,1203.7 1062.5,1203.4 1064.5,1203.0 1066.5,1202.7 1068.5,1202.3 1070.5,1202.0 1072.5,1201.7 1074.5,1201.3 1076.5,1201.0 1078.5,1200.7 1080.5,1200.4 1082.5,1200.0 1084.5,1199.7 1086.5,1199.4 1088.5,1199.1 1090.5,1198.8 1092.5,1198.5 1094.5,1198.2 1096.5,1197.9 1098.5,1197.6 1100.5,1197.3 1102.5,1197.0 1104.5,1196.8 1106.5,1196.5 1108.5,1196.2 1110.5,1195.9 1112.5,1195.7 1114.5,1195.4 1116.5,1195.1 1118.5,1194.9 1120.5,1194.6 1122.5,1194.4 1124.5,1194.2 1126.5,1193.9 1128.5,1193.7 1130.5,1193.4 1132.5,1193.2 1134.5,1193.0 1136.5,1192.8 1138.5,1192.6 1140.5,1192.3 1142.5,1192.1 1144.5,1191.9 1146.5,1191.7 1148.5,1191.5 1150.5,1191.3 1152.5,1191.1 1154.5,1191.0 1156.5,1190.8 1158.5,1190.6 1160.5,1190.4 1162.5,1190.3 1164.5,1190.1 1166.5,1189.9 1168.5,1189.8 1170.5,1189.6 1172.5,1189.5 1174.5,1189.3 1176.5,1189.2 1178.5,1189.1 1180.5,1188.9 1182.5,1188.8 1184.5,1188.7 1186.5,1188.6 1188.5,1188.4 1190.5,1188.3 1192.5,1188.2 1194.5,1188.1 1196.5,1188.0 1198.5,1187.9 1200.5,1187.8 1202.5,1187.8 1204.5,1187.7 1206.5,1187.6 1208.5,1187.5 1210.5,1187.5 1212.5,1187.4 1214.5,1187.3 1216.5,1187.3 1218.5,1187.2 1220.5,1187.2 1222.5,1187.1 1224.5,1187.1 1226.5,1187.1 1228.5,1187.0 1230.5,1187.0 1232.5,1187.0 1234.5,1187.0 1236.5,1187.0 1238.5,1187.0 1240.5,1187.0 1242.5,1187.0 1244.5,1187.0 1246.5,1187.0 1248.5,1187.0 1250.5,1187.0 1252.5,1187.0 1254.5,1187.1 1256.5,1187.1 1258.5,1187.1 1260.5,1187.2 1262.5,1187.2 1264.5,1187.3 1266.5,1187.3 1268.5,1187.4 1270.5,1187.4 1272.5,1187.5 1274.5,1187.6 1276.5,1187.6 1278.5,1187.7 1280.5,1187.8 1282.5,1187.9 1284.5,1188.0 1286.5,1188.1 1288.5,1188.2 1290.5,1188.3 1292.5,1188.4 1294.5,1188.5 1296.5,1188.6 1298.5,1188.7 1300.5,1188.9 1302.5,1189.0 1304.5,1189.1 1306.5,1189.3 1308.5,1189.4 1310.5,1189.6 1312.5,1189.7 1314.5,1189.9 1316.5,1190.0 1318.5,1190.2 1320.5,1190.4 1322.5,1190.5 1324.5,1190.7 1326.5,1190.9 1328.5,1191.1 1330.5,1191.3 1332.5,1191.4 1334.5,1191.6 1336.5,1191.8 1338.5,1192.0 1340.5,1192.3 1342.5,1192.5 1344.5,1192.7 1346.5,1192.9 1348.5,1193.1 1350.5,1193.4 1352.5,1193.6 1354.5,1193.8 1356.5,1194.1 1358.5,1194.3 1360.5,1194.5 1362.5,1194.8 1364.5,1195.0 1366.5,1195.3 1368.5,1195.6 1370.5,1195.8 1372.5,1196.1 1374.5,1196.4 1376.5,1196.6 1378.5,1196.9 1380.5,1197.2 1382.5,1197.5 1384.5,1197.8 1386.5,1198.1 1388.5,1198.4 1390.5,1198.7 1392.5,1199.0 1394.5,1199.3 1396.5,1199.6 1398.5,1199.9 1400.5,1200.2 1402.5,1200.5 1404.5,1200.9 1406.5,1201.2 1408.5,1201.5 1410.5,1201.9 1412.5,1202.2 1414.5,1202.5 1416.5,1202.9 1418.5,1203.2 1420.5,1203.6 1422.5,1203.9 1424.5,1204.3 1426.5,1204.6 1428.5,1205.0 1430.5,1205.4 1432.5,1205.7 1434.5,1206.1 1436.5,1206.5 1438.5,1206.9 1440.5,1207.2 1442.5,1207.6 1444.5,1208.0 1446.5,1208.4 1448.5,1208.8 1450.5,1209.2 1452.5,1209.6 1454.5,1210.0 1456.5,1210.4 1458.5,1210.8 1460.5,1211.2 1462.5,1211.6 1464.5,1212.0 1466.5,1212.4 1468.5,1212.8 1470.5,1213.2 1472.5,1213.7 1474.5,1214.1 1476.5,1214.5 1478.5,1214.9 1480.5,1215.4 1482.5,1215.8 1484.5,1216.2 1486.5,1216.7 1488.5,1217.1 1490.5,1217.5 1492.5,1218.0 1494.5,1218.4 1496.5,1218.9 1498.5,1219.3 1500.5,1219.8 1502.5,1220.2 1504.5,1220.7 1506.5,1221.1 1508.5,1221.6 1510.5,1222.0 1512.5,1222.5 1514.5,1223.0 1516.5,1223.4 1518.5,1223.9 1520.5,1224.4 1522.5,1224.8 1524.5,1225.3 1526.5,1225.8 1528.5,1226.2 1530.5,1226.7 1532.5,1227.2 1534.5,1227.7 1536.5,1228.1 1538.5,1228.6 1540.5,1229.1 1542.5,1229.6 1544.5,1230.1 1546.5,1230.5 1548.5,1231.0 1550.5,1231.5 1552.5,1232.0 1554.5,1232.5 1556.5,1233.0 1558.5,1233.5 1560.5,1234.0 1562.5,1234.4 1564.5,1234.9 1566.5,1235.4 1568.5,1235.9 1570.5,1236.4 1572.5,1236.9 1574.5,1237.4 1576.5,1237.9 1578.5,1238.4 1580.5,1238.9 1582.5,1239.4 1584.5,1239.9 1586.5,1240.4 1588.5,1240.9 1590.5,1241.4 1592.5,1241.9 1594.5,1242.4 1596.5,1242.9 1598.5,1243.4 1600.5,1243.9 1602.5,1244.4 1604.5,1244.9 1606.5,1245.4 1608.5,1245.8 1610.5,1246.3 1612.5,1246.8 1614.5,1247.3 1616.5,1247.8 1618.5,1248.3 1620.5,1248.8 1622.5,1249.3 1624.5,1249.8 1626.5,1250.3 1628.5,1250.8 1630.5,1251.3 1632.5,1251.8 1634.5,1252.3 1636.5,1252.8 1638.5,1253.3 1640.5,1253.8 1642.5,1254.3 1644.5,1254.7 1646.5,1255.2 1648.5,1255.7 1650.5,1256.2 1652.5,1256.7 1654.5,1257.2 1656.5,1257.7 1658.5,1258.1 1660.5,1258.6 1662.5,1259.1 1664.5,1259.6 1666.5,1260.1 1668.5,1260.5 1670.5,1261.0 1672.5,1261.5 1674.5,1262.0 1676.5,1262.4 1678.5,1262.9 1680.5,1263.4 1682.5,1263.9 1684.5,1264.3 1686.5,1264.8 1688.5,1265.2 1690.5,1265.7 1692.5,1266.2 1694.5,1266.6 1696.5,1267.1 1698.5,1267.5 1700.5,1268.0 1702.5,1268.4 1704.5,1268.9 1706.5,1269.3 1708.5,1269.8 1710.5,1270.2 1712.5,1270.7 1714.5,1271.1 1716.5,1271.5 1718.5,1272.0 1720.5,1272.4 1722.5,1272.8 1724.5,1273.3 1726.5,1273.7 1728.5,1274.1 1730.5,1274.5 1732.5,1275.0 1734.5,1275.4 1736.5,1275.8 1738.5,1276.2 1740.5,1276.6 1742.5,1277.0 1744.5,1277.4 1746.5,1277.8 1748.5,1278.2 1750.5,1278.6 1752.5,1279.0 1754.5,1279.4 1756.5,1279.8 1758.5,1280.2 1760.5,1280.6 1762.5,1281.0 1764.5,1281.3 1766.5,1281.7 1768.5,1282.1 1770.5,1282.5 1772.5,1282.8 1774.5,1283.2 1776.5,1283.6 1778.5,1283.9 1780.5,1284.3 1782.5,1284.6 1784.5,1285.0 1786.5,1285.3 1788.5,1285.7 1790.5,1286.0 1792.5,1286.3 1794.5,1286.7 1796.5,1287.0 1798.5,1287.3 1800.5,1287.7 1802.5,1288.0 1804.5,1288.3 1806.5,1288.6 1808.5,1288.9 1810.0,1289.1" class="rt"/>
<g fill="#ee0000"><rect x="707.0" y="1252.4" width="10.4" height="13" transform="rotate(-13.5 712.2 1258.9)"/><rect x="721.4" y="1248.9" width="10.4" height="13" transform="rotate(-13.7 726.6 1255.4)"/><rect x="735.7" y="1245.4" width="10.4" height="13" transform="rotate(-13.9 740.9 1251.9)"/><rect x="749.4" y="1242.0" width="10.4" height="13" transform="rotate(-13.9 754.6 1248.5)"/><rect x="761.8" y="1238.9" width="10.4" height="13" transform="rotate(-14.0 767.0 1245.4)"/><rect x="884.2" y="1235.3" width="10.4" height="13" transform="rotate(-14.0 889.4 1241.8)"/><rect x="897.9" y="1231.9" width="10.4" height="13" transform="rotate(-13.9 903.1 1238.4)"/><rect x="912.2" y="1228.4" width="10.4" height="13" transform="rotate(-13.8 917.4 1234.9)"/><rect x="925.9" y="1225.1" width="10.4" height="13" transform="rotate(-13.7 931.1 1231.6)"/><rect x="940.3" y="1221.6" width="10.4" height="13" transform="rotate(-13.4 945.5 1228.1)"/><rect x="954.7" y="1218.2" width="10.4" height="13" transform="rotate(-13.2 959.9 1224.7)"/><rect x="968.4" y="1215.0" width="10.4" height="13" transform="rotate(-12.9 973.6 1221.5)"/><rect x="982.1" y="1211.9" width="10.4" height="13" transform="rotate(-12.5 987.3 1218.4)"/><rect x="996.4" y="1208.8" width="10.4" height="13" transform="rotate(-12.1 1001.6 1215.3)"/><rect x="1010.8" y="1205.8" width="10.4" height="13" transform="rotate(-11.7 1016.0 1212.3)"/><rect x="1024.5" y="1203.0" width="10.4" height="13" transform="rotate(-11.2 1029.7 1209.5)"/><rect x="1038.9" y="1200.2" width="10.4" height="13" transform="rotate(-10.7 1044.1 1206.7)"/><rect x="1051.9" y="1197.8" width="10.4" height="13" transform="rotate(-10.1 1057.1 1204.3)"/><rect x="1066.9" y="1195.2" width="10.4" height="13" transform="rotate(-9.5 1072.1 1201.7)"/><rect x="1080.9" y="1193.0" width="10.4" height="13" transform="rotate(-8.8 1086.1 1199.5)"/><rect x="1094.9" y="1190.9" width="10.4" height="13" transform="rotate(-8.2 1100.1 1197.4)"/><rect x="1108.0" y="1189.1" width="10.4" height="13" transform="rotate(-7.5 1113.2 1195.6)"/><rect x="1121.1" y="1187.4" width="10.4" height="13" transform="rotate(-6.8 1126.3 1193.9)"/><rect x="1134.8" y="1185.9" width="10.4" height="13" transform="rotate(-6.0 1140.0 1192.4)"/><rect x="1148.1" y="1184.6" width="10.4" height="13" transform="rotate(-5.3 1153.3 1191.1)"/><rect x="1162.5" y="1183.3" width="10.4" height="13" transform="rotate(-4.5 1167.7 1189.8)"/><rect x="1175.9" y="1182.4" width="10.4" height="13" transform="rotate(-3.7 1181.1 1188.9)"/><rect x="1189.6" y="1181.6" width="10.4" height="13" transform="rotate(-2.8 1194.8 1188.1)"/><rect x="1203.6" y="1181.0" width="10.4" height="13" transform="rotate(-2.0 1208.8 1187.5)"/><rect x="1218.0" y="1180.6" width="10.4" height="13" transform="rotate(-1.1 1223.2 1187.1)"/><rect x="1232.0" y="1180.5" width="10.4" height="13" transform="rotate(-0.2 1237.2 1187.0)"/><rect x="1245.7" y="1180.5" width="10.4" height="13" transform="rotate(0.6 1250.9 1187.0)"/><rect x="1259.7" y="1180.8" width="10.4" height="13" transform="rotate(1.5 1264.9 1187.3)"/><rect x="1273.8" y="1181.2" width="10.4" height="13" transform="rotate(2.4 1279.0 1187.7)"/><rect x="1288.4" y="1182.0" width="10.4" height="13" transform="rotate(3.2 1293.6 1188.5)"/><rect x="1302.5" y="1182.9" width="10.4" height="13" transform="rotate(4.1 1307.7 1189.4)"/><rect x="1316.8" y="1184.0" width="10.4" height="13" transform="rotate(4.9 1322.0 1190.5)"/></g>
<polygon points="533.8,1288.2 535.7,1293.2 540.9,1293.4 536.8,1296.7 538.2,1301.8 533.8,1298.9 529.4,1301.8 530.8,1296.7 526.7,1293.4 531.9,1293.2" class="st"/>
<polygon points="675.0,1248.4 676.9,1253.4 682.1,1253.6 678.0,1256.9 679.4,1262.0 675.0,1259.0 670.6,1262.0 672.0,1256.9 667.9,1253.6 673.1,1253.4" class="st"/>
<polygon points="1488.7,1177.9 1490.6,1182.9 1495.8,1183.1 1491.7,1186.4 1493.1,1191.5 1488.7,1188.5 1484.3,1191.5 1485.7,1186.4 1481.6,1183.1 1486.8,1182.9" class="st"/>
<polygon points="1586.0,1195.5 1587.9,1200.5 1593.1,1200.7 1589.0,1204.0 1590.4,1209.1 1586.0,1206.2 1581.6,1209.1 1583.0,1204.0 1578.9,1200.7 1584.1,1200.5" class="st"/>
<polygon points="1737.9,1227.5 1739.8,1232.5 1745.0,1232.7 1740.9,1236.0 1742.3,1241.1 1737.9,1238.2 1733.5,1241.1 1734.9,1236.0 1730.8,1232.7 1736.0,1232.5" class="st"/></g>
<rect x="260.5" y="1133.5" width="1550" height="222" fill="none" stroke="#000" stroke-width="1"/>
<text x="188" y="1193" font-size="28">15<tspan dy="-13" dx="1" font-size="21">o</tspan><tspan dy="13" dx="1">N</tspan></text>
<text x="215" y="1258" font-size="28">0<tspan dy="-13" dx="1.5" font-size="21">o</tspan></text>
<text x="188" y="1323" font-size="28">15<tspan dy="-13" dx="1" font-size="21">o</tspan><tspan dy="13" dx="1">S</tspan></text>
<text x="256" y="1410" font-size="28.6" fill="#000" text-anchor="middle" font-weight="normal" >GLON</text>
<text x="440.2" y="1410" font-size="28.8" fill="#000" text-anchor="middle" font-weight="normal" >261.3</text>
<text x="621.2" y="1410" font-size="28.8" fill="#000" text-anchor="middle" font-weight="normal" >303.3</text>
<text x="905.2" y="1410" font-size="28.8" fill="#000" text-anchor="middle" font-weight="normal" >009.6</text>
<text x="1087.2" y="1410" font-size="28.8" fill="#000" text-anchor="middle" font-weight="normal" >051.7</text>
<text x="1268.2" y="1410" font-size="28.8" fill="#000" text-anchor="middle" font-weight="normal" >093.8</text>
<text x="1449.2" y="1410" font-size="28.8" fill="#000" text-anchor="middle" font-weight="normal" >135.8</text>
<text x="1629.2" y="1410" font-size="28.8" fill="#000" text-anchor="middle" font-weight="normal" >177.5</text>
<text x="1809.2" y="1410" font-size="28.8" fill="#000" text-anchor="middle" font-weight="normal" >219.3</text>
<text x="256" y="1450.5" font-size="28.6" fill="#000" text-anchor="middle" font-weight="normal" >GLAT</text>
<text x="440.2" y="1450.5" font-size="28.8" fill="#000" text-anchor="middle" font-weight="normal" >-13.0</text>
<text x="621.2" y="1450.5" font-size="28.8" fill="#000" text-anchor="middle" font-weight="normal" >-08.1</text>
<text x="905.2" y="1450.5" font-size="28.8" fill="#000" text-anchor="middle" font-weight="normal" >+01.5</text>
<text x="1087.2" y="1450.5" font-size="28.8" fill="#000" text-anchor="middle" font-weight="normal" >+10.3</text>
<text x="1268.2" y="1450.5" font-size="28.8" fill="#000" text-anchor="middle" font-weight="normal" >+13.0</text>
<text x="1449.2" y="1450.5" font-size="28.8" fill="#000" text-anchor="middle" font-weight="normal" >+08.2</text>
<text x="1629.2" y="1450.5" font-size="28.8" fill="#000" text-anchor="middle" font-weight="normal" >-01.6</text>
<text x="1809.2" y="1450.5" font-size="28.8" fill="#000" text-anchor="middle" font-weight="normal" >-10.4</text>
<text x="256" y="1491.5" font-size="28.6" fill="#000" text-anchor="middle" font-weight="normal" >&#160;GALT</text>
<text x="440.2" y="1491.5" font-size="28.8" fill="#000" text-anchor="middle" font-weight="normal" >&#160;627</text>
<text x="621.2" y="1491.5" font-size="28.8" fill="#000" text-anchor="middle" font-weight="normal" >&#160;479</text>
<text x="905.2" y="1491.5" font-size="28.8" fill="#000" text-anchor="middle" font-weight="normal" >&#160;401</text>
<text x="1087.2" y="1491.5" font-size="28.8" fill="#000" text-anchor="middle" font-weight="normal" >&#160;441</text>
<text x="1268.2" y="1491.5" font-size="28.8" fill="#000" text-anchor="middle" font-weight="normal" >&#160;571</text>
<text x="1449.2" y="1491.5" font-size="28.8" fill="#000" text-anchor="middle" font-weight="normal" >&#160;722</text>
<text x="1629.2" y="1491.5" font-size="28.8" fill="#000" text-anchor="middle" font-weight="normal" >&#160;806</text>
<text x="1809.2" y="1491.5" font-size="28.8" fill="#000" text-anchor="middle" font-weight="normal" >&#160;763</text>
<text x="256" y="1532.5" font-size="28.6" fill="#000" text-anchor="middle" font-weight="normal" >MLON</text>
<text x="440.2" y="1532.5" font-size="28.8" fill="#000" text-anchor="middle" font-weight="normal" >333.0</text>
<text x="621.2" y="1532.5" font-size="28.8" fill="#000" text-anchor="middle" font-weight="normal" >014.3</text>
<text x="905.2" y="1532.5" font-size="28.8" fill="#000" text-anchor="middle" font-weight="normal" >080.5</text>
<text x="1087.2" y="1532.5" font-size="28.8" fill="#000" text-anchor="middle" font-weight="normal" >123.2</text>
<text x="1268.2" y="1532.5" font-size="28.8" fill="#000" text-anchor="middle" font-weight="normal" >165.0</text>
<text x="1449.2" y="1532.5" font-size="28.8" fill="#000" text-anchor="middle" font-weight="normal" >206.1</text>
<text x="1629.2" y="1532.5" font-size="28.8" fill="#000" text-anchor="middle" font-weight="normal" >249.0</text>
<text x="1809.2" y="1532.5" font-size="28.8" fill="#000" text-anchor="middle" font-weight="normal" >291.5</text>
<text x="256" y="1573.5" font-size="28.6" fill="#000" text-anchor="middle" font-weight="normal" >MLAT</text>
<text x="440.2" y="1573.5" font-size="28.8" fill="#000" text-anchor="middle" font-weight="normal" >-04.7</text>
<text x="621.2" y="1573.5" font-size="28.8" fill="#000" text-anchor="middle" font-weight="normal" >+04.2</text>
<text x="905.2" y="1573.5" font-size="28.8" fill="#000" text-anchor="middle" font-weight="normal" >-11.7</text>
<text x="1087.2" y="1573.5" font-size="28.8" fill="#000" text-anchor="middle" font-weight="normal" >+02.2</text>
<text x="1268.2" y="1573.5" font-size="28.8" fill="#000" text-anchor="middle" font-weight="normal" >+04.2</text>
<text x="1449.2" y="1573.5" font-size="28.8" fill="#000" text-anchor="middle" font-weight="normal" >+00.1</text>
<text x="1629.2" y="1573.5" font-size="28.8" fill="#000" text-anchor="middle" font-weight="normal" >-04.5</text>
<text x="1809.2" y="1573.5" font-size="28.8" fill="#000" text-anchor="middle" font-weight="normal" >-07.5</text>
<text x="256" y="1614" font-size="28.6" fill="#000" text-anchor="middle" font-weight="normal" >UT</text>
<text x="440.2" y="1614" font-size="28.8" fill="#000" text-anchor="middle" font-weight="normal" >21:39</text>
<text x="621.2" y="1614" font-size="28.8" fill="#000" text-anchor="middle" font-weight="normal" >21:51</text>
<text x="905.2" y="1614" font-size="28.8" fill="#000" text-anchor="middle" font-weight="normal" >20:26</text>
<text x="1087.2" y="1614" font-size="28.8" fill="#000" text-anchor="middle" font-weight="normal" >20:37</text>
<text x="1268.2" y="1614" font-size="28.8" fill="#000" text-anchor="middle" font-weight="normal" >20:49</text>
<text x="1449.2" y="1614" font-size="28.8" fill="#000" text-anchor="middle" font-weight="normal" >21:01</text>
<text x="1629.2" y="1614" font-size="28.8" fill="#000" text-anchor="middle" font-weight="normal" >21:14</text>
<text x="1809.2" y="1614" font-size="28.8" fill="#000" text-anchor="middle" font-weight="normal" >21:27</text>
<text x="256" y="1654.5" font-size="28.6" fill="#000" text-anchor="middle" font-weight="normal" >SLT&#160;</text>
<text x="440.2" y="1654.5" font-size="28.8" fill="#000" text-anchor="middle" font-weight="normal" >15:00</text>
<text x="621.2" y="1654.5" font-size="28.8" fill="#000" text-anchor="middle" font-weight="normal" >18:00</text>
<text x="905.2" y="1654.5" font-size="28.8" fill="#000" text-anchor="middle" font-weight="normal" >21:00</text>
<text x="1087.2" y="1654.5" font-size="28.8" fill="#000" text-anchor="middle" font-weight="normal" >00:00</text>
<text x="1268.2" y="1654.5" font-size="28.8" fill="#000" text-anchor="middle" font-weight="normal" >03:00</text>
<text x="1449.2" y="1654.5" font-size="28.8" fill="#000" text-anchor="middle" font-weight="normal" >06:00</text>
<text x="1629.2" y="1654.5" font-size="28.8" fill="#000" text-anchor="middle" font-weight="normal" >09:00</text>
<text x="1809.2" y="1654.5" font-size="28.8" fill="#000" text-anchor="middle" font-weight="normal" >12:00</text>
<text transform="translate(1899.8,1621.5) rotate(-90)" font-size="21.5" textLength="350" lengthAdjust="spacingAndGlyphs">Preliminary corrected calibration, 2/11/09</text>
<text transform="translate(1924.6,1621.5) rotate(-90)" font-size="21.5" textLength="270.5" lengthAdjust="spacingAndGlyphs">Produced 12-Sep-2011 12:36:44</text>
<polyline points="260.5,609.1 261.5,608.1 262.5,608.2 263.5,608.0 264.5,607.8 265.5,606.4 266.5,605.3 267.5,604.5 268.5,604.8 269.5,604.1 270.5,601.8 271.5,599.4 272.5,598.3 273.5,598.8 274.5,596.5 275.5,593.8 276.5,593.7 277.5,591.6 278.5,590.7 279.5,589.8 280.5,588.9 281.5,589.0 282.5,587.8 283.5,586.7 284.5,586.7 285.5,586.2 286.5,583.7 287.5,583.9 288.5,582.7 289.5,582.5 290.5,580.8 291.5,580.9 292.5,580.0 293.5,578.9 294.5,577.5 295.5,577.1 296.5,575.7 297.5,574.6 298.5,574.9 299.5,573.1 300.5,573.5 301.5,571.8 302.5,568.5 303.5,568.6 304.5,566.3 305.5,565.7 306.5,564.2 307.5,561.4 308.5,561.3 309.5,560.1 310.5,559.7 311.5,556.9 312.5,557.0 313.5,554.5 314.5,553.8 315.5,552.2 316.5,552.9 317.5,551.6 318.5,552.2 319.5,550.2 320.5,549.7 321.5,549.0 322.5,547.3 323.5,546.9 324.5,547.2 325.5,545.3 326.5,545.0 327.5,543.7 328.5,543.0 329.5,541.2 330.5,540.1 331.5,539.3 332.5,538.0 333.5,536.2 334.5,536.2 335.5,534.3 336.5,533.9 337.5,533.5 338.5,534.6 339.5,533.3 340.5,532.4 341.5,531.9 342.5,532.6 343.5,531.1 344.5,530.6 345.5,531.5 346.5,529.8 347.5,530.0 348.5,529.8 349.5,529.1 350.5,528.9 351.5,529.2 352.5,527.2 353.5,526.0 354.5,524.9 355.5,525.3 356.5,524.6 357.5,524.3 358.5,523.1 359.5,522.4 360.5,521.5 361.5,520.8 362.5,520.3 363.5,518.9 364.5,518.3 365.5,518.5 366.5,516.5 367.5,514.1 368.5,515.9 369.5,514.5 370.5,513.2 371.5,514.1 372.5,513.0 373.5,512.1 374.5,511.7 375.5,511.0 376.5,511.3 377.5,511.4 378.5,509.8 379.5,509.6 380.5,509.9 381.5,507.1 382.5,507.4 383.5,506.3 384.5,505.1 385.5,504.5 386.5,504.5 387.5,504.1 388.5,502.7 389.5,502.5 390.5,502.3 391.5,501.3 392.5,501.0 393.5,500.0 394.5,499.4 395.5,499.6 396.5,498.1 397.5,497.1 398.5,496.7 399.5,494.5 400.5,493.9 401.5,493.7 402.5,492.6 403.5,492.2 404.5,490.1 405.5,487.9 406.5,489.0 407.5,487.1 408.5,484.3 409.5,484.7 410.5,482.5 411.5,479.9 412.5,479.6 413.5,478.3 414.5,478.6 415.5,475.9 416.5,475.3 417.5,474.3 418.5,473.5 419.5,472.7 420.5,473.0 421.5,473.1 422.5,472.3 423.5,470.8 424.5,470.1 425.5,470.5 426.5,469.5 427.5,469.1 428.5,467.9 429.5,470.4 430.5,469.6 431.5,468.3 432.5,469.6 433.5,469.9 434.5,467.3 435.5,468.6 436.5,468.7 437.5,469.5 438.5,469.0 439.5,469.0 440.5,469.2 441.5,470.7 442.5,471.0 443.5,469.2 444.5,469.0 445.5,471.7 446.5,469.2 447.5,469.6 448.5,470.1 449.5,469.8 450.5,469.5 451.5,468.5 452.5,466.9 453.5,467.3 454.5,466.4 455.5,466.9 456.5,465.0 457.5,463.4 458.5,463.0 459.5,464.1 460.5,462.0 461.5,460.2 462.5,460.6 463.5,460.3 464.5,460.4 465.5,458.2 466.5,458.7 467.5,458.1 468.5,456.3 469.5,456.0 470.5,456.7 471.5,456.0 472.5,454.8 473.5,454.4 474.5,455.0 475.5,454.1 476.5,454.1 477.5,453.5 478.5,454.1 479.5,454.0 480.5,456.0 481.5,453.9 482.5,454.9 483.5,455.0 484.5,453.9 485.5,454.8 486.5,452.5 487.5,454.0 488.5,454.6 489.5,452.3 490.5,453.1 491.5,454.6 492.5,453.6 493.5,452.4 494.5,452.4 495.5,451.8 496.5,452.1 497.5,451.4 498.5,450.4 499.5,449.6 500.5,449.5 501.5,449.9 502.5,448.7 503.5,448.4 504.5,447.3 505.5,446.0 506.5,445.9 507.5,446.6 508.5,446.0 509.5,445.2 510.5,444.5 511.5,445.6 512.5,445.2 513.5,445.0 514.5,444.9 515.5,445.2 516.5,445.0 517.5,445.4 518.5,445.2 519.5,445.8 520.5,446.0 521.5,445.7 522.5,446.4 523.5,447.3 524.5,447.3 525.5,448.4 526.5,449.4 527.5,448.5 528.5,447.8 529.5,449.8 530.5,449.0 531.5,449.4 532.5,447.9 533.5,450.0 534.5,449.3 535.5,448.6 536.5,448.4 537.5,448.7 538.5,448.5 539.5,448.4 540.5,447.9 541.5,449.5 542.5,448.7 543.5,448.8 544.5,448.8 545.5,447.1 546.5,449.1 547.5,448.5 548.5,448.6 549.5,448.7 550.5,447.3 551.5,447.9 552.5,446.1 553.5,445.3 554.5,444.7 555.5,444.7 556.5,444.4 557.5,442.8 558.5,441.5 559.5,442.6 560.5,440.4 561.5,441.4 562.5,440.0 563.5,439.0 564.5,438.5 565.5,438.7 566.5,438.5 567.5,437.2 568.5,437.5 569.5,437.7 570.5,435.9 571.5,435.0 572.5,434.9 573.5,434.5 574.5,434.9 575.5,434.6 576.5,434.0 577.5,435.1 578.5,432.8 579.5,434.0 580.5,436.6 581.5,436.2 582.5,436.1 583.5,436.3 584.5,437.5 585.5,436.9 586.5,437.4 587.5,437.4 588.5,439.0 589.5,439.4 590.5,440.3 591.5,441.2 592.5,442.5 593.5,443.2 594.5,444.9 595.5,444.2 596.5,445.8 597.5,447.3 598.5,446.2 599.5,447.1 600.5,447.1 601.5,447.4 602.5,447.1 603.5,445.7 604.5,446.6 605.5,446.6 606.5,445.9 607.5,446.9 608.5,447.1 609.5,447.5 610.5,449.5 611.5,450.0 612.5,450.3 613.5,450.8 614.5,451.8 615.5,452.6 616.5,453.4 617.5,454.8 618.5,455.5 619.5,457.2 620.5,458.3 621.5,459.3 622.5,459.6 623.5,460.7 624.5,462.5 625.5,463.1 626.5,464.3 627.5,463.6 628.5,464.1 629.5,466.7 630.5,467.2 631.5,468.4 632.5,468.5 633.5,468.6 634.5,469.0 635.5,468.3 636.5,470.3 637.5,469.6 638.5,470.7 639.5,470.9 640.5,471.3 641.5,472.1 642.5,471.5 643.5,471.9 644.5,471.9 645.5,472.6 646.5,474.4 647.5,473.3 648.5,474.7 649.5,474.8 650.5,475.1 651.5,475.2 652.5,473.8 653.5,474.6 654.5,475.4 655.5,473.7 656.5,474.0 657.5,473.4 658.5,474.0 659.5,472.9 660.5,474.7 661.5,473.4 662.5,472.9 663.5,475.5 664.5,475.2 665.5,475.2 666.5,475.5 667.5,475.1 668.5,475.5 669.5,476.5 670.5,476.9 671.5,477.1 672.5,476.7 673.5,476.3 674.5,476.5 675.5,477.5 676.5,477.8 677.5,476.7 678.5,476.7 679.5,477.9 680.5,478.0 681.5,478.4 682.5,477.5 683.5,478.7 684.5,479.1 685.5,480.1 686.5,479.3 687.5,481.8 688.5,481.7 689.5,482.3 690.5,481.6 691.5,483.0 692.5,485.0 693.5,484.1 694.5,486.5 695.5,487.8 696.5,487.9 697.5,490.1 698.5,490.3 699.5,492.5 700.5,493.2 701.5,494.3 702.5,496.9 703.5,497.4 704.5,499.1 705.5,498.7 706.5,500.4 707.5,502.8 708.5,504.1 709.5,504.1 710.5,505.1 711.5,504.2 712.5,505.5 713.5,504.9 714.5,506.3 715.5,506.1 716.5,506.4 717.5,507.2 718.5,508.9 719.5,507.3 720.5,507.9 721.5,509.5 722.5,508.9 723.5,510.9 724.5,510.3 725.5,510.6 726.5,511.2 727.5,512.6 728.5,512.3 729.5,512.7 730.5,512.9 731.5,512.1 732.5,512.9 733.5,514.9 734.5,514.7 735.5,514.8 736.5,515.2 737.5,514.7 738.5,515.6 739.5,515.0 740.5,516.2 741.5,515.8 742.5,516.4 743.5,517.2 744.5,516.9 745.5,517.9 746.5,518.1 747.5,518.3 748.5,518.9 749.5,516.5 750.5,515.9 751.5,517.0 752.5,516.7 753.5,517.0 754.5,514.8 755.5,513.4 756.5,510.7 757.5,510.3 758.5,508.8 759.5,506.1 760.5,504.7 761.5,503.8 762.5,502.6 763.5,499.3 764.5,500.4 765.5,499.5 766.5,498.2 767.5,497.5 768.5,496.6 769.5,494.6 770.5,494.5 771.5,493.0 773.3,489.0" fill="none" stroke="#00ee00" stroke-width="1.2"/>
<polyline points="881.3,370.4 882.6,370.6 883.9,361.8 884.3,481.8 885.2,359.8 885.6,492.0 886.5,361.6 887.8,367.6 889.1,375.2 890.4,366.9 890.8,425.5 891.7,369.9 892.1,393.3 893.0,369.3 893.4,457.0 894.3,372.9 894.7,504.5 895.6,385.9 896.9,390.4 898.2,384.4 898.6,399.3 899.5,391.0 900.8,373.6 902.1,386.6 903.4,378.4 903.8,497.3 904.7,381.0 905.1,494.8 906.0,381.2 907.3,391.0 908.6,385.7 909.0,490.0 909.9,395.4 911.2,404.1 912.5,390.7 912.9,424.4 913.8,394.2 914.2,504.9 915.1,393.7 916.4,394.9 916.8,532.3 917.7,396.7 918.1,450.0 919.0,400.3 919.4,595.1 920.3,398.5 920.7,547.7 921.6,403.0 922.9,397.0 923.3,438.4 924.2,397.2 924.6,408.6 925.5,397.9 926.8,394.7 928.1,390.2 928.5,445.2 929.4,393.0 930.7,389.1 932.0,388.2 933.3,388.7 933.7,394.0 934.6,387.9 935.9,392.6 936.3,473.6 937.2,396.6 938.5,398.8 939.8,402.4 941.1,404.4 941.5,456.5 942.4,408.6 942.8,412.9 943.7,415.2 945.0,417.7 945.4,433.8 946.3,428.9 947.6,431.3 948.9,436.8 949.3,449.0 950.2,442.6 950.6,624.0 951.5,440.3 951.9,560.0 952.8,435.3 953.2,607.5 954.1,437.4 954.5,466.0 955.4,432.3 955.8,603.3 956.7,426.4 957.1,487.8 958.0,428.8 959.3,418.0 960.6,413.0 961.0,419.8 961.9,415.1 962.3,499.2 963.2,414.6 964.5,416.5 965.8,417.0 967.1,417.8 967.5,419.3 968.4,420.6 969.7,423.7 971.0,429.2 972.3,432.0 973.6,435.4 974.0,506.5 974.9,439.9 976.2,445.2 976.6,484.2 977.5,451.2 978.8,464.0 979.2,549.2 980.1,462.8 981.4,451.3 981.8,600.0 982.7,442.2 984.0,438.3 984.4,617.8 985.3,449.8 986.6,437.3 987.0,607.5 987.9,439.3 989.2,438.5 990.5,443.6 991.8,441.6 992.2,452.8 993.1,447.1 994.4,442.0 995.7,436.9 996.1,560.0 997.0,435.6 998.3,435.2 999.6,437.5 1000.0,621.9 1000.9,437.5 1001.3,590.0 1002.2,444.4 1003.5,443.4 1004.8,438.2 1006.1,431.2 1007.4,427.0 1008.7,425.8 1010.0,426.4 1010.4,431.4 1011.3,427.4 1012.6,421.6 1013.0,469.7 1013.9,421.7 1014.3,490.0 1015.2,420.1 1016.5,426.0 1017.8,422.0 1019.1,418.2 1019.5,512.7 1020.4,422.1 1021.7,417.9 1023.0,412.0 1023.4,467.2 1024.3,410.5 1025.6,409.4 1026.9,408.5 1028.2,407.1 1029.5,400.6 1030.8,405.4 1032.1,398.0 1032.5,568.3 1033.4,400.7 1034.7,395.5 1035.1,424.7 1036.0,396.9 1037.3,397.2 1038.6,393.7 1039.9,393.3 1041.2,395.4 1042.5,392.3 1043.8,393.2 1045.1,394.2 1046.4,390.8 1046.8,524.0 1047.7,391.1 1048.1,437.5 1049.0,393.2 1050.3,389.5 1051.6,392.3 1052.9,392.7 1054.2,398.8 1055.5,400.7 1056.8,399.0 1058.1,401.4 1059.4,403.3 1059.8,455.0 1060.7,406.5 1062.0,410.9 1062.4,413.0 1063.3,414.2 1063.7,417.6 1064.6,420.3 1065.0,432.4 1065.9,422.6 1067.2,422.7 1067.6,426.8 1068.5,424.7 1068.9,446.4 1069.8,428.9 1071.1,430.4 1071.5,452.2 1072.4,433.7 1073.7,436.3 1074.1,464.3 1075.0,439.8 1075.4,474.0 1076.3,444.5 1077.6,443.0 1078.0,640.0 1078.9,446.0 1079.3,632.1 1080.2,459.4 1081.5,452.1 1081.9,466.6 1082.8,460.6 1084.1,468.7 1085.4,461.6 1085.8,513.7 1086.7,465.8 1087.1,568.6 1088.0,464.8 1088.4,492.3 1089.3,469.6 1090.6,469.6 1091.0,654.5 1091.9,473.5 1093.2,475.5 1094.5,475.1 1094.9,566.3 1095.8,479.2 1097.1,476.5 1097.5,500.0 1098.4,483.3 1099.7,480.7 1101.0,483.6 1102.3,485.4 1102.7,545.7 1103.6,490.9 1104.9,490.5 1105.3,495.4 1106.2,493.4 1107.5,494.9 1108.8,493.9 1109.2,520.5 1110.1,497.6 1111.4,496.7 1112.7,500.0 1114.0,499.6 1114.4,536.0 1115.3,502.8 1116.6,503.3 1117.0,508.1 1117.9,505.0 1119.2,511.1 1120.5,515.8 1120.9,517.0 1121.8,522.0 1123.1,527.2 1123.5,611.7 1124.4,526.6 1125.7,528.1 1127.0,530.9 1127.4,567.9 1128.3,529.1 1129.6,534.2 1130.0,579.1 1130.9,533.1 1131.3,568.0 1132.2,534.2 1133.5,545.1 1134.8,545.6 1135.2,596.3 1136.1,549.2 1136.5,551.7 1137.4,552.0 1138.7,557.4 1140.0,558.0 1140.4,562.4 1141.3,560.3 1141.7,637.0 1142.6,562.1 1143.9,563.1 1144.3,593.1 1145.2,565.9 1146.5,566.0 1146.9,570.2 1147.8,566.7 1149.1,568.0 1150.4,569.9 1150.8,572.5 1151.7,572.0 1152.1,603.3 1153.0,573.1 1154.3,574.3 1154.7,578.9 1155.6,575.4 1156.9,575.9 1157.3,628.4 1158.2,582.1 1159.5,584.5 1160.8,587.1 1161.2,620.0 1162.1,590.4 1162.5,599.5 1163.4,597.3 1163.8,655.4 1164.7,602.7 1165.1,640.0 1166.0,602.3 1166.4,630.0 1167.3,605.6 1168.6,600.8 1169.0,665.1 1169.9,603.9 1170.3,646.8 1171.2,598.5 1171.6,640.0 1172.5,604.1 1172.9,617.0 1173.8,602.2 1174.2,649.6 1175.1,611.4 1176.4,605.4 1176.8,680.7 1177.7,612.1 1179.0,612.1 1179.4,652.4 1180.3,614.0 1180.7,619.0 1181.6,616.2 1182.0,617.8 1182.9,617.2" fill="none" stroke="#00ee00" stroke-width="0.9"/>
<polyline points="1184.0,619.6 1185.0,622.1 1186.0,622.7 1187.0,622.7 1188.0,623.2 1189.0,624.9 1190.0,626.2 1191.0,627.2 1192.0,627.9 1193.0,629.2 1194.0,630.0 1195.0,629.6 1196.0,631.1 1197.0,631.9 1198.0,633.7 1199.0,633.7 1200.0,635.6 1201.0,636.2 1202.0,638.7 1203.0,638.4 1204.0,639.5 1205.0,640.6 1206.0,641.8 1207.0,644.3 1208.0,643.7 1209.0,644.6 1210.0,646.1 1211.0,648.8 1212.0,646.6 1213.0,651.3 1214.0,652.3 1215.0,651.5 1216.0,651.7 1217.0,651.1 1218.0,652.6 1219.0,652.0 1220.0,656.6 1221.0,658.2 1222.0,655.2 1223.0,656.5 1224.0,653.6 1225.0,657.2 1226.0,659.8 1227.0,660.5 1228.0,661.0 1229.0,663.3 1230.0,662.5 1231.0,662.2 1232.0,666.9 1233.0,660.6 1234.0,662.8 1235.0,664.4 1236.0,665.1 1237.0,665.7 1238.0,667.5 1239.0,667.3 1240.0,669.3 1241.0,671.2 1242.0,670.7 1243.0,671.6 1244.0,670.1 1245.0,670.3 1246.0,672.7 1247.0,675.7 1248.0,675.3 1249.0,677.3 1250.0,677.8 1251.0,678.2 1252.0,674.5 1253.0,678.7 1254.0,677.8 1255.0,680.6 1256.0,677.7 1257.0,677.3 1258.0,676.6 1259.0,677.3 1260.0,673.8 1261.0,676.7 1262.0,677.2 1263.0,679.6 1264.0,676.7 1265.0,678.6 1266.0,682.4 1267.0,678.0 1268.0,681.1 1269.0,678.7 1270.0,679.9 1271.0,681.4 1272.0,682.6 1273.0,680.2 1274.0,679.4 1275.0,684.8 1276.0,682.4 1277.0,683.9 1278.0,684.4 1279.0,684.4 1280.0,682.7 1281.0,683.2 1282.0,680.7 1283.0,684.4 1284.0,684.1 1285.0,686.0 1286.0,690.7 1287.0,689.4 1288.0,689.1 1289.0,687.3 1290.0,691.4 1291.0,692.9 1292.0,692.5 1293.0,695.1 1294.0,696.4 1295.0,698.4 1296.0,700.1 1297.0,701.2 1298.0,703.7 1299.0,704.9 1300.0,708.5 1301.0,710.1 1302.0,711.2 1303.0,712.9 1304.0,714.4 1305.0,716.1 1306.0,717.7 1307.0,719.1 1308.0,720.8 1309.0,721.7 1310.0,723.5 1311.0,725.4 1312.0,727.5 1313.0,728.8 1314.0,731.6 1315.0,731.8 1316.0,733.1 1317.0,735.0 1318.0,736.8 1319.0,738.8 1320.0,739.7 1321.0,740.2 1322.0,741.9 1323.0,744.0 1324.0,745.0 1325.0,746.8 1326.0,746.6 1327.0,748.0 1328.0,748.3 1329.0,748.4 1330.0,748.2 1331.0,747.6 1332.0,747.1 1333.0,747.4 1334.0,746.9 1335.0,744.1 1336.0,744.9 1337.0,745.2 1338.0,744.4 1339.0,742.9 1340.0,742.9 1341.0,742.0 1342.0,741.2 1343.0,741.4 1344.0,740.9 1345.0,739.3 1346.0,738.5 1347.0,737.7 1348.0,737.1 1349.0,738.1 1350.0,738.2 1351.0,736.9 1352.0,737.2 1353.0,735.9 1354.0,736.0 1355.0,736.3 1356.0,735.7 1357.0,735.3 1358.0,734.0 1359.0,734.5 1360.0,735.4 1361.0,735.6 1362.0,736.2 1363.0,736.2 1364.0,736.7 1365.0,737.2 1366.0,738.1 1367.0,738.7 1368.0,739.2 1369.0,740.3 1370.0,741.9 1371.0,742.1 1372.0,742.6 1373.0,743.4 1374.0,746.2 1375.0,748.3 1376.0,750.7 1377.0,751.8 1378.0,754.8 1379.0,754.2 1380.0,755.7 1381.0,754.7 1382.0,762.0 1383.0,765.9 1384.0,760.6 1385.0,758.7 1386.0,753.5 1387.0,763.9 1388.0,761.0 1389.0,761.9 1390.0,759.4 1391.0,758.0 1392.0,760.7 1393.0,765.8 1394.0,768.8 1395.0,763.2 1396.0,765.2 1397.0,762.2 1398.0,760.8 1399.0,751.8 1400.0,763.1 1401.0,759.6 1402.0,762.8 1403.0,749.0 1404.0,751.5 1405.0,743.5 1406.0,748.5 1407.0,745.6 1408.0,749.4 1409.0,743.8 1410.0,747.5 1411.0,740.1 1412.0,745.6 1413.0,739.5 1414.0,737.9 1415.0,740.1 1416.0,740.7 1417.0,729.3 1418.0,727.6 1419.0,736.5 1420.0,734.0 1421.0,721.5 1422.0,722.3 1423.0,726.7 1424.0,732.0 1425.0,730.2 1426.0,733.9 1427.0,733.8 1428.0,739.8 1429.0,716.7 1430.0,724.0 1431.0,729.5 1432.0,715.0 1433.0,713.2 1434.0,721.6 1435.0,725.9 1436.0,725.9 1437.0,706.9 1438.0,708.8 1439.0,713.9 1440.0,710.0 1441.0,713.5 1442.0,711.0 1443.0,719.1 1444.0,708.0 1445.0,709.8 1446.0,709.5 1447.0,715.9 1448.0,703.3 1449.0,712.4 1450.0,706.0 1451.0,702.6 1452.0,717.7 1453.0,713.8 1454.0,718.8 1455.0,712.1 1456.0,714.4 1457.0,711.3 1458.0,712.6 1459.0,705.6 1460.0,716.7 1461.0,700.4 1462.0,705.0 1463.0,702.7 1464.0,702.0 1465.0,700.4 1466.0,699.3 1467.0,698.7 1468.0,696.8 1469.0,695.0 1470.0,694.5 1471.0,693.6 1472.0,690.6 1473.0,691.4 1474.0,690.3 1475.0,687.5 1476.0,687.2 1477.0,686.5 1478.0,684.1 1479.0,683.3 1480.0,682.1 1481.0,681.4 1482.0,680.5 1483.0,678.6 1484.0,677.4 1485.0,676.6 1486.0,675.2 1487.0,673.5 1488.0,673.1 1489.0,670.7 1490.0,671.3 1491.0,670.5 1492.0,670.1 1493.0,670.2 1494.0,669.7 1495.0,670.7 1496.0,669.3 1497.0,668.8 1498.0,669.1 1499.0,668.4 1500.0,666.3 1501.0,667.0 1502.0,666.7 1503.0,665.2 1504.0,665.1 1505.0,664.0 1506.0,663.8 1507.0,662.0 1508.0,661.1 1509.0,661.3 1510.0,661.1 1511.0,661.1 1512.0,659.6 1513.0,658.8 1514.0,659.2 1515.0,658.2 1516.0,658.7 1517.0,657.0 1518.0,655.4 1519.0,655.5 1520.0,654.8 1521.0,654.0 1522.0,653.9 1523.0,653.7 1524.0,653.7 1525.0,653.4 1526.0,653.7 1527.0,653.5 1528.0,653.2 1529.0,653.0 1530.0,651.5 1531.0,651.5 1532.0,651.7 1533.0,652.2 1534.0,651.0 1535.0,651.3 1536.0,651.5 1537.0,652.2 1538.0,650.9 1539.0,650.1 1540.0,650.8 1541.0,650.0 1542.0,649.4 1543.0,649.9 1544.0,648.4 1545.0,648.8 1546.0,648.4 1547.0,648.6 1548.0,647.1 1549.0,646.8 1550.0,647.0 1551.0,646.8 1552.0,646.7 1553.0,646.2 1554.0,646.4 1555.0,646.3 1556.0,645.8 1557.0,644.7 1558.0,645.8 1559.0,643.9 1560.0,644.4 1561.0,644.8 1562.0,643.5 1563.0,644.4 1564.0,644.4 1565.0,643.9 1566.0,642.9 1567.0,642.9 1568.0,641.7 1569.0,642.0 1570.0,641.7 1571.0,641.2 1572.0,640.9 1573.0,640.4 1574.0,639.0 1575.0,640.4 1576.0,640.4 1577.0,641.4 1578.0,640.6 1579.0,640.2 1580.0,640.6 1581.0,640.5 1582.0,640.1 1583.0,639.8 1584.0,639.2 1585.0,640.1 1586.0,641.0 1587.0,638.9 1588.0,639.4 1589.0,640.4 1590.0,640.1 1591.0,640.2 1592.0,638.8 1593.0,639.6 1594.0,640.2 1595.0,640.3 1596.0,640.1 1597.0,639.3 1598.0,640.2 1599.0,639.1 1600.0,639.3 1601.0,639.1 1602.0,640.7 1603.0,639.5 1604.0,639.8 1605.0,638.5 1606.0,640.4 1607.0,640.0 1608.0,638.7 1609.0,638.7 1610.0,640.7 1611.0,639.1 1612.0,640.8 1613.0,639.4 1614.0,638.2 1615.0,640.3 1616.0,639.9 1617.0,640.0 1618.0,639.3 1619.0,639.4 1620.0,640.1 1621.0,639.0 1622.0,638.3 1623.0,640.1 1624.0,639.1 1625.0,640.2 1626.0,639.1 1627.0,639.1 1628.0,639.1 1629.0,637.8 1630.0,639.8 1631.0,638.7 1632.0,638.9 1633.0,640.0 1634.0,639.3 1635.0,639.9 1636.0,639.8 1637.0,640.2 1638.0,640.0 1639.0,640.7 1640.0,640.0 1641.0,640.5 1642.0,639.7 1643.0,640.9 1644.0,638.8 1645.0,640.2 1646.0,640.3 1647.0,640.3 1648.0,640.1 1649.0,640.9 1650.0,641.3 1651.0,639.7 1652.0,638.9 1653.0,639.4 1654.0,639.5 1655.0,639.9 1656.0,640.0 1657.0,640.6 1658.0,639.7 1659.0,640.0 1660.0,640.0 1661.0,639.4 1662.0,639.7 1663.0,641.6 1664.0,639.9 1665.0,639.3 1666.0,638.6 1667.0,640.5 1668.0,639.7 1669.0,639.5 1670.0,641.3 1671.0,640.7 1672.0,638.8 1673.0,639.6 1674.0,640.4 1675.0,640.3 1676.0,638.9 1677.0,640.5 1678.0,640.4 1679.0,638.5 1680.0,637.9 1681.0,638.0 1682.0,639.1 1683.0,639.1 1684.0,638.4 1685.0,637.9 1686.0,638.1 1687.0,638.4 1688.0,637.3 1689.0,636.9 1690.0,637.8 1691.0,638.5 1692.0,637.8 1693.0,637.7 1694.0,637.1 1695.0,638.0 1696.0,636.3 1697.0,637.3 1698.0,636.9 1699.0,637.0 1700.0,636.5 1701.0,637.4 1702.0,636.8 1703.0,636.5 1704.0,637.0 1705.0,636.6 1706.0,636.2 1707.0,635.9 1708.0,636.6 1709.0,635.4 1710.0,635.7 1711.0,635.5 1712.0,635.6 1713.0,635.2 1714.0,636.4 1715.0,633.9 1716.0,635.1 1717.0,634.6 1718.0,635.1 1719.0,633.3 1720.0,635.2 1721.0,633.8 1722.0,635.2 1723.0,635.3 1724.0,635.2 1725.0,634.9 1726.0,635.0 1727.0,635.7 1728.0,635.4 1729.0,634.7 1730.0,634.9 1731.0,636.5 1732.0,636.5 1733.0,636.4 1734.0,636.1 1735.0,636.4 1736.0,636.5 1737.0,636.4 1738.0,635.8 1739.0,635.9 1740.0,635.7 1741.0,636.5 1742.0,635.5 1743.0,635.8 1744.0,636.4 1745.0,635.1 1746.0,635.6 1747.0,635.7 1748.0,633.4 1749.0,633.4 1750.0,634.4 1751.0,633.6 1752.0,634.2 1753.0,634.2 1754.0,633.4 1755.0,634.1 1756.0,634.5 1757.0,633.9 1758.0,632.7 1759.0,633.1 1760.0,632.9 1761.0,634.1 1762.0,633.1 1763.0,632.8 1764.0,633.2 1765.0,633.5 1766.0,633.0 1767.0,633.3 1768.0,633.2 1769.0,633.6 1770.0,633.8 1771.0,633.4 1772.0,632.9 1773.0,633.4 1774.0,632.7 1775.0,633.9 1776.0,633.4 1777.0,633.4 1778.0,631.4 1779.0,633.8 1780.0,632.8 1781.0,632.3 1782.0,631.2 1783.0,631.0 1784.0,631.8 1785.0,628.9 1786.0,629.1 1787.0,628.3 1788.0,627.3 1789.0,626.8 1790.0,625.3 1791.0,625.5 1792.0,623.7 1793.0,624.9 1794.0,623.7 1795.0,622.1 1796.0,620.7 1797.0,621.4 1798.0,621.0 1799.0,619.4 1800.0,620.4 1801.0,618.9 1802.0,617.8 1803.0,616.5 1804.0,616.3 1805.0,615.4 1806.0,615.0 1807.0,614.3 1808.0,612.8 1809.0,612.2 1809.5,611.0" fill="none" stroke="#00ee00" stroke-width="1.2"/>
<polyline points="260.3,610.1 268.3,604.8 278.9,590.9 289.4,583.0 300.0,573.7 308.0,562.4 316.0,552.5 326.5,545.2 334.5,535.9 342.5,532.6 350.4,529.3 361.0,522.0 367.6,515.4 376.9,511.4 387.5,504.1 398.1,496.9 404.7,490.2 414.0,478.3 418.0,474.3 428.6,469.3 437.9,469.3 448.5,470.4 459.0,463.7 472.3,454.5 492.2,454.2 506.8,446.5 518.8,444.8 527.5,449.4 537.7,448.9 549.3,449.1 560.9,441.2 569.6,436.5 578.3,434.9 585.5,436.8 596.4,446.2 607.3,447.4 616.0,453.5 627.6,465.8 634.8,469.4 650.8,475.0 660.9,473.8 671.1,476.7 679.8,477.4 691.4,483.2 700.1,492.6 708.8,504.2 720.4,508.6 732.0,513.7 748.0,518.5 753.7,515.8 762.4,502.8 772.6,492.4" fill="none" stroke="#000" stroke-width="1.15" stroke-linejoin="round"/>
<polyline points="880.5,383.0 884.0,385.0 887.0,392.0 890.0,399.0 892.0,401.0 895.0,398.0 897.5,403.0 900.0,410.0 901.5,414.0 904.0,407.0 906.0,401.0 908.0,406.0 910.0,413.0 912.0,424.0 914.5,424.5 917.0,420.0 919.0,416.0 923.0,414.0 924.5,413.0 927.0,406.0 929.0,399.0 932.0,398.0 936.0,400.0 939.0,403.0 941.0,410.0 944.0,426.0 946.0,440.0 948.0,455.0 950.0,465.0 955.0,466.0 957.0,455.0 959.0,435.0 960.6,426.2 964.7,414.9 970.9,428.3 975.0,444.7 980.2,484.9 985.3,475.6 991.5,474.6 995.6,459.2 1001.8,457.1 1008.0,434.4 1018.3,431.4 1024.5,422.1 1034.8,403.6 1043.9,394.9 1051.7,400.1 1059.4,408.8 1069.1,426.3 1076.9,457.4 1084.7,482.6 1092.4,481.7 1100.2,491.4 1109.9,500.1 1117.7,509.8 1123.5,529.2 1131.3,548.6 1139.0,558.3 1152.6,573.9 1160.4,597.2 1168.2,624.4 1175.9,620.5 1183.7,620.5 1199.2,634.1 1214.8,651.6 1220.0,654.0 1229.0,661.5 1239.5,669.0 1250.0,675.8 1262.0,677.3 1272.5,681.0 1283.0,684.0 1292.0,693.0 1301.0,709.5 1313.0,729.0 1325.0,746.3 1331.0,748.5 1340.0,742.5 1349.0,737.3 1358.0,735.0 1365.5,737.3 1373.0,744.0 1379.0,756.0 1386.5,762.8 1397.0,763.2 1406.0,747.0 1415.0,739.5 1427.0,726.8 1436.0,718.5 1443.5,708.0 1451.0,710.7 1457.0,710.3 1466.0,699.0 1475.0,688.5 1488.5,671.7 1500.5,667.2 1511.0,660.3 1522.0,654.3 1534.6,651.7 1547.2,648.0 1559.8,644.6 1574.0,640.2 1624.4,639.5 1632.3,639.0 1640.2,640.2 1674.8,639.8 1684.3,638.3 1704.7,636.7 1718.9,634.3 1728.3,635.9 1741.0,636.4 1748.8,634.3 1758.3,633.2 1777.2,633.2 1783.5,630.4 1791.3,624.9 1802.4,617.8 1809.4,611.5" fill="none" stroke="#000" stroke-width="1.15" stroke-linejoin="round"/>
<polyline points="260.0,317.2 262.0,319.0 264.0,320.8 266.0,322.7 268.0,324.6 270.0,326.5 272.0,328.4 274.0,330.4 276.0,332.3 278.0,334.3 280.0,336.3 282.0,338.4 284.0,340.4 286.0,342.5 288.0,344.5 290.0,346.6 292.0,348.7 294.0,350.9 296.0,353.0 298.0,355.2 300.0,357.4 302.0,359.6 304.0,361.8 306.0,364.0 308.0,366.2 310.0,368.5 312.0,370.8 314.0,373.1 316.0,375.4 318.0,377.7 320.0,380.0 322.0,382.4 324.0,384.8 326.0,387.2 328.0,389.5 330.0,392.0 332.0,394.4 334.0,396.8 336.0,399.3 338.0,401.7 340.0,404.2 342.0,406.7 344.0,409.2 346.0,411.7 348.0,414.2 350.0,416.8 352.0,419.3 354.0,421.9 356.0,424.5 358.0,427.0 360.0,429.6 362.0,432.2 364.0,434.9 366.0,437.5 368.0,440.1 370.0,442.8 372.0,445.4 374.0,448.1 376.0,450.7 378.0,453.4 380.0,456.1 382.0,458.8 384.0,461.5 386.0,464.2 388.0,467.0 390.0,469.7 392.0,472.4 394.0,475.2 396.0,477.9 398.0,480.7 400.0,483.4 402.0,486.2 404.0,489.0 406.0,491.7 408.0,494.5 410.0,497.3 412.0,500.1 414.0,502.9 416.0,505.7 418.0,508.5 420.0,511.3 422.0,514.2 424.0,517.0 426.0,519.8 428.0,522.6 430.0,525.5 432.0,528.3 434.0,531.1 436.0,534.0 438.0,536.8 440.0,539.6 442.0,542.5 444.0,545.3 446.0,548.2 448.0,551.0 450.0,553.9 452.0,556.7 454.0,559.6 456.0,562.4 458.0,565.3 460.0,568.1 462.0,571.0 464.0,573.8 466.0,576.7 468.0,579.5 470.0,582.4 472.0,585.2 474.0,588.1 476.0,590.9 478.0,593.7 480.0,596.6 482.0,599.4 484.0,602.2 486.0,605.1 488.0,607.9 490.0,610.7 492.0,613.5 494.0,616.3 496.0,619.2 498.0,622.0 500.0,624.8 502.0,627.6 504.0,630.4 506.0,633.1 508.0,635.9 510.0,638.7 512.0,641.5 514.0,644.2 516.0,647.0 518.0,649.8 520.0,652.5 522.0,655.2 524.0,658.0 526.0,660.7 528.0,663.4 530.0,666.1 532.0,668.8 534.0,671.5 536.0,674.2 538.0,676.9 540.0,679.6 542.0,682.3 544.0,684.9 546.0,687.6 548.0,690.2 550.0,692.8 552.0,695.5 554.0,698.1 556.0,700.7 558.0,703.3 560.0,705.9 562.0,708.4 564.0,711.0 566.0,713.6 568.0,716.1 570.0,718.6 572.0,721.2 574.0,723.7 576.0,726.2 578.0,728.7 580.0,731.1 582.0,733.6 584.0,736.1 586.0,738.5 588.0,740.9 590.0,743.3 592.0,745.7 594.0,748.1 596.0,750.5 598.0,752.9 600.0,755.2 602.0,757.6 604.0,759.9 606.0,762.2 608.0,764.5 610.0,766.8 612.0,769.1 614.0,771.4 616.0,773.6 618.0,775.8 620.0,778.0 622.0,780.3 624.0,782.4 626.0,784.6 628.0,786.8 630.0,788.9 632.0,791.0 634.0,793.2 636.0,795.3 638.0,797.3 640.0,799.4 642.0,801.5 644.0,803.5 646.0,805.5 648.0,807.5 650.0,809.5 652.0,811.5 654.0,813.4 656.0,815.4 658.0,817.3 660.0,819.2 662.0,821.1 664.0,822.9 666.0,824.8 668.0,826.6 670.0,828.5 672.0,830.3 674.0,832.0 676.0,833.8 678.0,835.6 680.0,837.3 682.0,839.0 684.0,840.7 686.0,842.4 688.0,844.0 690.0,845.7 692.0,847.3 694.0,848.9 696.0,850.5 698.0,852.1 700.0,853.6 702.0,855.1 704.0,856.7 706.0,858.1 708.0,859.6 710.0,861.1 712.0,862.5 714.0,863.9 716.0,865.3 718.0,866.7 720.0,868.1 722.0,869.4 724.0,870.7 726.0,872.0 728.0,873.3 730.0,874.6 732.0,875.8 734.0,877.0 736.0,878.2 738.0,879.4 740.0,880.6 742.0,881.7 744.0,882.8 746.0,883.9 748.0,885.0 750.0,886.0 752.0,887.1 754.0,888.1 756.0,889.1 758.0,890.1 760.0,891.0 762.0,892.0 764.0,892.9 766.0,893.8 768.0,894.6 770.0,895.5 772.0,896.3 772.5,896.5" fill="none" stroke="#100080" stroke-width="1.4"/>
<polyline points="880.5,905.3 882.5,905.9 884.5,906.4 886.5,906.8 888.5,907.3 890.5,907.7 892.5,908.2 894.5,908.6 896.5,908.9 898.5,909.3 900.5,909.6 902.5,909.9 904.5,910.2 906.5,910.5 908.5,910.7 910.5,911.0 912.5,911.2 914.5,911.4 916.5,911.5 918.5,911.6 920.5,911.8 922.5,911.9 924.5,911.9 926.5,912.0 928.5,912.0 930.5,912.0 932.5,912.0 934.5,912.0 936.5,911.9 938.5,911.8 940.5,911.7 942.5,911.6 944.5,911.4 946.5,911.3 948.5,911.1 950.5,910.9 952.5,910.6 954.5,910.4 956.5,910.1 958.5,909.8 960.5,909.5 962.5,909.1 964.5,908.8 966.5,908.4 968.5,908.0 970.5,907.5 972.5,907.1 974.5,906.6 976.5,906.1 978.5,905.6 980.5,905.1 982.5,904.5 984.5,903.9 986.5,903.3 988.5,902.7 990.5,902.0 992.5,901.4 994.5,900.7 996.5,900.0 998.5,899.2 1000.5,898.5 1002.5,897.7 1004.5,896.9 1006.5,896.1 1008.5,895.3 1010.5,894.4 1012.5,893.5 1014.5,892.6 1016.5,891.7 1018.5,890.7 1020.5,889.8 1022.5,888.8 1024.5,887.8 1026.5,886.8 1028.5,885.7 1030.5,884.6 1032.5,883.5 1034.5,882.4 1036.5,881.3 1038.5,880.2 1040.5,879.0 1042.5,877.8 1044.5,876.6 1046.5,875.3 1048.5,874.1 1050.5,872.8 1052.5,871.5 1054.5,870.2 1056.5,868.9 1058.5,867.5 1060.5,866.2 1062.5,864.8 1064.5,863.3 1066.5,861.9 1068.5,860.5 1070.5,859.0 1072.5,857.5 1074.5,856.0 1076.5,854.5 1078.5,852.9 1080.5,851.3 1082.5,849.8 1084.5,848.2 1086.5,846.5 1088.5,844.9 1090.5,843.2 1092.5,841.6 1094.5,839.9 1096.5,838.1 1098.5,836.4 1100.5,834.7 1102.5,832.9 1104.5,831.1 1106.5,829.3 1108.5,827.5 1110.5,825.6 1112.5,823.8 1114.5,821.9 1116.5,820.0 1118.5,818.1 1120.5,816.2 1122.5,814.2 1124.5,812.2 1126.5,810.3 1128.5,808.3 1130.5,806.3 1132.5,804.2 1134.5,802.2 1136.5,800.1 1138.5,798.1 1140.5,796.0 1142.5,793.9 1144.5,791.7 1146.5,789.6 1148.5,787.4 1150.5,785.3 1152.5,783.1 1154.5,780.9 1156.5,778.7 1158.5,776.4 1160.5,774.2 1162.5,771.9 1164.5,769.6 1166.5,767.4 1168.5,765.1 1170.5,762.7 1172.5,760.4 1174.5,758.1 1176.5,755.7 1178.5,753.3 1180.5,750.9 1182.5,748.5 1184.5,746.1 1186.5,743.7 1188.5,741.3 1190.5,738.8 1192.5,736.4 1194.5,733.9 1196.5,731.4 1198.5,728.9 1200.5,726.4 1202.5,723.9 1204.5,721.4 1206.5,718.8 1208.5,716.3 1210.5,713.7 1212.5,711.1 1214.5,708.5 1216.5,705.9 1218.5,703.3 1220.5,700.7 1222.5,698.1 1224.5,695.4 1226.5,692.8 1228.5,690.1 1230.5,687.5 1232.5,684.8 1234.5,682.1 1236.5,679.4 1238.5,676.7 1240.5,674.0 1242.5,671.3 1244.5,668.6 1246.5,665.9 1248.5,663.1 1250.5,660.4 1252.5,657.6 1254.5,654.9 1256.5,652.1 1258.5,649.3 1260.5,646.5 1262.5,643.8 1264.5,641.0 1266.5,638.2 1268.5,635.4 1270.5,632.6 1272.5,629.7 1274.5,626.9 1276.5,624.1 1278.5,621.3 1280.5,618.5 1282.5,615.6 1284.5,612.8 1286.5,609.9 1288.5,607.1 1290.5,604.2 1292.5,601.4 1294.5,598.5 1296.5,595.7 1298.5,592.8 1300.5,589.9 1302.5,587.1 1304.5,584.2 1306.5,581.3 1308.5,578.5 1310.5,575.6 1312.5,572.7 1314.5,569.9 1316.5,567.0 1318.5,564.1 1320.5,561.2 1322.5,558.4 1324.5,555.5 1326.5,552.6 1328.5,549.7 1330.5,546.9 1332.5,544.0 1334.5,541.1 1336.5,538.3 1338.5,535.4 1340.5,532.5 1342.5,529.7 1344.5,526.8 1346.5,524.0 1348.5,521.1 1350.5,518.3 1352.5,515.4 1354.5,512.6 1356.5,509.8 1358.5,506.9 1360.5,504.1 1362.5,501.3 1364.5,498.5 1366.5,495.6 1368.5,492.8 1370.5,490.0 1372.5,487.2 1374.5,484.4 1376.5,481.7 1378.5,478.9 1380.5,476.1 1382.5,473.3 1384.5,470.6 1386.5,467.8 1388.5,465.1 1390.5,462.4 1392.5,459.6 1394.5,456.9 1396.5,454.2 1398.5,451.5 1400.5,448.8 1402.5,446.1 1404.5,443.4 1406.5,440.8 1408.5,438.1 1410.5,435.5 1412.5,432.8 1414.5,430.2 1416.5,427.6 1418.5,425.0 1420.5,422.4 1422.5,419.8 1424.5,417.3 1426.5,414.7 1428.5,412.2 1430.5,409.6 1432.5,407.1 1434.5,404.6 1436.5,402.1 1438.5,399.6 1440.5,397.2 1442.5,394.7 1444.5,392.3 1446.5,389.8 1448.5,387.4 1450.5,385.0 1452.5,382.7 1454.5,380.3 1456.5,377.9 1458.5,375.6 1460.5,373.3 1462.5,371.0 1464.5,368.7 1466.5,366.4 1468.5,364.1 1470.5,361.9 1472.5,359.7 1474.5,357.5 1476.5,355.3 1478.5,353.1 1480.5,350.9 1482.5,348.8 1484.5,346.7 1486.5,344.6 1488.5,342.5 1490.5,340.4 1492.5,338.3 1494.5,336.3 1496.5,334.3 1498.5,332.3 1500.5,330.3 1502.5,328.4 1504.5,326.4 1506.5,324.5 1508.5,322.6 1510.5,320.8 1512.5,318.9 1514.5,317.1 1516.5,315.2 1518.5,313.5 1520.5,311.7 1522.5,309.9 1524.5,308.2 1526.5,306.5 1528.5,304.8 1530.5,303.1 1532.5,301.5 1534.5,299.9 1536.5,298.3 1538.5,296.7 1540.5,295.1 1542.5,293.6 1544.5,292.1 1546.5,290.6 1548.5,289.1 1550.5,287.7 1552.5,286.3 1554.5,284.9 1556.5,283.5 1558.5,282.2 1560.5,280.8 1562.5,279.5 1564.5,278.2 1566.5,277.0 1568.5,275.8 1570.5,274.6 1572.5,273.4 1574.5,272.2 1576.5,271.1 1578.5,270.0 1580.5,268.9 1582.5,267.8 1584.5,266.8 1586.5,265.8 1588.5,264.8 1590.5,263.9 1592.5,262.9 1594.5,262.0 1596.5,261.2 1598.5,260.3 1600.5,259.5 1602.5,258.7 1604.5,257.9 1606.5,257.1 1608.5,256.4 1610.5,255.7 1612.5,255.0 1614.5,254.4 1616.5,253.8 1618.5,253.2 1620.5,252.6 1622.5,252.1 1624.5,251.6 1626.5,251.1 1628.5,250.6 1630.5,250.2 1632.5,249.8 1634.5,249.4 1636.5,249.0 1638.5,248.7 1640.5,248.4 1642.5,248.1 1644.5,247.9 1646.5,247.6 1648.5,247.4 1650.5,247.3 1652.5,247.1 1654.5,247.0 1656.5,246.9 1658.5,246.9 1660.5,246.8 1662.5,246.8 1664.5,246.9 1666.5,246.9 1668.5,247.0 1670.5,247.1 1672.5,247.2 1674.5,247.4 1676.5,247.5 1678.5,247.7 1680.5,248.0 1682.5,248.2 1684.5,248.5 1686.5,248.8 1688.5,249.2 1690.5,249.5 1692.5,249.9 1694.5,250.4 1696.5,250.8 1698.5,251.3 1700.5,251.8 1702.5,252.3 1704.5,252.9 1706.5,253.4 1708.5,254.0 1710.5,254.7 1712.5,255.3 1714.5,256.0 1716.5,256.7 1718.5,257.5 1720.5,258.2 1722.5,259.0 1724.5,259.8 1726.5,260.7 1728.5,261.5 1730.5,262.4 1732.5,263.3 1734.5,264.3 1736.5,265.2 1738.5,266.2 1740.5,267.2 1742.5,268.3 1744.5,269.3 1746.5,270.4 1748.5,271.5 1750.5,272.7 1752.5,273.9 1754.5,275.0 1756.5,276.2 1758.5,277.5 1760.5,278.7 1762.5,280.0 1764.5,281.3 1766.5,282.7 1768.5,284.0 1770.5,285.4 1772.5,286.8 1774.5,288.2 1776.5,289.7 1778.5,291.1 1780.5,292.6 1782.5,294.1 1784.5,295.7 1786.5,297.2 1788.5,298.8 1790.5,300.4 1792.5,302.0 1794.5,303.7 1796.5,305.4 1798.5,307.0 1800.5,308.7 1802.5,310.5 1804.5,312.2 1806.5,314.0 1808.5,315.8 1810.0,317.2" fill="none" stroke="#100080" stroke-width="1.4"/>
<g fill="#0000f0"><rect x="706.8" y="858.0" width="10.4" height="13" transform="rotate(35.5 712.0 864.5)"/><rect x="721.2" y="867.6" width="10.4" height="13" transform="rotate(32.7 726.4 874.1)"/><rect x="735.6" y="876.4" width="10.4" height="13" transform="rotate(29.7 740.8 882.9)"/><rect x="749.2" y="883.3" width="10.4" height="13" transform="rotate(26.6 754.4 889.8)"/><rect x="763.6" y="890.2" width="10.4" height="13" transform="rotate(23.1 768.8 896.7)"/><rect x="883.5" y="899.7" width="10.4" height="13" transform="rotate(12.7 888.7 906.2)"/><rect x="897.8" y="902.6" width="10.4" height="13" transform="rotate(8.4 903.0 909.1)"/><rect x="912.1" y="904.7" width="10.4" height="13" transform="rotate(4.0 917.3 911.2)"/><rect x="925.7" y="905.3" width="10.4" height="13" transform="rotate(-0.3 930.9 911.8)"/><rect x="940.0" y="904.9" width="10.4" height="13" transform="rotate(-4.7 945.2 911.4)"/><rect x="953.0" y="903.2" width="10.4" height="13" transform="rotate(-8.8 958.2 909.7)"/><rect x="966.7" y="900.9" width="10.4" height="13" transform="rotate(-12.9 971.9 907.4)"/><rect x="981.0" y="897.1" width="10.4" height="13" transform="rotate(-17.0 986.2 903.6)"/><rect x="994.6" y="892.1" width="10.4" height="13" transform="rotate(-20.7 999.8 898.6)"/><rect x="1008.9" y="886.2" width="10.4" height="13" transform="rotate(-24.4 1014.1 892.7)"/><rect x="1022.6" y="879.3" width="10.4" height="13" transform="rotate(-27.7 1027.8 885.8)"/><rect x="1036.9" y="871.4" width="10.4" height="13" transform="rotate(-30.9 1042.1 877.9)"/><rect x="1050.6" y="862.5" width="10.4" height="13" transform="rotate(-33.7 1055.8 869.0)"/><rect x="1063.6" y="853.4" width="10.4" height="13" transform="rotate(-36.2 1068.8 859.9)"/><rect x="1076.6" y="843.2" width="10.4" height="13" transform="rotate(-38.5 1081.8 849.7)"/><rect x="1089.6" y="832.3" width="10.4" height="13" transform="rotate(-40.5 1094.8 838.8)"/><rect x="1102.6" y="820.7" width="10.4" height="13" transform="rotate(-42.4 1107.8 827.2)"/><rect x="1116.0" y="808.3" width="10.4" height="13" transform="rotate(-44.2 1121.2 814.8)"/><rect x="1128.0" y="795.8" width="10.4" height="13" transform="rotate(-45.6 1133.2 802.3)"/><rect x="1140.3" y="782.4" width="10.4" height="13" transform="rotate(-46.9 1145.5 788.9)"/><rect x="1151.9" y="769.9" width="10.4" height="13" transform="rotate(-48.1 1157.1 776.4)"/><rect x="1162.6" y="757.6" width="10.4" height="13" transform="rotate(-49.1 1167.8 764.1)"/><rect x="1174.1" y="744.3" width="10.4" height="13" transform="rotate(-50.0 1179.3 750.8)"/><rect x="1184.8" y="731.2" width="10.4" height="13" transform="rotate(-50.8 1190.0 737.7)"/><rect x="1195.5" y="718.4" width="10.4" height="13" transform="rotate(-51.5 1200.7 724.9)"/><rect x="1205.4" y="705.9" width="10.4" height="13" transform="rotate(-52.1 1210.6 712.4)"/><rect x="1215.3" y="692.5" width="10.4" height="13" transform="rotate(-52.7 1220.5 699.0)"/><rect x="1225.2" y="679.8" width="10.4" height="13" transform="rotate(-53.1 1230.4 686.3)"/><rect x="1235.9" y="666.0" width="10.4" height="13" transform="rotate(-53.6 1241.1 672.5)"/><rect x="1246.6" y="651.7" width="10.4" height="13" transform="rotate(-54.0 1251.8 658.2)"/><rect x="1256.5" y="637.8" width="10.4" height="13" transform="rotate(-54.3 1261.7 644.3)"/><rect x="1265.5" y="624.9" width="10.4" height="13" transform="rotate(-54.6 1270.7 631.4)"/><rect x="1274.6" y="611.5" width="10.4" height="13" transform="rotate(-54.8 1279.8 618.0)"/><rect x="1285.3" y="597.3" width="10.4" height="13" transform="rotate(-55.0 1290.5 603.8)"/><rect x="1295.2" y="582.8" width="10.4" height="13" transform="rotate(-55.1 1300.4 589.3)"/><rect x="1304.3" y="569.7" width="10.4" height="13" transform="rotate(-55.1 1309.5 576.2)"/><rect x="1314.1" y="556.1" width="10.4" height="13" transform="rotate(-55.2 1319.3 562.6)"/><rect x="1325.4" y="543.4" width="6" height="13" transform="rotate(-55.1 1328.4 549.9)"/></g>
<text x="1500" y="844" font-size="28" fill="#0800c0">Eclipse</text>
<line x1="1612" y1="834.5" x2="1762" y2="834.5" stroke="#0000f0" stroke-width="13" stroke-dasharray="10 4"/>
<text x="1499" y="884.5" font-size="28" fill="#000">One Minute Average</text>
<text x="1499" y="926.5" font-size="28" fill="#00dd00">One Second Average</text>
</svg>
</body></html>
